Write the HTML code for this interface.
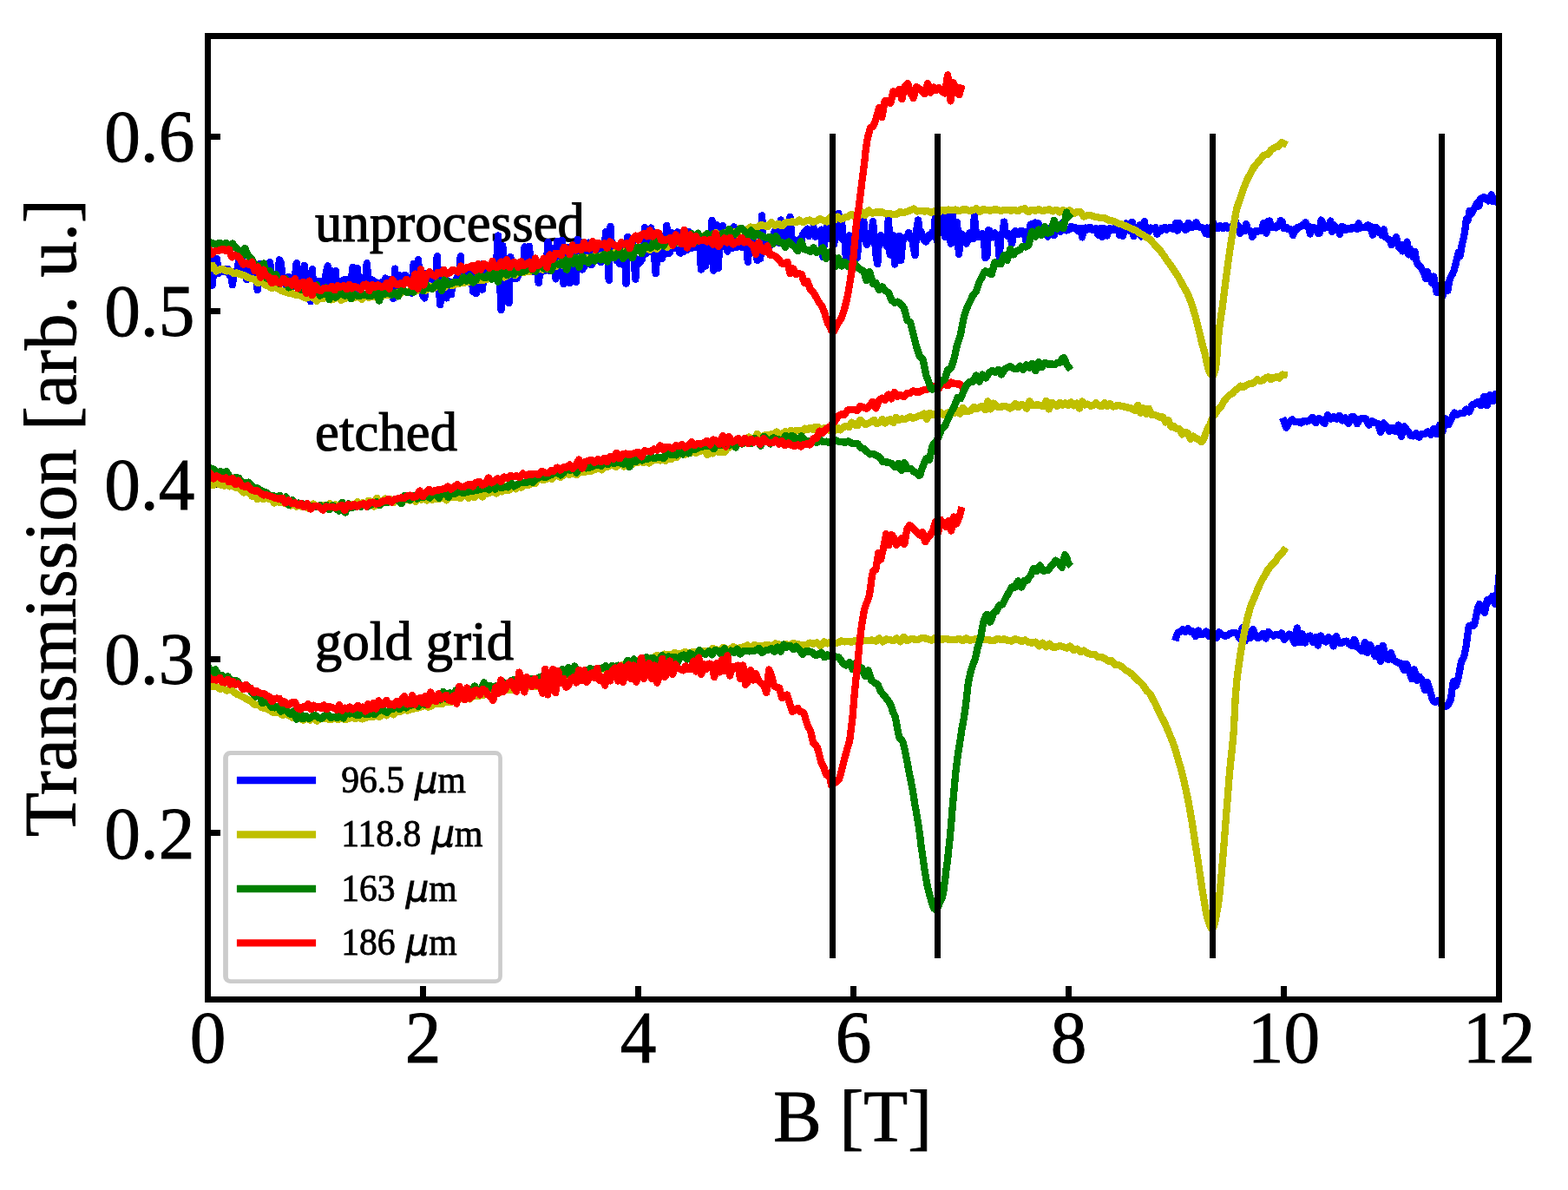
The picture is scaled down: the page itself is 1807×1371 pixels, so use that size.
<!DOCTYPE html>
<html lang="en"><head><meta charset="utf-8"><title>Transmission vs B</title>
<style>html,body{margin:0;padding:0;background:#fff}svg{display:block}text{font-family:"Liberation Serif","Times New Roman",Times,serif;fill:#000;stroke:#000;stroke-width:0.9px}.lg text{stroke-width:0.8px}.an text{stroke-width:1.2px;letter-spacing:0.2px}.mu{font-family:"DejaVu Sans","Liberation Sans",sans-serif;font-style:italic}</style></head><body>
<svg width="1807" height="1371" viewBox="0 0 1807 1371">
<rect width="1807" height="1371" fill="#fff"/>
<defs><clipPath id="ax"><rect x="239.5" y="41.5" width="1488.0" height="1110.0"/></clipPath></defs>
<g fill="#000" shape-rendering="crispEdges">
<rect x="236.0" y="1136" width="7" height="15.5"/>
<rect x="484.0" y="1136" width="7" height="15.5"/>
<rect x="732.0" y="1136" width="7" height="15.5"/>
<rect x="980.0" y="1136" width="7" height="15.5"/>
<rect x="1228.0" y="1136" width="7" height="15.5"/>
<rect x="1476.0" y="1136" width="7" height="15.5"/>
<rect x="1724.0" y="1136" width="7" height="15.5"/>
<rect x="239.5" y="956" width="14.5" height="7"/>
<rect x="239.5" y="756" width="14.5" height="7"/>
<rect x="239.5" y="555" width="14.5" height="7"/>
<rect x="239.5" y="355" width="14.5" height="7"/>
<rect x="239.5" y="154" width="14.5" height="7"/>
</g>
<g class="an" font-size="62.5">
<text transform="translate(363.0 278.0) scale(1 1.025)">unprocessed</text>
<text transform="translate(363.0 519.3) scale(1 1.025)">etched</text>
<text transform="translate(363.0 759.8) scale(1 1.025)">gold grid</text>
</g>
<g clip-path="url(#ax)" fill="none" stroke-width="8.3" stroke-linejoin="round" stroke-linecap="square" shape-rendering="crispEdges">
<path stroke="#0000ff" d="M1355.5 734.4 L1356.9 730.0 L1357.3 729.3 L1359.1 727.8 L1359.9 728.3 L1360.9 727.1 L1362.7 725.2 L1362.9 725.0 L1364.5 726.6 L1365.9 728.0 L1366.3 727.5 L1368.1 725.3 L1368.9 724.3 L1369.9 725.6 L1371.7 727.8 L1371.9 727.9 L1373.5 727.7 L1374.9 727.5 L1375.3 728.4 L1377.1 731.8 L1377.9 733.2 L1378.9 730.8 L1380.7 726.7 L1380.9 726.5 L1382.5 729.0 L1383.9 731.1 L1384.3 731.0 L1386.2 730.7 L1386.9 730.5 L1388.0 729.4 L1389.8 727.6 L1389.9 727.5 L1391.6 730.5 L1392.9 732.8 L1393.4 732.2 L1395.2 730.0 L1395.9 729.1 L1397.0 728.9 L1398.8 728.7 L1398.9 728.7 L1400.6 732.2 L1401.9 734.8 L1402.4 733.7 L1404.2 729.9 L1404.9 728.4 L1406.0 729.3 L1407.8 730.9 L1407.9 730.9 L1409.6 731.8 L1410.9 732.5 L1411.4 732.5 L1413.2 732.4 L1413.9 732.4 L1415.0 731.7 L1416.8 730.5 L1416.9 730.4 L1418.6 729.6 L1419.9 729.0 L1420.4 729.1 L1422.2 729.1 L1422.9 729.2 L1424.0 729.4 L1425.8 729.9 L1425.9 729.9 L1427.6 733.5 L1428.9 736.1 L1429.4 733.6 L1431.2 725.8 L1431.9 723.0 L1433.0 729.0 L1434.8 738.2 L1434.9 738.4 L1436.6 731.9 L1437.9 727.3 L1438.4 728.7 L1440.2 733.1 L1440.9 734.7 L1442.0 730.9 L1443.9 725.0 L1443.9 725.0 L1445.7 729.7 L1446.9 732.9 L1447.5 733.3 L1449.3 734.7 L1449.9 735.2 L1451.1 734.3 L1452.9 732.9 L1452.9 732.9 L1454.7 730.9 L1455.9 729.6 L1456.5 730.8 L1458.3 734.3 L1458.9 735.5 L1460.1 732.4 L1461.9 727.8 L1461.9 727.9 L1463.7 729.6 L1464.9 730.8 L1465.5 731.2 L1467.3 732.3 L1467.9 732.7 L1469.1 732.0 L1470.9 730.9 L1470.9 730.9 L1472.7 731.4 L1473.9 731.8 L1474.5 731.3 L1476.3 729.8 L1476.9 729.4 L1478.1 732.6 L1479.9 737.1 L1479.9 737.1 L1481.7 735.1 L1482.9 733.8 L1483.5 733.1 L1485.3 731.3 L1485.9 730.7 L1487.1 731.6 L1488.9 732.8 L1488.9 733.0 L1490.7 738.0 L1491.9 741.1 L1492.5 737.2 L1494.3 726.6 L1494.9 723.5 L1496.1 730.7 L1497.9 740.4 L1497.9 740.2 L1499.7 734.3 L1500.9 730.6 L1501.6 732.9 L1503.4 738.9 L1503.9 740.6 L1505.2 737.5 L1506.9 733.4 L1507.0 733.4 L1508.8 732.9 L1509.9 732.6 L1510.6 734.3 L1512.4 738.6 L1512.9 739.8 L1514.2 737.2 L1515.9 733.9 L1516.0 734.2 L1517.8 740.0 L1518.9 743.5 L1519.6 740.9 L1521.4 734.3 L1521.9 732.5 L1523.2 734.8 L1524.9 737.8 L1525.0 737.9 L1526.8 738.8 L1527.9 739.4 L1528.6 738.2 L1530.4 735.1 L1530.9 734.3 L1532.2 735.1 L1533.9 736.0 L1534.0 736.3 L1535.8 741.4 L1536.9 744.4 L1537.6 741.6 L1539.4 734.9 L1539.9 733.2 L1541.2 736.6 L1542.9 740.7 L1543.0 740.7 L1544.8 741.0 L1545.9 741.2 L1546.6 740.7 L1548.4 739.5 L1548.9 739.2 L1550.2 738.9 L1551.9 738.6 L1552.0 738.8 L1553.8 740.9 L1554.9 742.1 L1555.6 742.5 L1557.4 743.6 L1557.9 743.9 L1559.2 740.5 L1560.9 736.7 L1561.1 737.2 L1562.9 742.3 L1563.9 745.2 L1564.7 745.8 L1566.5 747.0 L1566.9 747.2 L1568.3 748.8 L1569.9 750.4 L1570.1 749.7 L1571.9 743.4 L1572.9 739.9 L1573.7 743.2 L1575.5 750.5 L1575.9 752.1 L1577.3 747.9 L1578.9 743.2 L1579.1 743.6 L1580.9 747.0 L1581.9 748.9 L1582.7 750.9 L1584.5 755.3 L1584.9 756.2 L1586.3 751.9 L1587.9 747.1 L1588.1 748.2 L1589.9 757.2 L1590.9 762.0 L1591.7 756.9 L1593.5 745.9 L1593.9 743.7 L1595.3 750.7 L1596.9 758.2 L1597.1 758.4 L1598.9 759.4 L1599.9 760.0 L1600.7 757.7 L1602.5 753.1 L1602.9 752.2 L1604.3 756.1 L1605.9 760.2 L1606.1 760.3 L1607.9 761.5 L1608.9 762.1 L1609.7 762.6 L1611.5 763.8 L1611.9 764.0 L1613.3 764.2 L1614.9 764.4 L1615.1 765.1 L1616.9 769.7 L1617.9 772.0 L1618.8 769.8 L1620.6 765.4 L1620.9 764.7 L1622.4 769.0 L1623.9 773.3 L1624.2 774.1 L1626.0 779.5 L1626.9 782.2 L1627.8 778.9 L1629.6 772.4 L1629.9 771.3 L1631.4 777.6 L1632.9 783.9 L1633.2 783.4 L1635.0 780.9 L1635.9 779.6 L1636.8 780.9 L1638.6 783.3 L1638.9 783.7 L1640.4 789.3 L1641.9 794.8 L1642.2 793.8 L1644.0 788.4 L1644.9 786.0 L1645.8 788.7 L1647.6 794.8 L1647.9 795.7 L1649.4 801.0 L1650.9 806.1 L1651.2 806.5 L1653.0 808.5 L1653.9 809.1 L1654.8 808.6 L1656.6 807.4 L1656.9 807.2 L1658.4 808.6 L1659.9 809.7 L1660.2 810.3 L1662.0 813.3 L1662.9 814.7 L1663.8 814.3 L1665.6 813.3 L1665.9 813.2 L1667.4 813.5 L1668.9 811.8 L1669.2 811.3 L1671.0 807.8 L1671.9 805.9 L1672.8 799.0 L1674.6 786.7 L1674.9 785.3 L1676.5 787.8 L1677.9 790.2 L1678.3 789.0 L1680.1 782.7 L1680.9 779.6 L1681.9 774.3 L1683.7 763.8 L1683.9 762.6 L1685.5 759.9 L1686.9 757.3 L1687.3 755.7 L1689.1 747.0 L1689.9 742.6 L1690.9 734.2 L1692.7 722.0 L1692.9 720.9 L1694.5 720.6 L1695.9 721.3 L1696.3 721.2 L1698.1 720.8 L1698.9 720.2 L1699.9 716.0 L1701.7 706.7 L1701.9 705.9 L1703.5 699.3 L1704.9 695.8 L1705.3 696.4 L1707.1 699.1 L1707.9 700.3 L1708.9 702.5 L1710.7 705.8 L1710.9 706.1 L1712.5 698.2 L1713.9 691.3 L1714.3 691.5 L1716.1 692.2 L1716.9 692.6 L1717.9 690.6 L1719.7 687.2 L1719.9 686.9 L1721.5 691.9 L1722.9 696.2 L1723.3 693.9 L1725.1 684.9 L1725.9 681.3 L1726.9 672.0 L1728.7 650.0"/>
<path stroke="#bfbf00" d="M239.5 789.6 L241.3 790.1 L241.4 790.2 L243.1 790.6 L244.9 791.0 L245.4 791.1 L246.7 791.1 L248.5 791.1 L249.4 791.1 L250.3 791.7 L252.1 792.9 L253.4 793.8 L253.9 793.7 L255.7 793.4 L257.4 793.0 L257.5 793.0 L259.3 794.2 L261.1 795.4 L261.4 795.6 L262.9 795.1 L264.7 794.6 L265.4 794.4 L266.5 795.1 L268.3 796.4 L269.4 797.3 L270.1 797.7 L271.9 798.9 L273.4 799.9 L273.7 800.0 L275.5 800.8 L277.3 801.5 L277.4 801.6 L279.1 802.5 L280.9 803.5 L281.4 803.8 L282.7 804.5 L284.5 805.6 L285.4 806.1 L286.3 806.4 L288.1 807.1 L289.4 807.6 L289.9 808.1 L291.7 809.9 L293.4 811.6 L293.5 811.6 L295.3 811.7 L297.1 811.8 L297.4 811.9 L298.9 813.0 L300.7 814.5 L301.4 815.1 L302.5 815.4 L304.3 815.9 L305.4 816.2 L306.1 816.3 L307.9 816.6 L309.4 816.8 L309.7 817.0 L311.5 818.7 L313.3 820.3 L313.4 820.5 L315.1 820.4 L316.9 820.4 L317.4 820.4 L318.7 820.5 L320.5 820.8 L321.4 820.9 L322.3 821.5 L324.1 822.8 L325.4 823.8 L325.9 823.7 L327.7 823.3 L329.4 822.8 L329.5 822.8 L331.3 823.6 L333.1 824.3 L333.4 824.4 L334.9 825.3 L336.7 826.4 L337.4 826.9 L338.5 826.9 L340.3 826.8 L341.4 826.8 L342.1 826.7 L343.9 826.6 L345.4 826.4 L345.7 826.6 L347.5 828.2 L349.3 829.7 L349.4 829.8 L351.1 828.4 L352.9 826.8 L353.4 826.3 L354.7 827.3 L356.5 828.8 L357.4 829.6 L358.3 828.9 L360.1 827.3 L361.4 826.1 L361.9 826.6 L363.7 828.7 L365.4 830.7 L365.5 830.6 L367.3 829.1 L369.1 827.7 L369.4 827.4 L370.9 827.5 L372.7 827.6 L373.4 827.6 L374.5 827.8 L376.3 828.1 L377.4 828.3 L378.1 828.4 L379.9 828.8 L381.4 829.2 L381.7 829.0 L383.5 827.8 L385.3 826.6 L385.4 826.5 L387.1 827.7 L388.9 828.9 L389.4 829.3 L390.7 828.6 L392.5 827.7 L393.4 827.2 L394.3 827.6 L396.1 828.4 L397.4 829.0 L397.9 828.9 L399.7 828.5 L401.4 828.1 L401.5 828.1 L403.3 827.3 L405.1 826.6 L405.4 826.4 L406.9 827.0 L408.7 827.7 L409.4 828.0 L410.5 827.5 L412.3 826.7 L413.4 826.1 L414.1 826.5 L415.9 827.5 L417.4 828.4 L417.7 828.3 L419.5 827.8 L421.3 827.2 L421.4 827.2 L423.1 826.6 L424.9 825.9 L425.4 825.7 L426.7 825.8 L428.5 825.9 L429.4 826.0 L430.3 825.8 L432.1 825.3 L433.4 824.9 L433.9 825.0 L435.7 825.5 L437.4 825.9 L437.5 825.9 L439.3 823.9 L441.1 821.9 L441.4 821.5 L442.9 822.5 L444.7 823.8 L445.4 824.3 L446.5 823.2 L448.3 821.1 L449.4 819.8 L450.1 820.4 L451.9 821.9 L453.4 823.3 L453.7 823.1 L455.5 821.5 L457.3 819.9 L457.4 819.7 L459.1 819.7 L460.9 819.6 L461.4 819.6 L462.7 819.1 L464.5 818.4 L465.4 818.0 L466.3 818.1 L468.1 818.4 L469.4 818.6 L469.9 818.5 L471.7 818.0 L473.4 817.5 L473.5 817.5 L475.3 816.9 L477.1 816.4 L477.4 816.3 L478.9 816.0 L480.7 815.7 L481.4 815.6 L482.5 815.3 L484.3 814.8 L485.4 814.5 L486.1 814.2 L487.9 813.3 L489.4 812.5 L489.7 812.6 L491.5 813.5 L493.3 814.5 L493.4 814.6 L495.1 814.0 L496.9 813.3 L497.4 813.1 L498.7 812.1 L500.5 810.8 L501.4 810.0 L502.3 810.3 L504.1 810.8 L505.4 811.2 L505.9 811.1 L507.7 811.1 L509.4 811.0 L509.5 811.0 L511.3 809.7 L513.1 808.5 L513.4 808.2 L514.9 808.4 L516.7 808.7 L517.4 808.8 L518.5 808.7 L520.3 808.6 L521.4 808.5 L522.1 808.1 L523.9 807.0 L525.4 806.0 L525.7 806.0 L527.5 805.5 L529.3 805.0 L529.4 804.9 L531.1 805.1 L532.9 805.3 L533.4 805.3 L534.7 804.8 L536.5 804.0 L537.4 803.6 L538.3 804.0 L540.1 804.8 L541.4 805.4 L541.9 805.0 L543.7 803.0 L545.4 801.1 L545.5 801.2 L547.3 801.7 L549.1 802.2 L549.4 802.3 L550.8 801.9 L552.6 801.5 L553.4 801.2 L554.4 801.1 L556.2 800.9 L557.4 800.7 L558.0 800.5 L559.8 800.0 L561.4 799.5 L561.6 799.4 L563.4 798.5 L565.2 797.6 L565.4 797.5 L567.0 798.1 L568.8 798.7 L569.4 798.9 L570.6 798.4 L572.4 797.6 L573.4 797.1 L574.2 797.2 L576.0 797.4 L577.4 797.5 L577.8 797.2 L579.6 795.8 L581.4 794.4 L581.4 794.4 L583.2 794.6 L585.0 794.8 L585.4 794.9 L586.8 795.0 L588.6 795.1 L589.4 795.2 L590.4 794.9 L592.2 794.5 L593.4 794.2 L594.0 794.0 L595.8 793.2 L597.4 792.6 L597.6 792.5 L599.4 791.8 L601.2 791.1 L601.4 791.0 L603.0 791.1 L604.8 791.2 L605.4 791.2 L606.6 791.0 L608.4 790.8 L609.4 790.7 L610.2 790.1 L612.0 788.8 L613.4 787.8 L613.8 788.1 L615.6 789.6 L617.4 791.0 L617.4 791.0 L619.2 788.1 L621.0 785.0 L621.4 784.3 L622.8 785.6 L624.6 787.2 L625.4 787.9 L626.4 786.5 L628.2 784.1 L629.4 782.5 L630.0 782.4 L631.8 782.2 L633.4 782.0 L633.6 782.1 L635.4 782.8 L637.2 783.6 L637.4 783.7 L639.0 782.9 L640.8 782.1 L641.4 781.8 L642.6 781.3 L644.4 780.6 L645.4 780.2 L646.2 779.9 L648.0 779.1 L649.4 778.4 L649.8 778.6 L651.6 779.2 L653.4 779.8 L653.4 779.8 L655.2 778.6 L657.0 777.5 L657.4 777.2 L658.8 777.4 L660.6 777.6 L661.4 777.7 L662.4 777.6 L664.2 777.3 L665.4 777.1 L666.0 776.9 L667.8 776.5 L669.4 776.2 L669.6 776.2 L671.4 775.9 L673.2 775.6 L673.4 775.6 L675.0 774.2 L676.8 772.7 L677.4 772.1 L678.6 773.2 L680.4 774.8 L681.4 775.7 L682.2 774.9 L684.0 773.1 L685.4 771.6 L685.8 771.8 L687.6 772.4 L689.4 773.0 L689.4 773.1 L691.2 771.9 L693.0 770.7 L693.4 770.4 L694.8 770.6 L696.6 770.8 L697.4 770.9 L698.4 770.7 L700.2 770.4 L701.4 770.2 L702.0 770.0 L703.8 769.3 L705.4 768.7 L705.6 768.7 L707.4 768.2 L709.2 767.8 L709.4 767.7 L711.0 767.9 L712.8 768.0 L713.4 768.0 L714.6 767.4 L716.4 766.4 L717.4 765.8 L718.2 765.8 L720.0 765.8 L721.4 765.8 L721.8 765.8 L723.6 765.7 L725.4 765.6 L725.4 765.6 L727.2 763.4 L729.0 761.2 L729.4 760.7 L730.8 762.3 L732.6 764.4 L733.4 765.4 L734.4 764.1 L736.2 761.8 L737.4 760.2 L738.0 760.0 L739.8 759.3 L741.4 758.7 L741.6 758.7 L743.4 759.0 L745.2 759.2 L745.4 759.3 L747.0 758.9 L748.8 758.5 L749.4 758.3 L750.6 758.0 L752.4 757.6 L753.4 757.3 L754.2 756.9 L756.0 755.8 L757.4 755.0 L757.8 755.2 L759.6 755.8 L761.4 756.6 L761.4 756.6 L763.2 755.2 L765.0 753.9 L765.4 753.6 L766.8 753.8 L768.6 754.2 L769.4 754.3 L770.4 754.5 L772.2 754.8 L773.4 754.9 L774.0 754.5 L775.8 753.2 L777.4 752.1 L777.6 752.2 L779.4 752.9 L781.2 753.6 L781.4 753.7 L783.0 753.5 L784.8 753.2 L785.4 753.1 L786.6 752.5 L788.4 751.6 L789.4 751.1 L790.2 751.4 L792.0 751.9 L793.4 752.4 L793.8 752.3 L795.6 751.9 L797.4 751.5 L797.4 751.4 L799.2 751.2 L801.0 750.8 L801.4 750.8 L802.8 750.9 L804.6 751.1 L805.4 751.2 L806.4 751.0 L808.2 750.7 L809.4 750.5 L810.0 750.4 L811.8 750.1 L813.4 749.8 L813.6 749.8 L815.4 750.5 L817.2 751.1 L817.4 751.2 L819.0 749.6 L820.8 747.8 L821.4 747.1 L822.6 747.5 L824.4 748.1 L825.4 748.5 L826.2 748.9 L828.0 749.9 L829.4 750.7 L829.8 750.3 L831.6 748.2 L833.4 746.1 L833.4 746.1 L835.2 746.8 L837.0 747.5 L837.4 747.7 L838.8 747.8 L840.6 747.8 L841.4 747.9 L842.4 747.2 L844.2 745.9 L845.4 745.1 L846.0 745.6 L847.8 747.1 L849.4 748.6 L849.6 748.5 L851.4 747.4 L853.2 746.4 L853.4 746.2 L855.0 745.9 L856.8 745.4 L857.4 745.3 L858.6 744.7 L860.4 743.9 L861.4 743.4 L862.2 744.1 L864.0 745.9 L865.4 747.2 L865.8 746.9 L867.6 745.0 L869.4 743.1 L869.4 743.1 L871.2 743.6 L873.0 744.2 L873.4 744.4 L874.8 744.5 L876.6 744.6 L877.4 744.6 L878.4 744.3 L880.2 743.8 L881.4 743.5 L882.0 743.4 L883.8 743.1 L885.4 742.9 L885.6 742.9 L887.4 744.0 L889.2 745.0 L889.4 745.2 L891.0 743.8 L892.8 742.1 L893.4 741.5 L894.6 741.8 L896.4 742.2 L897.4 742.5 L898.2 742.7 L900.0 743.4 L901.4 743.9 L901.8 743.7 L903.6 742.8 L905.4 741.9 L905.4 741.9 L907.2 743.0 L909.0 744.1 L909.4 744.3 L910.8 743.3 L912.6 742.0 L913.4 741.4 L914.4 741.5 L916.2 741.6 L917.4 741.7 L918.0 741.8 L919.8 742.3 L921.4 742.6 L921.6 742.6 L923.4 742.8 L925.2 742.9 L925.4 742.9 L927.0 742.9 L928.8 742.9 L929.4 742.9 L930.6 742.3 L932.4 741.2 L933.4 740.6 L934.2 740.8 L936.0 741.4 L937.4 741.8 L937.8 741.7 L939.6 741.0 L941.4 740.4 L941.4 740.4 L943.2 742.2 L945.0 743.9 L945.4 744.4 L946.8 742.7 L948.6 740.5 L949.4 739.4 L950.4 739.9 L952.2 740.8 L953.4 741.4 L954.0 741.1 L955.8 740.3 L957.4 739.6 L957.6 739.6 L959.4 740.3 L961.2 740.9 L961.4 741.0 L963.0 740.8 L964.8 740.5 L965.4 740.4 L966.6 739.9 L968.4 739.0 L969.4 738.5 L970.2 738.7 L972.0 739.1 L973.4 739.4 L973.8 739.3 L975.6 739.1 L977.4 739.0 L977.4 739.0 L979.2 739.3 L981.0 739.7 L981.4 739.8 L982.8 739.2 L984.6 738.4 L985.4 738.0 L986.4 738.0 L988.2 738.2 L989.4 738.3 L990.0 738.2 L991.8 737.9 L993.4 737.7 L993.6 737.7 L995.4 737.8 L997.2 738.0 L997.4 738.0 L999.0 737.9 L1000.8 737.7 L1001.4 737.7 L1002.6 737.7 L1004.4 737.6 L1005.4 737.6 L1006.2 737.8 L1008.0 738.3 L1009.4 738.6 L1009.8 738.4 L1011.6 736.9 L1013.4 735.4 L1013.4 735.3 L1015.2 737.1 L1017.0 738.9 L1017.4 739.4 L1018.8 738.4 L1020.6 737.1 L1021.4 736.4 L1022.4 736.6 L1024.2 736.8 L1025.4 737.0 L1026.0 737.2 L1027.8 737.7 L1029.4 738.1 L1029.6 738.0 L1031.4 736.9 L1033.2 735.7 L1033.4 735.5 L1035.0 737.0 L1036.8 738.8 L1037.4 739.4 L1038.6 737.8 L1040.4 735.3 L1041.4 733.8 L1042.2 734.6 L1044.0 736.5 L1045.4 738.1 L1045.8 737.9 L1047.6 737.1 L1049.4 736.3 L1049.4 736.3 L1051.2 736.3 L1053.0 736.4 L1053.4 736.4 L1054.8 736.6 L1056.6 736.9 L1057.4 737.1 L1058.4 736.7 L1060.2 735.9 L1061.4 735.3 L1062.0 735.3 L1063.8 735.3 L1065.4 735.3 L1065.6 735.3 L1067.4 735.7 L1069.2 736.2 L1069.4 736.2 L1071.0 736.7 L1072.8 737.4 L1073.4 737.6 L1074.6 736.9 L1076.4 735.8 L1077.4 735.1 L1078.2 735.1 L1080.0 734.9 L1081.4 734.8 L1081.8 735.0 L1083.6 736.0 L1085.4 736.9 L1085.4 737.0 L1087.2 736.5 L1089.0 736.1 L1089.4 736.0 L1090.8 736.2 L1092.6 736.5 L1093.4 736.6 L1094.4 736.8 L1096.2 737.0 L1097.4 737.2 L1098.0 737.2 L1099.8 737.0 L1101.4 736.9 L1101.6 736.9 L1103.4 736.4 L1105.2 735.9 L1105.4 735.9 L1107.0 736.8 L1108.8 737.9 L1109.4 738.3 L1110.6 737.5 L1112.4 736.2 L1113.4 735.4 L1114.2 735.9 L1116.0 737.0 L1117.4 737.8 L1117.8 737.8 L1119.6 737.4 L1121.4 737.0 L1121.4 737.0 L1123.2 736.5 L1125.0 736.1 L1125.4 735.9 L1126.8 736.7 L1128.6 737.7 L1129.4 738.2 L1130.4 737.8 L1132.2 737.1 L1133.4 736.6 L1134.0 736.7 L1135.8 736.8 L1137.4 737.0 L1137.6 737.0 L1139.4 737.3 L1141.2 737.6 L1141.4 737.7 L1143.0 737.8 L1144.8 738.0 L1145.4 738.1 L1146.6 737.4 L1148.4 736.4 L1149.4 735.8 L1150.2 736.0 L1152.0 736.5 L1153.4 736.9 L1153.8 736.9 L1155.6 736.6 L1157.4 736.3 L1157.4 736.2 L1159.2 737.0 L1161.0 737.7 L1161.4 738.0 L1162.8 738.1 L1164.6 738.4 L1165.4 738.6 L1166.4 738.0 L1168.2 736.9 L1169.4 736.2 L1169.9 736.3 L1171.7 736.8 L1173.4 737.4 L1173.5 737.4 L1175.3 738.2 L1177.1 738.9 L1177.4 739.0 L1178.9 738.4 L1180.7 737.8 L1181.4 737.5 L1182.5 738.2 L1184.3 739.3 L1185.4 739.9 L1186.1 740.0 L1187.9 740.4 L1189.4 740.7 L1189.7 740.6 L1191.5 740.1 L1193.3 739.6 L1193.4 739.6 L1195.1 741.6 L1196.9 743.8 L1197.4 744.4 L1198.7 743.1 L1200.5 741.4 L1201.4 740.6 L1202.3 741.7 L1204.1 743.8 L1205.4 745.4 L1205.9 744.9 L1207.7 743.3 L1209.4 741.7 L1209.5 741.8 L1211.3 743.7 L1213.1 745.5 L1213.4 745.8 L1214.9 745.7 L1216.7 745.5 L1217.4 745.4 L1218.5 745.0 L1220.3 744.5 L1221.4 744.1 L1222.1 744.3 L1223.9 744.8 L1225.4 745.2 L1225.7 745.3 L1227.5 746.0 L1229.3 746.7 L1229.4 746.8 L1231.1 745.8 L1232.9 744.9 L1233.4 744.6 L1234.7 746.1 L1236.5 748.2 L1237.4 749.3 L1238.3 748.9 L1240.1 748.1 L1241.4 747.6 L1241.9 748.1 L1243.7 749.7 L1245.4 751.3 L1245.5 751.3 L1247.3 750.5 L1249.1 749.8 L1249.4 749.6 L1250.9 750.9 L1252.7 752.3 L1253.4 752.8 L1254.5 753.1 L1256.3 753.6 L1257.4 753.9 L1258.1 753.9 L1259.9 753.9 L1261.4 753.9 L1261.7 754.1 L1263.5 755.5 L1265.3 756.9 L1265.4 756.9 L1267.1 757.0 L1268.9 757.1 L1269.4 757.1 L1270.7 757.7 L1272.5 758.5 L1273.4 758.9 L1274.3 759.6 L1276.1 760.8 L1277.4 761.7 L1277.9 761.6 L1279.7 761.4 L1281.4 761.3 L1281.5 761.4 L1283.3 763.5 L1285.1 765.6 L1285.4 765.9 L1286.9 765.9 L1288.7 766.1 L1289.4 766.2 L1290.5 766.8 L1292.3 767.9 L1293.4 768.6 L1294.1 769.2 L1295.9 770.9 L1297.4 772.3 L1297.7 772.4 L1299.5 773.3 L1301.3 774.3 L1301.4 774.4 L1303.1 775.7 L1304.9 777.0 L1305.4 777.4 L1306.7 778.9 L1308.5 781.1 L1309.4 782.2 L1310.3 782.9 L1312.1 784.3 L1313.4 785.4 L1313.9 785.9 L1315.7 787.7 L1317.4 789.4 L1317.5 789.5 L1319.3 792.3 L1321.1 795.1 L1321.4 795.6 L1322.9 797.0 L1324.7 798.8 L1325.4 799.6 L1326.5 801.6 L1328.3 805.0 L1329.4 807.2 L1330.1 808.4 L1331.9 811.9 L1333.4 815.1 L1333.7 815.8 L1335.5 819.9 L1337.3 823.7 L1337.4 823.9 L1339.1 827.0 L1340.9 830.4 L1341.4 831.3 L1342.7 834.1 L1344.5 838.2 L1345.4 840.3 L1346.3 842.4 L1348.1 846.7 L1349.4 850.0 L1349.9 851.1 L1351.7 855.6 L1353.4 860.1 L1353.5 860.4 L1355.3 866.4 L1357.1 872.8 L1357.4 874.0 L1358.9 878.9 L1360.7 885.0 L1361.4 887.5 L1362.5 891.8 L1364.3 899.4 L1365.4 904.3 L1366.1 907.2 L1367.9 915.5 L1369.4 923.1 L1369.7 924.6 L1371.5 934.5 L1373.3 944.8 L1373.4 945.5 L1375.1 956.2 L1376.9 968.1 L1377.4 971.6 L1378.7 979.7 L1380.5 991.2 L1381.4 997.3 L1382.3 1003.4 L1384.1 1015.8 L1385.4 1024.4 L1385.9 1027.4 L1387.7 1038.2 L1389.4 1048.4 L1389.5 1048.8 L1391.3 1057.3 L1393.1 1063.0 L1393.4 1063.7 L1394.9 1067.7 L1396.7 1070.5 L1397.4 1070.4 L1398.5 1068.3 L1400.3 1061.8 L1401.4 1056.2 L1402.1 1052.6 L1403.9 1042.4 L1405.4 1031.0 L1405.7 1028.4 L1407.5 1008.7 L1409.3 988.1 L1409.4 986.6 L1411.1 965.5 L1412.9 942.3 L1413.4 935.7 L1414.7 919.2 L1416.5 896.6 L1417.4 885.9 L1418.3 877.0 L1420.1 860.8 L1421.4 846.6 L1421.9 840.4 L1423.7 803.6 L1425.4 783.0 L1425.5 782.4 L1427.3 768.7 L1429.1 756.5 L1429.4 754.3 L1430.9 745.2 L1432.7 735.3 L1433.4 731.7 L1434.5 726.3 L1436.3 717.8 L1437.4 712.8 L1438.1 710.0 L1439.9 703.3 L1441.4 698.4 L1441.7 697.6 L1443.5 693.3 L1445.3 689.2 L1445.4 688.9 L1447.1 684.7 L1448.9 680.2 L1449.4 678.9 L1450.7 676.0 L1452.5 672.0 L1453.4 670.1 L1454.3 668.5 L1456.1 665.3 L1457.4 663.2 L1457.9 662.3 L1459.7 659.0 L1461.4 656.0 L1461.5 655.9 L1463.3 653.7 L1465.1 651.5 L1465.4 651.1 L1466.9 649.7 L1468.7 648.0 L1469.4 647.3 L1470.5 645.6 L1472.3 642.6 L1473.4 640.8 L1474.1 640.2 L1475.9 638.6 L1477.4 637.4 L1477.7 636.9 L1479.5 634.2"/>
<path stroke="#008000" d="M239.5 771.7 L240.9 769.6 L241.3 770.2 L243.1 773.5 L244.5 776.1 L244.9 775.6 L246.7 773.2 L248.1 771.3 L248.5 771.9 L250.3 775.0 L251.7 777.5 L252.1 777.5 L253.9 777.7 L255.3 777.8 L255.7 778.1 L257.5 779.8 L258.9 781.2 L259.3 781.0 L261.1 780.0 L262.5 779.2 L262.9 779.7 L264.7 782.3 L266.1 784.4 L266.5 784.4 L268.3 784.5 L269.7 784.6 L270.1 784.6 L271.9 784.5 L273.3 784.4 L273.7 785.0 L275.5 787.8 L276.9 790.1 L277.3 790.2 L279.1 790.7 L280.5 791.0 L280.9 790.8 L282.7 789.9 L284.1 789.1 L284.5 789.7 L286.3 792.5 L287.7 794.8 L288.1 795.2 L289.9 797.1 L291.3 798.7 L291.7 799.0 L293.5 801.1 L294.9 802.7 L295.3 802.3 L297.1 800.2 L298.5 798.5 L298.9 799.7 L300.7 805.6 L302.1 810.3 L302.5 810.1 L304.3 809.4 L305.7 808.7 L306.1 808.7 L307.9 808.5 L309.3 808.3 L309.7 809.0 L311.5 812.4 L312.9 815.0 L313.3 815.1 L315.1 815.3 L316.5 815.4 L316.9 815.3 L318.7 814.5 L320.1 813.8 L320.5 814.4 L322.3 817.3 L323.7 819.6 L324.1 819.4 L325.9 818.5 L327.3 817.7 L327.7 817.9 L329.5 818.6 L330.9 819.1 L331.3 819.5 L333.1 821.3 L334.5 822.7 L334.9 822.4 L336.7 820.8 L338.1 819.5 L338.5 820.4 L340.3 825.0 L341.7 828.6 L342.1 827.7 L343.9 823.6 L345.3 820.3 L345.7 821.2 L347.5 825.2 L348.9 828.3 L349.3 828.0 L351.1 826.3 L352.5 824.9 L352.9 825.2 L354.7 826.8 L356.1 828.0 L356.5 827.8 L358.3 826.5 L359.7 825.5 L360.1 825.3 L361.9 824.6 L363.3 824.0 L363.7 824.3 L365.5 825.7 L366.9 826.8 L367.3 826.9 L369.1 827.5 L370.5 827.9 L370.9 827.5 L372.7 825.8 L374.1 824.5 L374.5 824.4 L376.3 823.9 L377.7 823.4 L378.1 823.8 L379.9 825.6 L381.3 827.0 L381.7 826.8 L383.5 826.3 L384.9 825.8 L385.3 826.0 L387.1 826.6 L388.5 827.0 L388.9 826.4 L390.7 823.1 L392.1 820.5 L392.5 821.3 L394.3 824.8 L395.7 827.5 L396.1 826.8 L397.9 823.7 L399.3 821.2 L399.7 821.3 L401.5 822.0 L402.9 822.6 L403.3 822.5 L405.1 821.8 L406.5 821.3 L406.9 821.6 L408.7 822.7 L410.1 823.5 L410.5 823.6 L412.3 823.8 L413.7 823.9 L414.1 823.2 L415.9 819.8 L417.3 817.2 L417.7 817.9 L419.5 820.7 L420.9 822.9 L421.3 822.9 L423.1 822.9 L424.5 822.9 L424.9 822.2 L426.7 818.7 L428.1 816.1 L428.5 816.8 L430.3 820.4 L431.7 823.1 L432.1 822.8 L433.9 821.0 L435.3 819.7 L435.7 819.5 L437.5 818.6 L438.9 817.9 L439.3 818.0 L441.1 818.6 L442.5 819.1 L442.9 819.3 L444.7 820.2 L446.1 820.8 L446.5 820.4 L448.3 818.7 L449.7 817.3 L450.1 817.2 L451.9 816.9 L453.3 816.7 L453.7 816.3 L455.5 814.6 L456.9 813.3 L457.3 813.7 L459.1 815.7 L460.5 817.3 L460.9 816.8 L462.7 814.9 L464.1 813.4 L464.5 813.6 L466.3 814.7 L467.7 815.5 L468.1 815.2 L469.9 814.0 L471.3 813.1 L471.7 813.0 L473.5 812.5 L474.9 812.0 L475.3 811.7 L477.1 810.4 L478.5 809.3 L478.9 809.8 L480.7 812.2 L482.1 814.1 L482.5 813.6 L484.3 811.2 L485.7 809.3 L486.1 809.5 L488.0 810.7 L489.3 811.5 L489.8 810.9 L491.6 807.9 L492.9 805.6 L493.4 805.7 L495.2 806.0 L496.5 806.2 L497.0 806.3 L498.8 806.9 L500.1 807.3 L500.6 807.1 L502.4 806.1 L503.7 805.3 L504.2 805.4 L506.0 806.0 L507.3 806.4 L507.8 805.3 L509.6 800.5 L510.9 796.8 L511.4 797.8 L513.2 801.9 L514.5 805.1 L515.0 804.3 L516.8 800.9 L518.1 798.3 L518.6 798.6 L520.4 799.7 L521.7 800.6 L522.2 800.0 L524.0 797.4 L525.3 795.4 L525.8 795.8 L527.6 797.9 L528.9 799.5 L529.4 799.0 L531.2 796.9 L532.5 795.4 L533.0 795.3 L534.8 795.3 L536.1 795.2 L536.6 795.2 L538.4 795.1 L539.7 795.0 L540.2 795.1 L542.0 795.5 L543.3 795.8 L543.8 795.2 L545.6 792.5 L546.9 790.4 L547.4 791.0 L549.2 793.3 L550.5 795.1 L551.0 795.1 L552.8 795.3 L554.1 795.4 L554.6 794.4 L556.4 789.8 L557.7 786.3 L558.2 787.3 L560.0 791.9 L561.3 795.4 L561.8 794.7 L563.6 792.0 L564.9 789.9 L565.4 790.1 L567.2 791.3 L568.5 792.2 L569.0 791.9 L570.8 790.9 L572.1 790.1 L572.6 790.1 L574.4 790.2 L575.7 790.1 L576.2 789.6 L578.0 787.5 L579.3 785.9 L579.8 786.5 L581.6 788.9 L582.9 790.8 L583.4 790.3 L585.2 788.3 L586.5 786.8 L587.0 786.4 L588.8 784.9 L590.1 783.7 L590.6 783.6 L592.4 783.2 L593.7 782.9 L594.2 783.2 L596.0 784.6 L597.3 785.8 L597.8 785.4 L599.6 783.9 L600.9 782.8 L601.4 783.0 L603.2 783.4 L604.5 783.8 L605.0 783.6 L606.8 782.7 L608.1 782.1 L608.6 782.1 L610.4 782.5 L611.7 782.8 L612.2 782.7 L614.0 782.1 L615.3 781.7 L615.8 781.7 L617.6 781.8 L618.9 781.8 L619.4 781.6 L621.2 780.6 L622.5 779.8 L623.0 779.7 L624.8 779.2 L626.1 778.9 L626.6 778.8 L628.4 778.5 L629.7 778.4 L630.2 778.2 L632.0 777.4 L633.3 776.9 L633.8 776.4 L635.6 774.4 L636.9 772.9 L637.4 773.2 L639.2 774.3 L640.5 775.2 L641.0 775.7 L642.8 777.8 L644.1 779.5 L644.6 778.5 L646.4 774.4 L647.7 771.2 L648.2 772.0 L650.0 775.0 L651.3 777.2 L651.8 776.3 L653.6 772.2 L654.9 769.2 L655.4 770.8 L657.2 777.3 L658.5 782.3 L659.0 780.5 L660.8 773.2 L662.1 767.5 L662.6 768.5 L664.4 772.6 L665.7 775.6 L666.2 775.3 L668.0 773.9 L669.3 772.9 L669.8 773.0 L671.6 773.7 L672.9 774.1 L673.4 774.0 L675.2 773.4 L676.5 772.9 L677.0 772.6 L678.8 771.2 L680.1 770.1 L680.6 770.3 L682.4 771.0 L683.7 771.5 L684.2 771.8 L686.0 772.9 L687.3 773.7 L687.8 773.3 L689.6 771.8 L690.9 770.6 L691.4 770.5 L693.2 770.1 L694.5 769.8 L695.0 769.5 L696.8 768.2 L698.1 767.2 L698.6 767.8 L700.4 770.4 L701.7 772.3 L702.2 771.7 L704.0 769.0 L705.3 767.1 L705.8 767.2 L707.6 767.6 L708.9 767.8 L709.4 767.7 L711.2 767.1 L712.5 766.6 L713.0 766.8 L714.8 767.4 L716.1 767.8 L716.6 767.9 L718.4 768.2 L719.7 768.5 L720.2 767.6 L722.0 763.7 L723.3 760.8 L723.8 761.8 L725.6 765.9 L726.9 768.9 L727.4 767.7 L729.2 763.0 L730.5 759.5 L731.0 760.0 L732.8 762.0 L734.1 763.5 L734.6 763.4 L736.4 763.0 L737.7 762.8 L738.2 762.9 L740.0 763.5 L741.3 764.0 L741.8 763.1 L743.6 759.5 L744.9 756.9 L745.4 757.9 L747.2 762.0 L748.5 765.1 L749.0 764.2 L750.8 760.4 L752.1 757.7 L752.6 758.0 L754.4 759.2 L755.7 760.1 L756.2 760.4 L758.0 761.4 L759.3 762.1 L759.8 761.2 L761.6 757.6 L762.9 754.9 L763.4 756.2 L765.2 761.2 L766.5 765.0 L767.0 763.9 L768.8 759.6 L770.1 756.4 L770.6 756.5 L772.4 756.9 L773.7 757.2 L774.2 757.1 L776.0 757.1 L777.3 757.0 L777.8 757.8 L779.6 760.9 L780.9 763.2 L781.4 762.2 L783.2 758.6 L784.5 756.0 L785.0 755.8 L786.8 755.0 L788.1 754.5 L788.6 755.1 L790.4 757.6 L791.7 759.5 L792.2 758.6 L794.0 755.1 L795.3 752.5 L795.8 752.8 L797.6 754.0 L798.9 754.9 L799.4 755.1 L801.2 756.1 L802.5 756.8 L803.0 755.9 L804.8 752.0 L806.1 749.2 L806.6 749.7 L808.4 751.5 L809.7 752.8 L810.2 752.9 L812.0 753.4 L813.3 753.7 L813.8 753.3 L815.6 751.5 L816.9 750.2 L817.4 750.8 L819.2 752.9 L820.5 754.4 L821.0 753.7 L822.8 750.8 L824.1 748.8 L824.6 748.9 L826.4 749.6 L827.7 750.1 L828.2 750.5 L830.0 752.2 L831.3 753.5 L831.8 752.6 L833.6 749.3 L834.9 746.9 L835.4 747.9 L837.2 751.4 L838.5 754.0 L839.0 753.5 L840.8 751.3 L842.1 749.7 L842.6 750.0 L844.4 751.0 L845.7 751.8 L846.2 751.3 L848.0 749.1 L849.3 747.6 L849.8 748.4 L851.6 751.3 L852.9 753.5 L853.4 753.0 L855.2 751.3 L856.5 750.1 L857.0 750.1 L858.8 750.2 L860.1 750.2 L860.6 750.2 L862.4 750.3 L863.7 750.4 L864.2 750.3 L866.0 750.3 L867.3 750.2 L867.8 750.1 L869.6 749.6 L870.9 749.2 L871.4 748.9 L873.2 747.8 L874.5 747.0 L875.0 747.6 L876.8 750.2 L878.1 752.0 L878.6 751.7 L880.4 750.5 L881.7 749.6 L882.2 749.5 L884.0 749.1 L885.3 748.8 L885.8 748.5 L887.6 747.7 L888.9 747.2 L889.4 747.6 L891.2 749.4 L892.5 750.7 L893.0 750.0 L894.8 747.4 L896.1 745.5 L896.6 746.3 L898.4 749.0 L899.7 750.8 L900.2 749.6 L902.0 745.5 L903.3 742.5 L903.8 742.8 L905.6 744.2 L906.9 745.6 L907.4 745.3 L909.2 744.4 L910.5 744.0 L911.0 744.6 L912.8 746.7 L914.1 748.2 L914.6 747.8 L916.4 746.0 L917.7 744.6 L918.2 745.2 L920.0 747.2 L921.3 748.7 L921.8 749.4 L923.6 752.0 L924.9 753.8 L925.4 753.4 L927.2 751.6 L928.5 750.3 L929.0 750.3 L930.8 750.4 L932.1 750.4 L932.6 750.6 L934.4 751.0 L935.7 751.3 L936.2 751.8 L938.0 753.5 L939.3 754.7 L939.8 754.7 L941.6 754.5 L942.9 754.4 L943.4 754.0 L945.2 752.6 L946.5 751.6 L947.0 752.4 L948.8 755.3 L950.1 757.4 L950.6 757.0 L952.4 755.5 L953.7 754.3 L954.2 754.6 L956.0 755.6 L957.3 756.3 L957.8 756.3 L959.6 756.2 L960.9 756.1 L961.4 756.2 L963.2 756.5 L964.5 756.7 L965.0 756.9 L966.8 757.6 L968.1 759.3 L968.6 759.9 L970.4 762.6 L971.7 764.1 L972.2 764.9 L974.0 766.0 L975.3 766.5 L975.8 766.1 L977.6 764.5 L978.9 763.3 L979.4 764.4 L981.2 768.2 L982.5 771.0 L983.0 770.0 L984.9 766.3 L986.1 764.0 L986.7 764.5 L988.5 766.5 L989.7 768.1 L990.3 768.3 L992.1 769.3 L993.3 769.9 L993.9 771.3 L995.7 775.9 L996.9 779.2 L997.5 778.2 L999.3 774.6 L1000.5 772.1 L1001.1 773.7 L1002.9 779.4 L1004.1 783.6 L1004.7 784.0 L1006.5 785.6 L1007.7 786.8 L1008.3 787.0 L1010.1 787.6 L1011.3 788.2 L1011.9 789.3 L1013.7 793.6 L1014.9 796.8 L1015.5 797.3 L1017.3 799.4 L1018.5 800.8 L1019.1 801.5 L1020.9 803.8 L1022.1 805.4 L1022.7 806.1 L1024.5 808.5 L1025.7 810.5 L1026.3 811.9 L1028.1 817.0 L1029.3 821.2 L1029.9 821.6 L1031.7 826.1 L1032.9 831.6 L1033.5 835.4 L1035.3 845.0 L1036.5 849.9 L1037.1 850.4 L1038.9 852.1 L1040.1 854.0 L1040.7 855.5 L1042.5 862.7 L1043.7 869.2 L1044.3 871.8 L1046.1 881.2 L1047.3 888.4 L1047.9 890.8 L1049.7 899.6 L1050.9 905.7 L1051.5 908.8 L1053.3 920.0 L1054.5 928.2 L1055.1 931.0 L1056.9 941.0 L1058.1 948.6 L1058.7 952.0 L1060.5 965.4 L1061.7 975.7 L1062.3 979.5 L1064.1 992.0 L1065.3 1000.6 L1065.9 1004.1 L1067.7 1015.0 L1068.9 1021.8 L1069.5 1024.2 L1071.3 1031.3 L1072.5 1035.2 L1073.1 1037.1 L1074.9 1042.9 L1076.1 1046.2 L1076.7 1046.9 L1078.5 1048.4 L1079.7 1047.3 L1080.3 1046.4 L1082.1 1042.5 L1083.3 1038.9 L1083.9 1038.0 L1085.7 1034.2 L1086.9 1029.2 L1087.5 1025.6 L1089.3 1011.9 L1090.5 1001.8 L1091.1 997.9 L1092.9 982.8 L1094.1 971.0 L1094.7 965.8 L1096.5 945.0 L1097.7 929.8 L1098.3 923.6 L1100.1 903.6 L1101.3 890.0 L1101.9 885.1 L1103.7 871.1 L1104.9 863.1 L1105.5 859.6 L1107.3 847.9 L1108.5 839.6 L1109.1 836.7 L1110.9 826.7 L1112.1 818.7 L1112.7 814.5 L1114.5 798.5 L1115.7 787.8 L1116.3 784.5 L1118.1 776.0 L1119.3 771.5 L1119.9 769.6 L1121.7 764.4 L1122.9 761.7 L1123.5 759.8 L1125.3 752.5 L1126.5 746.4 L1127.1 744.8 L1128.9 738.9 L1130.1 734.4 L1130.7 731.4 L1132.5 720.7 L1133.7 715.0 L1134.3 713.5 L1136.1 709.4 L1137.3 707.7 L1137.9 708.9 L1139.7 713.3 L1140.9 716.7 L1141.5 715.8 L1143.3 712.1 L1144.5 707.2 L1145.1 706.6 L1146.9 704.6 L1148.1 704.6 L1148.7 703.4 L1150.5 699.7 L1151.7 697.1 L1152.3 697.1 L1154.1 696.9 L1155.3 696.2 L1155.9 695.2 L1157.7 691.6 L1158.9 689.0 L1159.5 688.0 L1161.3 684.8 L1162.5 682.8 L1163.1 681.8 L1164.9 678.6 L1166.1 676.5 L1166.7 676.5 L1168.5 676.7 L1169.7 676.7 L1170.3 675.4 L1172.1 671.4 L1173.3 669.3 L1173.9 670.0 L1175.7 673.5 L1176.9 676.5 L1177.5 675.6 L1179.3 672.0 L1180.5 668.9 L1181.1 669.8 L1182.9 669.2 L1184.1 668.3 L1184.7 667.0 L1186.5 664.5 L1187.7 663.0 L1188.3 661.7 L1190.1 657.5 L1191.3 654.8 L1191.9 655.2 L1193.7 656.6 L1194.9 657.9 L1195.5 656.8 L1197.3 653.6 L1198.5 651.5 L1199.1 652.4 L1200.9 655.5 L1202.1 657.7 L1202.7 657.6 L1204.5 657.3 L1205.7 657.0 L1206.3 657.1 L1208.1 656.7 L1209.3 654.9 L1209.9 654.2 L1211.7 651.8 L1212.9 650.9 L1213.5 649.8 L1215.3 647.4 L1216.5 645.7 L1217.1 646.0 L1218.9 647.3 L1220.1 648.1 L1220.7 649.1 L1222.5 652.2 L1223.7 653.9 L1224.3 651.8 L1226.1 644.4 L1227.3 639.2 L1227.9 640.0 L1229.7 643.7 L1230.9 648.5 L1231.5 649.2"/>
<path stroke="#ff0000" d="M239.5 781.0 L241.2 780.6 L241.3 780.7 L243.1 782.3 L244.2 783.2 L244.9 783.2 L246.7 783.1 L247.2 783.0 L248.5 783.3 L250.2 783.6 L250.3 783.5 L252.1 781.8 L253.2 780.7 L253.9 781.9 L255.7 785.1 L256.2 786.0 L257.5 786.2 L259.2 786.5 L259.3 786.3 L261.1 784.1 L262.2 782.7 L262.9 784.1 L264.7 787.6 L265.2 788.6 L266.5 787.0 L268.2 785.0 L268.3 785.1 L270.1 787.3 L271.2 788.6 L271.9 788.4 L273.7 787.7 L274.2 787.5 L275.5 788.5 L277.2 789.9 L277.3 790.0 L279.1 792.6 L280.2 794.2 L280.9 792.9 L282.7 789.6 L283.2 788.8 L284.5 791.2 L286.2 794.3 L286.3 794.3 L288.1 793.4 L289.2 792.9 L289.9 794.2 L291.7 797.3 L292.2 798.2 L293.5 797.1 L295.2 795.8 L295.3 795.9 L297.1 797.3 L298.2 798.2 L298.9 798.3 L300.7 798.7 L301.2 798.8 L302.5 798.9 L304.2 799.0 L304.3 799.1 L306.1 800.7 L307.2 801.6 L307.9 801.8 L309.7 802.3 L310.2 802.5 L311.5 805.0 L313.2 808.2 L313.3 808.0 L315.1 806.3 L316.2 805.2 L316.9 805.1 L318.7 804.7 L319.2 804.6 L320.5 804.7 L322.2 804.9 L322.3 805.2 L324.1 808.3 L325.2 810.1 L325.9 809.7 L327.7 808.8 L328.2 808.6 L329.5 810.2 L331.2 812.3 L331.3 812.2 L333.1 811.6 L334.2 811.2 L334.9 810.6 L336.7 809.3 L337.2 809.0 L338.5 809.1 L340.2 809.2 L340.3 809.5 L342.1 813.6 L343.2 816.1 L343.9 816.4 L345.7 817.2 L346.2 817.4 L347.5 816.1 L349.2 814.5 L349.4 814.5 L351.2 814.6 L352.2 814.7 L353.0 813.8 L354.8 811.7 L355.2 811.2 L356.6 813.9 L358.2 817.2 L358.4 816.9 L360.2 814.2 L361.2 812.6 L362.0 813.3 L363.8 815.1 L364.2 815.5 L365.6 814.7 L367.2 813.7 L367.4 813.8 L369.2 815.4 L370.2 816.3 L371.0 815.3 L372.8 812.9 L373.2 812.3 L374.6 814.4 L376.2 817.1 L376.4 816.9 L378.2 815.0 L379.2 813.9 L380.0 814.2 L381.8 814.9 L382.2 815.0 L383.6 815.5 L385.2 816.0 L385.4 816.1 L387.2 817.2 L388.2 817.9 L389.0 816.4 L390.8 812.9 L391.2 812.1 L392.6 815.1 L394.2 818.7 L394.4 818.5 L396.2 816.7 L397.2 815.6 L398.0 815.9 L399.8 816.4 L400.2 816.6 L401.6 815.7 L403.2 814.6 L403.4 814.8 L405.2 816.4 L406.2 817.4 L407.0 817.0 L408.8 816.1 L409.2 815.9 L410.6 814.4 L412.2 812.7 L412.4 812.9 L414.2 815.0 L415.2 816.1 L416.0 815.7 L417.8 814.8 L418.2 814.5 L419.6 816.8 L421.2 819.5 L421.4 819.0 L423.2 813.9 L424.2 811.0 L425.0 812.5 L426.8 816.0 L427.2 816.8 L428.6 813.6 L430.2 809.8 L430.4 810.2 L432.2 814.3 L433.2 816.6 L434.0 814.2 L435.8 808.7 L436.2 807.4 L437.6 809.4 L439.2 811.8 L439.4 811.8 L441.2 811.5 L442.2 811.4 L443.0 810.2 L444.8 807.5 L445.2 806.9 L446.6 809.2 L448.2 812.0 L448.4 811.9 L450.2 811.5 L451.2 811.3 L452.0 811.6 L453.8 812.4 L454.2 812.6 L455.6 810.5 L457.2 808.1 L457.4 808.3 L459.2 810.6 L460.2 811.9 L461.0 810.3 L462.8 806.5 L463.2 805.6 L464.6 804.1 L466.2 802.2 L466.4 802.8 L468.2 808.2 L469.2 811.4 L470.0 811.3 L471.8 811.1 L472.2 811.1 L473.6 806.4 L475.2 800.9 L475.4 801.6 L477.2 808.0 L478.2 811.7 L479.0 810.0 L480.8 806.3 L481.2 805.5 L482.6 804.9 L484.2 804.3 L484.4 804.7 L486.2 808.1 L487.2 810.1 L488.0 808.0 L489.8 803.1 L490.2 802.0 L491.6 806.6 L493.2 811.9 L493.4 810.9 L495.2 802.3 L496.2 797.5 L497.0 799.8 L498.8 805.1 L499.2 806.3 L500.6 807.2 L502.2 808.3 L502.4 807.7 L504.2 802.4 L505.2 799.4 L506.0 801.0 L507.8 804.6 L508.2 805.4 L509.6 804.2 L511.2 802.9 L511.4 802.8 L513.2 801.4 L514.2 800.7 L515.0 802.3 L516.8 805.9 L517.2 806.6 L518.6 807.1 L520.2 807.7 L520.4 807.2 L522.2 803.4 L523.2 801.3 L524.0 803.8 L525.8 809.4 L526.2 810.6 L527.6 801.1 L529.2 790.7 L529.4 791.3 L531.2 795.5 L532.2 797.8 L533.0 800.1 L534.8 805.3 L535.2 806.3 L536.6 799.7 L538.2 792.4 L538.4 793.3 L540.2 800.7 L541.2 804.7 L542.0 804.0 L543.8 802.5 L544.2 802.2 L545.6 798.9 L547.2 795.3 L547.4 795.3 L549.2 795.3 L550.2 795.4 L551.0 796.8 L552.8 799.9 L553.2 800.5 L554.6 797.3 L556.2 793.8 L556.4 794.0 L558.2 795.0 L559.2 795.5 L560.0 796.9 L561.8 800.0 L562.2 800.6 L563.6 801.3 L565.2 802.2 L565.5 802.5 L567.3 805.4 L568.2 806.9 L569.1 802.6 L570.9 793.4 L571.2 791.6 L572.7 795.2 L574.2 799.0 L574.5 797.7 L576.3 788.4 L577.2 783.4 L578.1 787.2 L579.9 795.3 L580.2 796.9 L581.7 794.8 L583.2 792.6 L583.5 792.1 L585.3 788.3 L586.2 786.4 L587.1 786.0 L588.9 785.3 L589.2 785.1 L590.7 788.6 L592.2 792.4 L592.5 792.8 L594.3 795.3 L595.2 796.7 L596.1 790.4 L597.9 777.1 L598.2 774.6 L599.7 778.6 L601.2 782.9 L601.5 784.1 L603.3 792.9 L604.2 797.4 L605.1 792.5 L606.9 782.1 L607.2 780.2 L608.7 783.2 L610.2 786.4 L610.5 786.8 L612.3 789.5 L613.2 791.0 L614.1 788.3 L615.9 782.8 L616.2 781.8 L617.7 786.1 L619.2 790.3 L619.5 789.9 L621.3 787.2 L622.2 785.7 L623.1 789.5 L624.9 797.3 L625.2 798.7 L626.7 785.0 L628.2 770.8 L628.5 773.5 L630.3 791.2 L631.2 800.4 L632.1 793.6 L633.9 779.7 L634.2 777.2 L635.7 774.1 L637.2 771.0 L637.5 773.6 L639.3 790.0 L640.2 798.3 L641.1 790.9 L642.9 775.8 L643.2 773.1 L644.7 779.9 L646.2 786.8 L646.5 786.3 L648.3 783.3 L649.2 781.8 L650.1 784.7 L651.9 790.5 L652.2 791.6 L653.7 790.8 L655.2 790.0 L655.5 789.3 L657.3 784.5 L658.2 782.1 L659.1 781.6 L660.9 780.4 L661.2 780.2 L662.7 783.4 L664.2 786.6 L664.5 785.1 L666.3 776.3 L667.2 771.8 L668.1 775.4 L669.9 782.6 L670.2 783.8 L671.7 778.0 L673.2 772.3 L673.5 773.6 L675.3 781.8 L676.2 786.0 L677.1 784.5 L678.9 781.6 L679.2 781.1 L680.7 778.3 L682.2 775.4 L682.5 776.0 L684.3 779.5 L685.2 781.2 L686.1 777.8 L687.9 770.9 L688.2 769.8 L689.7 776.9 L691.2 784.0 L691.5 783.6 L693.3 781.3 L694.2 780.2 L695.1 783.0 L696.9 788.8 L697.2 789.7 L698.7 782.9 L700.2 776.2 L700.5 777.0 L702.3 782.0 L703.2 784.4 L704.1 780.7 L705.9 773.4 L706.2 772.2 L707.7 770.9 L709.2 769.5 L709.5 771.1 L711.3 780.1 L712.2 784.5 L713.1 779.1 L714.9 768.6 L715.2 766.9 L716.7 776.5 L718.2 785.8 L718.5 784.1 L720.3 773.9 L721.2 768.9 L722.1 767.9 L723.9 766.0 L724.2 765.6 L725.7 774.1 L727.2 782.3 L727.5 780.6 L729.3 771.1 L730.2 766.5 L731.1 772.4 L732.9 784.0 L733.2 785.7 L734.7 779.6 L736.2 773.7 L736.5 772.0 L738.3 762.5 L739.2 757.9 L740.1 765.3 L741.9 779.7 L742.2 781.9 L743.7 775.0 L745.2 768.3 L745.5 767.9 L747.3 765.4 L748.2 764.2 L749.1 769.7 L750.9 780.4 L751.2 782.0 L752.7 774.0 L754.2 766.4 L754.5 768.6 L756.3 780.8 L757.2 786.7 L758.1 784.3 L759.9 779.7 L760.2 779.1 L761.7 768.7 L763.2 758.8 L763.5 761.2 L765.3 773.8 L766.2 779.8 L767.1 778.1 L768.9 774.8 L769.2 774.3 L770.7 767.7 L772.2 761.5 L772.5 763.3 L774.3 772.6 L775.2 777.1 L776.1 773.4 L777.9 766.4 L778.2 765.4 L779.7 767.7 L781.2 769.8 L781.5 769.9 L783.4 770.6 L784.2 770.9 L785.2 771.4 L787.0 772.2 L787.2 772.3 L788.8 769.8 L790.2 767.3 L790.6 767.7 L792.4 770.1 L793.2 771.1 L794.2 771.1 L796.0 771.0 L796.2 771.0 L797.8 766.1 L799.2 761.6 L799.6 763.0 L801.4 770.1 L802.2 773.5 L803.2 768.4 L805.0 758.9 L805.2 757.6 L806.8 767.7 L808.2 777.1 L808.6 775.6 L810.4 768.4 L811.2 765.0 L812.2 766.9 L814.0 770.4 L814.2 770.8 L815.8 767.6 L817.2 764.6 L817.6 764.7 L819.4 765.3 L820.2 765.6 L821.2 770.3 L823.0 779.1 L823.2 780.2 L824.8 771.6 L826.2 763.7 L826.6 765.0 L828.4 771.4 L829.2 774.4 L830.2 769.8 L832.0 761.1 L832.2 760.0 L833.8 766.9 L835.2 773.2 L835.6 771.0 L837.4 760.3 L838.2 755.3 L839.2 762.8 L841.0 776.7 L841.2 778.5 L842.8 772.8 L844.2 768.0 L844.6 767.9 L846.4 767.7 L847.2 767.7 L848.2 767.4 L850.0 766.7 L850.2 766.6 L851.8 774.8 L853.2 782.0 L853.6 780.1 L855.4 770.8 L856.2 766.5 L857.2 773.9 L859.0 787.4 L859.2 789.0 L860.8 786.8 L862.2 784.8 L862.6 783.1 L864.4 775.5 L865.2 772.1 L866.2 775.7 L868.0 782.6 L868.2 783.5 L869.8 779.7 L871.2 776.4 L871.6 777.5 L873.4 782.2 L874.2 784.1 L875.2 785.1 L877.0 787.0 L877.2 787.2 L878.8 788.3 L880.2 789.1 L880.6 790.4 L882.4 795.8 L883.2 798.1 L884.2 789.1 L886.0 773.3 L886.2 771.5 L887.8 775.2 L889.2 778.4 L889.6 780.0 L891.4 787.3 L892.2 790.5 L893.2 790.9 L895.0 791.7 L895.2 791.8 L896.8 792.1 L898.2 792.7 L898.6 794.2 L900.4 801.2 L901.2 804.3 L902.2 803.4 L904.0 802.1 L904.2 801.9 L905.8 801.1 L907.2 800.5 L907.6 801.9 L909.4 808.2 L910.2 811.0 L911.2 814.0 L913.0 819.3 L913.2 819.8 L914.8 818.7 L916.2 817.7 L916.6 817.5 L918.4 816.4 L919.2 815.8 L920.2 817.4 L922.0 820.0 L922.2 820.3 L923.8 820.3 L925.2 820.5 L925.6 820.9 L927.4 824.2 L928.2 827.5 L929.2 831.1 L931.0 836.8 L931.2 837.2 L932.8 839.9 L934.2 842.1 L934.6 844.2 L936.4 852.8 L937.2 856.1 L938.2 857.3 L940.0 858.4 L940.2 858.5 L941.8 861.3 L943.2 865.7 L943.6 867.3 L945.4 875.0 L946.2 877.8 L947.2 880.1 L949.0 883.2 L949.2 883.5 L950.8 888.7 L952.2 892.7 L952.6 892.4 L954.4 891.1 L955.2 890.6 L956.2 895.8 L958.0 904.5 L958.2 905.3 L959.8 903.6 L961.2 902.0 L961.6 902.1 L963.4 901.4 L964.2 900.2 L965.2 900.0 L967.0 897.6 L967.2 897.3 L968.8 891.6 L970.2 886.7 L970.6 884.9 L972.4 877.6 L973.2 874.2 L974.2 870.7 L976.0 863.8 L976.2 863.1 L977.8 858.2 L979.2 852.9 L979.6 849.8 L981.4 835.8 L982.2 829.3 L983.2 817.9 L985.0 796.0 L985.2 794.1 L986.8 779.1 L988.2 766.5 L988.6 761.6 L990.4 742.8 L991.2 735.7 L992.2 727.1 L994.0 714.0 L994.2 713.1 L995.8 703.9 L997.2 698.6 L997.6 697.4 L999.5 693.0 L1000.2 690.9 L1001.3 688.0 L1003.1 678.3 L1003.2 677.0 L1004.9 663.9 L1006.2 658.2 L1006.7 657.7 L1008.5 656.7 L1009.2 656.6 L1010.3 649.9 L1012.1 638.1 L1012.2 637.1 L1013.9 642.7 L1015.2 644.5 L1015.7 642.0 L1017.5 633.7 L1018.2 631.4 L1019.3 625.5 L1021.1 615.8 L1021.2 615.1 L1022.9 622.1 L1024.2 628.2 L1024.7 626.3 L1026.5 619.0 L1027.2 616.0 L1028.3 617.1 L1030.1 619.2 L1030.2 619.4 L1031.9 624.0 L1033.2 627.9 L1033.7 627.1 L1035.5 624.0 L1036.2 622.8 L1037.3 621.8 L1039.1 619.9 L1039.2 619.8 L1040.9 624.0 L1042.2 627.0 L1042.7 624.5 L1044.5 614.2 L1045.2 609.8 L1046.3 608.2 L1048.1 605.4 L1048.2 605.2 L1049.9 606.3 L1051.2 607.7 L1051.7 608.0 L1053.5 609.7 L1054.2 610.5 L1055.3 611.8 L1057.1 614.0 L1057.2 614.2 L1058.9 615.6 L1060.2 616.6 L1060.7 616.1 L1062.5 614.1 L1063.2 613.2 L1064.3 617.3 L1066.1 623.8 L1066.2 624.3 L1067.9 621.9 L1069.2 619.9 L1069.7 619.3 L1071.5 616.9 L1072.2 616.0 L1073.3 614.1 L1075.1 610.9 L1075.2 610.7 L1076.9 605.2 L1078.2 600.8 L1078.7 602.8 L1080.5 610.4 L1081.2 613.4 L1082.3 608.0 L1084.1 599.4 L1084.2 598.9 L1085.9 602.3 L1087.2 605.2 L1087.7 605.4 L1089.5 606.4 L1090.2 606.8 L1091.3 604.2 L1093.1 600.0 L1093.2 599.7 L1094.9 606.4 L1096.2 611.5 L1096.7 609.1 L1098.5 599.5 L1099.2 595.5 L1100.3 598.6 L1102.1 603.4 L1102.2 603.6 L1103.9 599.6 L1105.2 596.3 L1105.7 595.3 L1107.5 588.1"/>
<path stroke="#0000ff" d="M1479.5 485.2 L1481.3 489.9 L1482.4 492.7 L1483.1 491.3 L1484.9 487.7 L1485.8 486.0 L1486.7 485.3 L1488.5 483.9 L1489.2 483.4 L1490.3 484.3 L1492.1 485.8 L1492.6 486.2 L1493.9 486.0 L1495.8 485.8 L1496.0 485.8 L1497.6 486.5 L1499.4 487.3 L1499.4 487.4 L1501.2 486.1 L1502.8 484.9 L1503.0 484.9 L1504.8 485.3 L1506.2 485.5 L1506.6 485.3 L1508.4 484.5 L1509.6 484.0 L1510.2 483.4 L1512.0 481.6 L1513.0 480.8 L1513.8 482.2 L1515.6 485.5 L1516.4 487.0 L1517.4 485.5 L1519.2 482.8 L1519.8 482.0 L1521.0 482.8 L1522.8 483.9 L1523.2 484.1 L1524.7 486.0 L1526.5 487.8 L1526.6 487.9 L1528.3 483.2 L1530.0 478.3 L1530.1 478.4 L1531.9 480.7 L1533.4 482.8 L1533.7 482.5 L1535.5 481.0 L1536.8 480.1 L1537.3 480.4 L1539.1 481.9 L1540.2 482.7 L1540.9 481.9 L1542.7 479.8 L1543.6 478.8 L1544.5 480.4 L1546.3 483.4 L1547.0 484.6 L1548.1 483.5 L1549.9 481.8 L1550.4 481.4 L1551.7 484.0 L1553.5 487.4 L1553.8 487.8 L1555.4 484.5 L1557.2 480.5 L1557.2 480.4 L1559.0 480.4 L1560.6 480.4 L1560.8 480.8 L1562.6 485.0 L1564.0 488.3 L1564.4 487.6 L1566.2 484.6 L1567.4 482.7 L1568.0 482.6 L1569.8 482.3 L1570.8 482.3 L1571.6 482.3 L1573.4 482.4 L1574.2 482.5 L1575.2 484.7 L1577.0 488.6 L1577.6 489.8 L1578.8 488.0 L1580.6 485.4 L1581.0 484.9 L1582.4 485.8 L1584.3 486.9 L1584.4 487.0 L1586.1 487.5 L1587.8 488.0 L1587.9 488.2 L1589.7 493.5 L1591.2 497.9 L1591.5 497.1 L1593.3 491.5 L1594.6 487.5 L1595.1 488.1 L1596.9 490.2 L1598.0 491.5 L1598.7 492.7 L1600.5 495.5 L1601.4 496.9 L1602.3 495.8 L1604.1 493.6 L1604.8 492.8 L1605.9 494.2 L1607.7 496.5 L1608.2 497.1 L1609.5 494.1 L1611.3 490.2 L1611.6 489.6 L1613.2 495.6 L1615.0 502.6 L1615.0 502.8 L1616.8 496.9 L1618.4 491.5 L1618.6 491.7 L1620.4 494.0 L1621.8 495.9 L1622.2 496.5 L1624.0 499.2 L1625.2 501.5 L1625.8 501.7 L1627.6 502.2 L1628.6 502.4 L1629.4 501.8 L1631.2 499.8 L1632.0 498.9 L1633.0 500.4 L1634.8 503.0 L1635.4 503.8 L1636.6 502.4 L1638.4 500.2 L1638.8 499.8 L1640.2 499.8 L1642.0 499.6 L1642.2 499.6 L1643.9 498.4 L1645.6 497.3 L1645.7 497.3 L1647.5 499.4 L1649.0 501.2 L1649.3 500.6 L1651.1 496.6 L1652.4 493.7 L1652.9 494.7 L1654.7 498.2 L1655.8 500.3 L1656.5 498.1 L1658.3 492.2 L1659.2 489.3 L1660.1 491.3 L1661.9 495.2 L1662.6 496.7 L1663.7 492.0 L1665.5 484.5 L1666.0 482.5 L1667.3 485.3 L1669.1 488.7 L1669.4 489.1 L1670.9 486.1 L1672.8 482.4 L1672.8 482.3 L1674.6 478.4 L1676.2 475.6 L1676.4 475.7 L1678.2 476.8 L1679.6 477.8 L1680.0 477.6 L1681.8 476.6 L1683.0 475.9 L1683.6 476.0 L1685.4 476.1 L1686.4 476.0 L1687.2 475.0 L1689.0 472.6 L1689.8 471.4 L1690.8 472.3 L1692.6 474.0 L1693.2 474.6 L1694.4 471.6 L1696.2 467.4 L1696.6 466.5 L1698.0 466.0 L1699.8 465.4 L1700.0 465.4 L1701.6 464.0 L1703.4 462.8 L1703.5 462.9 L1705.3 465.2 L1706.8 467.3 L1707.1 466.4 L1708.9 460.9 L1710.2 456.7 L1710.7 458.3 L1712.5 463.9 L1713.6 467.3 L1714.3 464.8 L1716.1 458.2 L1717.0 454.8 L1717.9 456.8 L1719.7 460.8 L1720.4 462.3 L1721.5 459.5 L1723.3 454.9 L1723.8 453.7 L1725.1 454.0 L1726.9 454.3 L1727.2 454.3 L1728.7 454.5"/>
<path stroke="#bfbf00" d="M239.5 557.4 L241.3 555.7 L242.4 554.6 L243.1 555.6 L244.9 558.3 L245.6 559.3 L246.7 558.2 L248.5 556.3 L248.8 555.9 L250.3 556.9 L252.0 558.0 L252.1 558.0 L253.9 558.5 L255.2 558.9 L255.7 559.0 L257.5 559.4 L258.4 559.6 L259.3 558.5 L261.1 556.0 L261.6 555.3 L262.9 557.3 L264.7 560.2 L264.8 560.4 L266.5 560.2 L268.0 560.1 L268.3 560.3 L270.1 561.1 L271.2 561.7 L271.9 561.7 L273.7 561.9 L274.4 561.9 L275.5 562.8 L277.3 564.1 L277.6 564.4 L279.1 565.9 L280.8 567.6 L280.9 567.6 L282.7 566.8 L284.0 566.1 L284.5 566.1 L286.3 566.2 L287.2 566.2 L288.1 567.7 L289.9 570.8 L290.4 571.7 L291.7 570.3 L293.5 568.4 L293.6 568.3 L295.3 571.9 L296.8 575.3 L297.1 574.7 L298.9 571.0 L300.0 568.7 L300.7 570.0 L302.5 573.7 L303.2 575.2 L304.3 574.5 L306.1 573.4 L306.4 573.2 L307.9 573.9 L309.6 574.7 L309.7 574.7 L311.5 574.8 L312.8 574.8 L313.3 575.5 L315.1 578.2 L316.0 579.6 L316.9 578.7 L318.7 576.9 L319.2 576.4 L320.5 577.4 L322.3 578.9 L322.4 579.0 L324.1 578.1 L325.6 577.3 L325.9 577.5 L327.7 579.1 L328.8 580.1 L329.5 580.3 L331.3 580.9 L332.0 581.1 L333.1 581.6 L334.9 582.3 L335.2 582.5 L336.7 581.9 L338.4 581.3 L338.5 581.3 L340.3 582.7 L341.6 583.6 L342.1 583.3 L343.9 582.0 L344.8 581.3 L345.7 582.1 L347.5 583.7 L348.0 584.2 L349.3 583.0 L351.1 581.4 L351.2 581.3 L352.9 583.4 L354.4 585.4 L354.7 585.3 L356.5 584.8 L357.6 584.5 L358.3 583.6 L360.1 581.3 L360.8 580.4 L361.9 581.6 L363.7 583.9 L364.0 584.3 L365.5 583.6 L367.2 582.8 L367.3 582.8 L369.1 582.8 L370.4 582.8 L370.9 582.8 L372.7 582.4 L373.6 582.3 L374.5 583.1 L376.3 585.0 L376.8 585.6 L378.1 583.4 L379.9 580.4 L380.0 580.1 L381.7 582.3 L383.2 584.3 L383.5 584.1 L385.3 582.3 L386.4 581.2 L387.1 581.9 L388.9 584.0 L389.6 584.9 L390.7 583.5 L392.5 581.2 L392.8 580.8 L394.3 581.5 L396.0 582.5 L396.1 582.5 L397.9 582.2 L399.2 582.0 L399.7 582.0 L401.5 582.0 L402.4 582.0 L403.3 581.7 L405.1 581.0 L405.6 580.7 L406.9 581.4 L408.7 582.3 L408.8 582.4 L410.5 580.2 L412.0 578.1 L412.3 578.5 L414.1 581.4 L415.2 583.3 L415.9 582.5 L417.7 580.1 L418.4 579.1 L419.5 579.9 L421.3 581.2 L421.6 581.5 L423.1 579.4 L424.8 576.8 L424.9 576.8 L426.7 577.3 L428.0 577.7 L428.5 578.5 L430.3 581.8 L431.2 583.5 L432.1 580.9 L433.9 575.4 L434.4 573.7 L435.7 576.0 L437.5 579.5 L437.6 579.8 L439.3 578.9 L440.8 578.1 L441.1 577.9 L442.9 575.8 L444.0 574.4 L444.7 575.0 L446.5 576.7 L447.2 577.5 L448.3 576.8 L450.1 575.7 L450.4 575.5 L451.9 577.2 L453.6 579.2 L453.7 579.2 L455.5 577.7 L456.8 576.5 L457.3 576.1 L459.1 574.6 L460.0 573.8 L460.9 574.1 L462.7 574.6 L463.2 574.8 L464.5 575.4 L466.3 576.2 L466.4 576.3 L468.1 575.7 L469.6 575.0 L469.9 575.1 L471.7 576.0 L472.8 576.6 L473.5 575.9 L475.3 573.7 L476.0 572.8 L477.1 574.5 L478.9 577.4 L479.2 578.0 L480.7 575.9 L482.4 573.4 L482.5 573.4 L484.3 574.6 L485.6 575.6 L486.1 575.5 L487.9 575.1 L488.8 574.9 L489.7 575.3 L491.5 576.1 L492.0 576.4 L493.3 574.6 L495.1 572.1 L495.2 571.8 L496.9 573.8 L498.4 575.8 L498.7 575.6 L500.5 574.2 L501.6 573.3 L502.3 573.7 L504.1 574.8 L504.8 575.3 L505.9 574.7 L507.7 573.8 L508.0 573.7 L509.5 572.8 L511.2 571.8 L511.3 571.9 L513.1 574.4 L514.4 576.4 L514.9 575.8 L516.7 573.5 L517.6 572.2 L518.5 572.4 L520.3 572.8 L520.8 572.9 L522.1 572.8 L523.9 572.5 L524.0 572.5 L525.7 572.6 L527.2 572.6 L527.5 572.7 L529.3 573.5 L530.4 574.0 L531.1 573.5 L532.9 572.1 L533.6 571.5 L534.7 571.2 L536.5 570.8 L536.8 570.7 L538.3 572.2 L540.0 574.1 L540.1 574.1 L541.9 570.9 L543.2 568.4 L543.7 569.0 L545.5 571.7 L546.4 573.1 L547.3 572.0 L549.1 569.5 L549.6 568.7 L550.8 569.1 L552.6 569.7 L552.8 569.8 L554.4 571.2 L556.0 572.6 L556.2 572.2 L558.0 568.7 L559.2 566.4 L559.8 566.8 L561.6 568.0 L562.4 568.5 L563.4 568.0 L565.2 567.1 L565.6 566.9 L567.0 566.5 L568.8 565.9 L568.8 565.9 L570.6 567.3 L572.0 568.4 L572.4 568.0 L574.2 566.4 L575.2 565.5 L576.0 565.7 L577.8 566.2 L578.4 566.4 L579.6 564.2 L581.4 560.9 L581.6 560.5 L583.2 562.8 L584.8 565.1 L585.0 565.0 L586.8 564.5 L588.0 564.2 L588.6 563.3 L590.4 560.7 L591.2 559.6 L592.2 560.8 L594.0 562.9 L594.4 563.4 L595.8 561.9 L597.6 560.1 L597.6 560.1 L599.4 560.9 L600.8 561.6 L601.2 561.0 L603.0 558.3 L604.0 556.8 L604.8 557.4 L606.6 558.7 L607.2 559.1 L608.4 558.8 L610.2 558.5 L610.4 558.4 L612.0 556.2 L613.6 554.1 L613.8 554.3 L615.6 556.0 L616.8 557.2 L617.4 556.1 L619.2 553.1 L620.0 551.7 L621.0 551.9 L622.8 552.2 L623.2 552.3 L624.6 552.6 L626.4 552.9 L626.4 552.9 L628.2 552.5 L629.6 552.2 L630.0 551.5 L631.8 548.7 L632.8 547.1 L633.6 548.3 L635.4 551.0 L636.0 551.9 L637.2 550.4 L639.0 548.0 L639.2 547.8 L640.8 547.4 L642.4 547.0 L642.6 547.2 L644.4 548.8 L645.6 549.9 L646.2 549.5 L648.0 548.5 L648.8 548.1 L649.8 547.0 L651.6 545.1 L652.0 544.7 L653.4 545.6 L655.2 546.7 L655.2 546.7 L657.0 546.4 L658.4 546.2 L658.8 545.9 L660.6 544.3 L661.6 543.4 L662.4 544.4 L664.2 546.5 L664.8 547.2 L666.0 544.7 L667.8 540.9 L668.0 540.5 L669.6 542.4 L671.2 544.2 L671.4 544.2 L673.2 543.9 L674.4 543.7 L675.0 543.4 L676.8 542.3 L677.6 541.9 L678.6 542.2 L680.4 542.9 L680.8 543.0 L682.2 542.2 L684.0 541.1 L684.0 541.1 L685.8 540.8 L687.2 540.5 L687.6 540.2 L689.4 538.6 L690.4 537.8 L691.2 538.7 L693.0 540.8 L693.6 541.5 L694.8 539.8 L696.6 537.3 L696.8 537.0 L698.4 537.3 L700.0 537.6 L700.2 537.6 L702.0 536.8 L703.2 536.3 L703.8 536.1 L705.6 535.6 L706.4 535.3 L707.4 536.1 L709.2 537.6 L709.6 537.9 L711.0 537.0 L712.8 535.8 L712.8 535.8 L714.6 534.1 L716.0 532.7 L716.4 533.3 L718.2 536.0 L719.2 537.5 L720.0 536.0 L721.8 532.6 L722.4 531.5 L723.6 531.9 L725.4 532.5 L725.6 532.6 L727.2 533.9 L728.8 535.1 L729.0 535.0 L730.8 533.4 L732.0 532.3 L732.6 532.3 L734.4 532.5 L735.2 532.6 L736.2 532.3 L738.0 531.8 L738.4 531.7 L739.8 532.2 L741.6 532.9 L741.6 532.9 L743.4 531.6 L744.8 530.6 L745.2 530.9 L747.0 532.5 L748.0 533.4 L748.8 532.8 L750.6 531.5 L751.2 531.1 L752.4 530.6 L754.2 529.8 L754.4 529.7 L756.0 529.8 L757.6 529.8 L757.8 529.8 L759.6 530.2 L760.8 530.5 L761.4 530.3 L763.2 529.8 L764.0 529.6 L765.0 530.0 L766.8 530.6 L767.2 530.8 L768.6 528.3 L770.4 525.1 L770.4 525.1 L772.2 527.4 L773.6 529.3 L774.0 528.9 L775.8 527.3 L776.8 526.4 L777.6 526.4 L779.4 526.6 L780.0 526.7 L781.2 525.6 L783.0 524.0 L783.2 523.8 L784.8 523.4 L786.4 522.9 L786.6 523.0 L788.4 523.3 L789.6 523.5 L790.2 523.2 L792.0 522.2 L792.8 521.7 L793.8 521.8 L795.6 522.0 L796.0 522.0 L797.4 521.2 L799.2 520.1 L799.2 520.1 L801.0 521.1 L802.4 521.9 L802.8 521.7 L804.6 520.7 L805.6 520.2 L806.4 520.0 L808.2 519.5 L808.8 519.4 L810.0 518.6 L811.8 517.3 L812.0 517.1 L813.6 520.5 L815.2 524.0 L815.4 523.8 L817.2 521.0 L818.4 519.1 L819.0 519.7 L820.8 521.6 L821.6 522.5 L822.6 521.4 L824.4 519.4 L824.8 518.9 L826.2 519.9 L828.0 521.1 L828.0 521.1 L829.8 520.9 L831.2 520.5 L831.6 520.6 L833.4 521.1 L834.4 521.3 L835.2 520.3 L837.0 518.1 L837.6 517.3 L838.8 516.5 L840.6 515.3 L840.8 515.1 L842.4 514.3 L844.0 513.4 L844.2 513.5 L846.0 514.5 L847.2 515.2 L847.8 514.1 L849.6 510.7 L850.4 509.1 L851.4 508.8 L853.2 508.4 L853.6 508.3 L855.0 509.2 L856.8 510.4 L856.8 510.5 L858.6 510.4 L860.0 510.3 L860.4 509.5 L862.2 505.7 L863.2 503.5 L864.0 504.5 L865.8 506.8 L866.4 507.6 L867.6 507.3 L869.4 506.8 L869.6 506.7 L871.2 503.3 L872.8 499.8 L873.0 500.1 L874.8 504.2 L876.0 506.9 L876.6 506.2 L878.4 503.8 L879.2 502.7 L880.2 502.1 L882.0 501.0 L882.4 500.7 L883.8 501.1 L885.6 501.6 L885.6 501.7 L887.4 500.8 L888.8 500.2 L889.2 500.2 L891.0 500.4 L892.0 500.6 L892.8 499.9 L894.6 498.1 L895.2 497.5 L896.4 498.9 L898.2 500.9 L898.4 501.2 L900.0 500.3 L901.6 499.5 L901.8 499.4 L903.6 498.1 L904.8 497.3 L905.4 497.9 L907.2 499.9 L908.0 500.8 L909.0 499.3 L910.8 496.4 L911.2 495.7 L912.6 497.4 L914.4 499.5 L914.4 499.5 L916.2 497.6 L917.6 496.0 L918.0 496.0 L919.8 496.1 L920.8 496.0 L921.6 496.6 L923.4 497.8 L924.0 498.3 L925.2 496.6 L927.0 494.0 L927.2 493.7 L928.8 494.5 L930.4 495.3 L930.6 495.2 L932.4 493.9 L933.6 493.0 L934.2 493.3 L936.0 494.4 L936.8 494.9 L937.8 493.9 L939.6 492.1 L940.0 491.7 L941.4 491.9 L943.2 492.3 L943.2 492.4 L945.0 493.5 L946.4 494.5 L946.8 494.4 L948.6 493.8 L949.6 493.5 L950.4 493.5 L952.2 493.4 L952.8 493.3 L954.0 494.2 L955.8 495.7 L956.0 495.9 L957.6 495.5 L959.2 495.2 L959.4 495.2 L961.2 495.6 L962.4 495.9 L963.0 495.4 L964.8 493.9 L965.6 493.1 L966.6 493.8 L968.4 495.0 L968.8 495.3 L970.2 493.9 L972.0 492.0 L972.0 492.0 L973.8 491.4 L975.2 490.9 L975.6 491.0 L977.4 491.5 L978.4 491.9 L979.2 490.6 L981.0 487.7 L981.6 486.6 L982.8 487.6 L984.6 489.3 L984.8 489.6 L986.4 489.9 L988.0 490.3 L988.2 490.0 L990.0 486.4 L991.2 483.8 L991.8 484.4 L993.6 486.3 L994.4 487.3 L995.4 487.8 L997.2 488.7 L997.6 489.0 L999.0 488.4 L1000.8 487.6 L1000.8 487.6 L1002.6 486.7 L1004.0 486.0 L1004.4 485.7 L1006.2 484.6 L1007.2 483.9 L1008.0 484.8 L1009.8 487.2 L1010.4 488.1 L1011.6 487.6 L1013.4 486.9 L1013.6 486.8 L1015.2 484.9 L1016.8 483.0 L1017.0 483.2 L1018.8 485.7 L1020.0 487.5 L1020.6 486.9 L1022.4 485.1 L1023.2 484.2 L1024.2 483.9 L1026.0 483.4 L1026.4 483.3 L1027.8 484.8 L1029.6 486.9 L1029.6 486.9 L1031.4 483.6 L1032.8 480.8 L1033.2 481.1 L1035.0 483.0 L1036.0 484.1 L1036.8 483.7 L1038.6 482.6 L1039.2 482.3 L1040.4 482.6 L1042.2 483.1 L1042.4 483.2 L1044.0 482.4 L1045.6 481.6 L1045.8 481.5 L1047.6 480.7 L1048.8 480.1 L1049.4 480.4 L1051.2 481.3 L1052.0 481.7 L1053.0 481.4 L1054.8 480.8 L1055.2 480.7 L1056.6 480.2 L1058.4 479.4 L1058.4 479.4 L1060.2 479.0 L1061.6 478.7 L1062.0 478.5 L1063.8 477.2 L1064.8 476.5 L1065.6 477.9 L1067.4 481.5 L1068.0 482.8 L1069.2 480.3 L1071.0 476.4 L1071.2 475.9 L1072.8 476.8 L1074.4 477.8 L1074.6 477.8 L1076.4 477.5 L1077.6 477.3 L1078.2 477.2 L1080.0 476.8 L1080.8 476.6 L1081.8 476.2 L1083.6 475.4 L1084.0 475.2 L1085.4 476.4 L1087.2 478.0 L1087.2 478.0 L1089.0 477.2 L1090.4 476.5 L1090.8 476.4 L1092.6 475.6 L1093.6 475.1 L1094.4 475.0 L1096.2 474.6 L1096.8 474.5 L1098.0 475.0 L1099.8 475.8 L1100.0 475.9 L1101.6 474.4 L1103.2 472.8 L1103.4 472.9 L1105.2 475.2 L1106.4 476.7 L1107.0 475.6 L1108.8 471.6 L1109.6 469.7 L1110.6 470.9 L1112.4 473.2 L1112.8 473.8 L1114.2 473.8 L1116.0 473.9 L1116.0 473.9 L1117.8 473.2 L1119.2 472.6 L1119.6 472.3 L1121.4 470.1 L1122.4 468.7 L1123.2 469.3 L1125.0 470.6 L1125.6 471.0 L1126.8 470.5 L1128.6 469.6 L1128.8 469.5 L1130.4 468.6 L1132.0 467.7 L1132.2 467.8 L1134.0 470.3 L1135.2 472.1 L1135.8 470.5 L1137.6 465.0 L1138.4 462.3 L1139.4 464.9 L1141.2 470.0 L1141.6 471.4 L1143.0 468.5 L1144.8 464.7 L1144.8 464.6 L1146.6 466.4 L1148.0 468.0 L1148.4 468.1 L1150.2 468.8 L1151.2 469.2 L1152.0 469.0 L1153.8 468.6 L1154.4 468.5 L1155.6 468.3 L1157.4 468.0 L1157.6 468.0 L1159.2 468.3 L1160.8 468.6 L1161.0 468.7 L1162.8 469.8 L1164.0 470.6 L1164.6 470.3 L1166.4 469.2 L1167.2 468.6 L1168.2 467.6 L1169.9 465.6 L1170.4 465.1 L1171.7 466.8 L1173.5 469.1 L1173.6 469.3 L1175.3 467.5 L1176.8 466.0 L1177.1 466.1 L1178.9 466.5 L1180.0 466.7 L1180.7 467.6 L1182.5 469.8 L1183.2 470.7 L1184.3 467.7 L1186.1 462.9 L1186.4 462.2 L1187.9 464.4 L1189.6 466.8 L1189.7 466.8 L1191.5 466.7 L1192.8 466.7 L1193.3 466.6 L1195.1 466.5 L1196.0 466.4 L1196.9 466.6 L1198.7 467.0 L1199.2 467.1 L1200.5 467.6 L1202.3 468.3 L1202.4 468.3 L1204.1 464.9 L1205.6 461.9 L1205.9 462.8 L1207.7 468.2 L1208.8 471.4 L1209.5 469.7 L1211.3 465.3 L1212.0 463.7 L1213.1 464.4 L1214.9 465.6 L1215.2 465.8 L1216.7 466.8 L1218.4 467.9 L1218.5 467.7 L1220.3 465.4 L1221.6 463.7 L1222.1 464.2 L1223.9 465.9 L1224.8 466.7 L1225.7 466.1 L1227.5 464.8 L1228.0 464.4 L1229.3 465.4 L1231.1 466.8 L1231.2 466.8 L1232.9 465.0 L1234.4 463.4 L1234.7 463.8 L1236.5 466.1 L1237.6 467.5 L1238.3 466.8 L1240.1 465.1 L1240.8 464.5 L1241.9 466.6 L1243.7 469.9 L1244.0 470.5 L1245.5 466.8 L1247.2 462.6 L1247.3 462.7 L1249.1 464.9 L1250.4 466.5 L1250.9 466.3 L1252.7 465.9 L1253.6 465.6 L1254.5 466.2 L1256.3 467.3 L1256.8 467.6 L1258.1 467.4 L1259.9 467.1 L1260.0 467.1 L1261.7 465.6 L1263.2 464.3 L1263.5 464.6 L1265.3 466.3 L1266.4 467.3 L1267.1 467.5 L1268.9 467.9 L1269.6 468.1 L1270.7 466.7 L1272.5 464.5 L1272.8 464.1 L1274.3 465.9 L1276.0 467.9 L1276.1 467.8 L1277.9 466.1 L1279.2 464.9 L1279.7 465.5 L1281.5 467.5 L1282.4 468.5 L1283.3 468.3 L1285.1 467.9 L1285.6 467.8 L1286.9 467.4 L1288.7 466.7 L1288.8 466.7 L1290.5 467.3 L1292.0 467.8 L1292.3 467.9 L1294.1 468.2 L1295.2 468.4 L1295.9 468.6 L1297.7 469.1 L1298.4 469.3 L1299.5 469.5 L1301.3 469.8 L1301.6 469.8 L1303.1 470.4 L1304.8 471.1 L1304.9 471.1 L1306.7 472.3 L1308.0 473.1 L1308.5 472.1 L1310.3 468.5 L1311.2 466.7 L1312.1 469.2 L1313.9 474.3 L1314.4 475.7 L1315.7 473.5 L1317.5 470.5 L1317.6 470.3 L1319.3 473.7 L1320.8 476.8 L1321.1 476.2 L1322.9 472.8 L1324.0 470.7 L1324.7 472.3 L1326.5 476.5 L1327.2 478.2 L1328.3 478.1 L1330.1 478.0 L1330.4 478.0 L1331.9 478.4 L1333.6 478.9 L1333.7 478.9 L1335.5 479.9 L1336.8 480.6 L1337.3 480.5 L1339.1 480.4 L1340.0 480.3 L1340.9 482.0 L1342.7 485.5 L1343.2 486.5 L1344.5 485.6 L1346.3 484.3 L1346.4 484.2 L1348.1 488.2 L1349.6 491.7 L1349.9 491.7 L1351.7 491.4 L1352.8 491.2 L1353.5 491.9 L1355.3 493.6 L1356.0 494.2 L1357.1 494.2 L1358.9 494.1 L1359.2 494.1 L1360.7 497.1 L1362.4 500.5 L1362.5 500.4 L1364.3 499.3 L1365.6 498.5 L1366.1 498.5 L1367.9 498.6 L1368.8 498.7 L1369.7 500.7 L1371.5 504.6 L1372.0 505.8 L1373.3 504.5 L1375.1 502.7 L1375.2 502.6 L1376.9 503.8 L1378.4 504.8 L1378.7 505.0 L1380.5 506.0 L1381.6 506.5 L1382.3 507.2 L1384.1 508.7 L1384.8 509.3 L1385.9 508.0 L1387.7 504.5 L1388.0 503.3 L1389.5 499.2 L1391.2 495.0 L1391.3 494.9 L1393.1 491.5 L1394.4 489.3 L1394.9 487.9 L1396.7 483.0 L1397.6 480.5 L1398.5 479.3 L1400.3 476.9 L1400.8 476.2 L1402.1 474.3 L1403.9 471.7 L1404.0 471.5 L1405.7 469.8 L1407.2 468.4 L1407.5 467.8 L1409.3 464.2 L1410.4 462.0 L1411.1 461.2 L1412.9 459.2 L1413.6 458.5 L1414.7 457.4 L1416.5 455.5 L1416.8 455.2 L1418.3 454.3 L1420.0 453.3 L1420.1 453.2 L1421.9 451.2 L1423.2 449.9 L1423.7 449.5 L1425.5 448.3 L1426.4 447.7 L1427.3 446.8 L1429.1 445.1 L1429.6 444.6 L1430.9 445.2 L1432.7 446.2 L1432.8 446.2 L1434.5 445.1 L1436.0 444.0 L1436.3 443.9 L1438.1 442.9 L1439.2 442.3 L1439.9 442.3 L1441.7 442.3 L1442.4 442.3 L1443.5 441.6 L1445.3 440.6 L1445.6 440.4 L1447.1 439.0 L1448.8 437.2 L1448.9 437.3 L1450.7 438.3 L1452.0 439.1 L1452.5 438.9 L1454.3 438.4 L1455.2 438.1 L1456.1 437.4 L1457.9 436.0 L1458.4 435.6 L1459.7 435.0 L1461.5 434.2 L1461.6 434.2 L1463.3 435.8 L1464.8 437.2 L1465.1 437.0 L1466.9 435.7 L1468.0 434.8 L1468.7 434.7 L1470.5 434.5 L1471.2 434.4 L1472.3 434.9 L1474.1 435.6 L1474.4 435.8 L1475.9 433.9 L1477.6 431.6 L1477.7 431.6 L1479.5 431.7"/>
<path stroke="#008000" d="M239.5 539.9 L241.3 539.8 L243.1 539.6 L243.1 539.6 L244.9 540.2 L246.7 540.7 L246.7 540.8 L248.5 543.4 L250.3 545.9 L250.3 545.9 L252.1 544.5 L253.9 543.2 L253.9 543.2 L255.7 543.9 L257.5 544.7 L257.5 544.6 L259.3 543.8 L261.1 543.1 L261.1 543.1 L262.9 546.5 L264.7 549.9 L264.7 549.9 L266.5 550.7 L268.3 551.5 L268.3 551.5 L270.1 550.7 L271.9 550.0 L271.9 550.0 L273.7 550.5 L275.5 551.0 L275.5 551.1 L277.3 553.5 L279.1 555.9 L279.1 555.9 L280.9 556.0 L282.7 556.0 L282.7 556.0 L284.5 555.8 L286.3 555.6 L286.3 555.6 L288.1 557.6 L289.9 559.6 L289.9 559.7 L291.7 560.9 L293.5 562.1 L293.5 562.1 L295.3 562.3 L297.1 562.5 L297.1 562.5 L298.9 563.8 L300.7 565.0 L300.7 565.0 L302.5 565.8 L304.3 566.5 L304.3 566.5 L306.1 567.2 L307.9 567.9 L307.9 567.9 L309.7 569.7 L311.5 571.4 L311.5 571.4 L313.3 571.2 L315.1 571.0 L315.1 571.0 L316.9 572.5 L318.7 573.8 L318.7 573.8 L320.5 572.3 L322.3 570.8 L322.3 570.9 L324.1 573.7 L325.9 576.3 L325.9 576.3 L327.7 574.3 L329.5 572.4 L329.5 572.5 L331.3 577.2 L333.1 581.8 L333.1 581.7 L334.9 579.0 L336.7 576.2 L336.7 576.3 L338.5 578.1 L340.3 579.8 L340.3 579.8 L342.1 579.7 L343.9 579.6 L343.9 579.6 L345.7 579.8 L347.5 579.9 L347.5 579.9 L349.3 581.2 L351.1 582.4 L351.1 582.4 L352.9 582.2 L354.7 581.9 L354.7 581.9 L356.5 582.5 L358.3 583.0 L358.3 583.0 L360.1 583.4 L361.9 583.7 L361.9 583.8 L363.7 584.0 L365.5 584.2 L365.5 584.2 L367.3 583.2 L369.1 582.3 L369.1 582.3 L370.9 585.0 L372.7 587.5 L372.7 587.4 L374.5 584.7 L376.3 582.0 L376.3 582.1 L378.1 584.7 L379.9 587.3 L379.9 587.2 L381.7 584.7 L383.5 582.2 L383.5 582.3 L385.3 584.0 L387.1 585.6 L387.1 585.7 L388.9 587.2 L390.7 588.7 L390.7 588.6 L392.5 583.6 L394.3 578.7 L394.3 578.9 L396.1 584.8 L397.9 590.5 L397.9 590.3 L399.7 585.3 L401.5 580.5 L401.5 580.6 L403.3 582.9 L405.1 585.2 L405.1 585.1 L406.9 584.6 L408.7 584.0 L408.7 584.0 L410.5 583.3 L412.3 582.7 L412.3 582.7 L414.1 583.3 L415.9 583.8 L415.9 583.7 L417.7 582.0 L419.5 580.3 L419.5 580.4 L421.3 582.3 L423.1 584.1 L423.1 584.1 L424.9 583.0 L426.7 581.9 L426.7 581.9 L428.5 581.1 L430.3 580.3 L430.3 580.3 L432.1 579.3 L433.9 578.3 L433.9 578.3 L435.7 580.2 L437.5 582.0 L437.5 581.9 L439.3 580.2 L441.1 578.5 L441.1 578.5 L442.9 578.5 L444.7 578.5 L444.7 578.5 L446.5 578.5 L448.3 578.5 L448.3 578.5 L450.1 578.1 L451.9 577.8 L451.9 577.8 L453.7 576.5 L455.5 575.4 L455.5 575.4 L457.3 576.2 L459.1 576.9 L459.1 577.0 L460.9 578.6 L462.7 580.1 L462.7 579.9 L464.5 575.2 L466.3 570.8 L466.3 570.9 L468.1 573.2 L469.9 575.3 L469.9 575.3 L471.7 575.5 L473.5 575.7 L473.5 575.6 L475.3 573.6 L477.1 571.7 L477.1 571.7 L478.9 573.2 L480.7 574.7 L480.7 574.6 L482.5 573.8 L484.3 572.9 L484.3 572.9 L486.1 572.9 L487.9 573.0 L488.0 572.9 L489.8 571.5 L491.5 570.2 L491.6 570.3 L493.4 571.9 L495.1 573.5 L495.2 573.4 L497.0 571.8 L498.7 570.3 L498.8 570.3 L500.6 570.1 L502.3 569.9 L502.4 569.9 L504.2 571.9 L505.9 573.8 L506.0 573.7 L507.8 571.1 L509.5 568.6 L509.6 568.5 L511.4 568.1 L513.1 567.6 L513.2 567.8 L515.0 570.4 L516.7 573.0 L516.8 572.8 L518.6 570.3 L520.3 567.9 L520.4 567.9 L522.2 568.7 L523.9 569.3 L524.0 569.2 L525.8 567.5 L527.5 565.8 L527.6 565.9 L529.4 566.7 L531.1 567.4 L531.2 567.4 L533.0 567.7 L534.7 567.9 L534.8 567.8 L536.6 567.4 L538.3 566.9 L538.4 566.9 L540.2 566.5 L541.9 566.1 L542.0 566.1 L543.8 565.9 L545.5 565.7 L545.6 565.6 L547.4 565.2 L549.1 564.8 L549.2 564.8 L551.0 564.5 L552.7 564.2 L552.8 564.2 L554.6 563.4 L556.3 562.7 L556.4 562.7 L558.2 562.5 L559.9 562.4 L560.0 562.4 L561.8 563.4 L563.5 564.3 L563.6 564.2 L565.4 562.2 L567.1 560.5 L567.2 560.5 L569.0 562.1 L570.7 563.6 L570.8 563.5 L572.6 560.5 L574.3 557.7 L574.4 557.8 L576.2 560.2 L577.9 562.4 L578.0 562.4 L579.8 561.5 L581.5 560.7 L581.6 560.7 L583.4 561.1 L585.1 561.4 L585.2 561.2 L587.0 558.3 L588.7 555.6 L588.8 555.8 L590.6 558.2 L592.3 560.5 L592.4 560.4 L594.2 559.4 L595.9 558.4 L596.0 558.4 L597.8 557.1 L599.5 555.9 L599.6 556.0 L601.4 556.1 L603.1 556.2 L603.2 556.2 L605.0 556.2 L606.7 556.1 L606.8 556.1 L608.6 555.4 L610.3 554.7 L610.4 554.7 L612.2 555.3 L613.9 555.9 L614.0 555.8 L615.8 553.6 L617.5 551.6 L617.6 551.6 L619.4 551.0 L621.1 550.4 L621.2 550.4 L623.0 549.6 L624.7 548.8 L624.8 548.9 L626.6 549.6 L628.3 550.3 L628.4 550.3 L630.2 549.3 L631.9 548.4 L632.0 548.4 L633.8 547.6 L635.5 547.0 L635.6 546.9 L637.4 545.7 L639.1 544.5 L639.2 544.5 L641.0 544.4 L642.7 544.3 L642.8 544.4 L644.6 545.9 L646.3 547.4 L646.4 547.3 L648.2 545.8 L649.9 544.4 L650.0 544.2 L651.8 542.1 L653.5 540.2 L653.6 540.3 L655.4 541.1 L657.1 541.8 L657.2 541.7 L659.0 539.4 L660.7 537.2 L660.8 537.5 L662.6 541.2 L664.3 544.6 L664.4 544.5 L666.2 541.9 L667.9 539.4 L668.0 539.3 L669.8 537.5 L671.5 535.8 L671.6 535.9 L673.4 537.7 L675.1 539.4 L675.2 539.4 L677.0 539.0 L678.7 538.7 L678.8 538.7 L680.6 538.2 L682.3 537.8 L682.4 537.7 L684.2 536.8 L685.9 535.9 L686.0 535.9 L687.8 535.7 L689.5 535.4 L689.6 535.5 L691.4 536.2 L693.1 536.8 L693.2 536.7 L695.0 534.5 L696.7 532.5 L696.8 532.6 L698.6 533.9 L700.3 535.1 L700.4 535.0 L702.2 533.9 L703.9 532.9 L704.0 532.9 L705.8 533.4 L707.5 533.8 L707.6 533.8 L709.4 533.3 L711.1 532.9 L711.2 532.9 L713.0 532.9 L714.7 533.0 L714.8 533.1 L716.6 533.9 L718.3 534.6 L718.4 534.2 L720.2 529.3 L721.9 524.7 L722.0 525.1 L723.8 531.8 L725.5 538.0 L725.6 537.6 L727.4 531.4 L729.1 525.6 L729.2 525.9 L731.0 529.0 L732.7 532.0 L732.8 531.8 L734.6 529.9 L736.3 528.1 L736.4 528.1 L738.2 529.3 L739.9 530.5 L740.0 530.4 L741.8 529.7 L743.5 529.0 L743.6 529.0 L745.4 528.8 L747.1 528.6 L747.2 528.5 L749.0 527.5 L750.7 526.6 L750.8 526.7 L752.6 527.5 L754.3 528.2 L754.4 528.2 L756.2 527.4 L757.9 526.6 L758.0 526.6 L759.8 526.9 L761.5 527.1 L761.6 527.2 L763.4 527.6 L765.1 527.9 L765.2 527.7 L767.0 524.7 L768.7 522.0 L768.8 522.0 L770.6 522.9 L772.3 523.6 L772.4 523.7 L774.2 523.8 L775.9 523.9 L776.0 523.9 L777.8 524.2 L779.5 524.4 L779.6 524.1 L781.4 520.9 L783.1 518.0 L783.2 518.2 L785.0 521.0 L786.7 523.5 L786.8 523.1 L788.6 518.5 L790.3 514.2 L790.4 514.5 L792.2 518.6 L793.9 522.4 L794.0 522.1 L795.8 518.0 L797.5 514.3 L797.6 514.4 L799.4 516.2 L801.1 517.8 L801.2 517.7 L803.0 516.6 L804.7 515.7 L804.8 515.6 L806.6 515.4 L808.3 515.3 L808.4 515.2 L810.2 514.3 L811.9 513.4 L812.0 513.4 L813.8 513.5 L815.5 513.6 L815.6 513.5 L817.4 513.3 L819.1 513.1 L819.2 513.3 L821.0 515.2 L822.7 517.1 L822.8 516.8 L824.6 513.7 L826.3 510.8 L826.4 510.9 L828.2 512.1 L829.9 513.2 L830.0 513.1 L831.8 512.8 L833.5 512.5 L833.6 512.4 L835.4 511.2 L837.1 510.2 L837.2 510.3 L839.0 511.9 L840.7 513.4 L840.8 513.2 L842.6 510.7 L844.3 508.5 L844.4 508.8 L846.2 512.3 L847.9 515.6 L848.0 515.3 L849.8 511.4 L851.5 507.8 L851.6 507.9 L853.4 509.7 L855.1 511.3 L855.2 511.2 L857.0 510.3 L858.7 509.4 L858.8 509.4 L860.6 509.2 L862.3 509.1 L862.4 509.2 L864.2 510.2 L865.9 511.1 L866.0 510.9 L867.8 507.8 L869.5 505.0 L869.6 505.1 L871.4 506.3 L873.1 507.4 L873.2 507.6 L875.0 510.9 L876.7 513.8 L876.8 513.4 L878.6 507.9 L880.3 503.0 L880.4 503.1 L882.2 504.5 L883.9 505.8 L884.0 506.1 L885.8 508.9 L887.5 511.5 L887.6 511.2 L889.4 507.6 L891.1 504.3 L891.2 504.4 L893.0 505.1 L894.7 505.8 L894.8 505.8 L896.6 506.2 L898.3 506.6 L898.4 506.7 L900.2 507.3 L901.9 507.9 L902.0 507.6 L903.8 504.6 L905.5 501.9 L905.6 502.3 L907.4 506.2 L909.1 509.8 L909.2 509.5 L911.0 505.4 L912.7 501.7 L912.8 501.8 L914.6 503.2 L916.3 504.6 L916.4 504.8 L918.2 506.9 L919.9 508.9 L920.0 508.6 L921.8 505.2 L923.5 502.2 L923.6 502.4 L925.4 505.0 L927.1 507.3 L927.2 507.3 L929.0 507.6 L930.7 507.9 L930.8 508.0 L932.6 508.2 L934.3 508.4 L934.4 508.4 L936.2 508.0 L937.9 507.7 L938.0 507.8 L939.8 508.9 L941.5 509.9 L941.6 509.7 L943.4 508.0 L945.1 506.5 L945.2 506.6 L947.0 507.9 L948.7 509.1 L948.8 509.0 L950.6 508.8 L952.3 508.6 L952.4 508.7 L954.2 509.5 L955.9 510.2 L956.0 510.0 L957.8 508.3 L959.5 506.7 L959.6 506.7 L961.4 507.0 L963.1 507.2 L963.2 507.3 L965.0 508.0 L966.7 508.8 L966.8 508.8 L968.6 509.0 L970.3 509.2 L970.4 509.2 L972.2 509.5 L973.9 509.7 L974.0 509.6 L975.8 508.9 L977.5 508.3 L977.6 508.4 L979.4 509.5 L981.1 510.4 L981.2 510.5 L983.0 510.9 L984.7 511.2 L984.9 511.2 L986.7 511.0 L988.3 511.0 L988.5 511.2 L990.3 513.5 L991.9 515.6 L992.1 515.7 L993.9 516.4 L995.5 516.8 L995.7 517.0 L997.5 518.8 L999.1 520.4 L999.3 520.6 L1001.1 522.1 L1002.7 523.4 L1002.9 523.4 L1004.7 523.1 L1006.3 522.8 L1006.5 522.9 L1008.3 523.9 L1009.9 524.7 L1010.1 524.8 L1011.9 525.7 L1013.5 526.4 L1013.7 526.7 L1015.5 529.4 L1017.1 531.8 L1017.3 531.8 L1019.1 532.1 L1020.7 532.4 L1020.9 532.5 L1022.7 532.6 L1024.3 532.7 L1024.5 532.8 L1026.3 533.7 L1027.9 534.3 L1028.1 534.5 L1029.9 536.5 L1031.5 538.0 L1031.7 537.8 L1033.5 535.7 L1035.1 533.8 L1035.3 534.2 L1037.1 538.3 L1038.7 541.9 L1038.9 541.4 L1040.7 537.0 L1042.3 533.1 L1042.5 533.5 L1044.3 537.0 L1045.9 540.3 L1046.1 540.2 L1047.9 540.0 L1049.5 539.8 L1049.7 540.0 L1051.5 541.6 L1053.1 543.5 L1053.3 543.5 L1055.1 544.3 L1056.7 544.6 L1056.9 545.1 L1058.7 547.8 L1060.3 547.3 L1060.5 546.6 L1062.3 540.6 L1063.9 536.5 L1064.1 536.0 L1065.9 531.8 L1067.5 528.1 L1067.7 528.3 L1069.5 529.9 L1071.1 529.9 L1071.3 528.9 L1073.1 520.0 L1074.7 513.3 L1074.9 513.0 L1076.7 511.0 L1078.3 509.6 L1078.5 509.2 L1080.3 505.9 L1081.9 502.8 L1082.1 502.3 L1083.9 497.4 L1085.5 493.0 L1085.7 492.9 L1087.5 492.0 L1089.1 490.6 L1089.3 490.1 L1091.1 485.9 L1092.7 482.3 L1092.9 481.8 L1094.7 477.7 L1096.3 474.5 L1096.5 474.2 L1098.3 470.8 L1099.9 467.9 L1100.1 467.4 L1101.9 462.4 L1103.5 457.9 L1103.7 458.0 L1105.5 458.6 L1107.1 459.1 L1107.3 458.6 L1109.1 454.3 L1110.7 450.4 L1110.9 449.9 L1112.7 446.1 L1114.3 443.0 L1114.5 442.8 L1116.3 440.9 L1117.9 439.7 L1118.1 439.6 L1119.9 439.5 L1121.5 439.7 L1121.7 439.3 L1123.5 435.6 L1125.1 432.5 L1125.3 432.9 L1127.1 436.5 L1128.7 439.6 L1128.9 439.1 L1130.7 435.1 L1132.3 431.5 L1132.5 431.7 L1134.3 433.8 L1135.9 435.6 L1136.1 435.3 L1137.9 432.8 L1139.5 430.0 L1139.7 429.8 L1141.5 428.2 L1143.1 427.2 L1143.3 427.2 L1145.1 427.7 L1146.7 428.8 L1146.9 428.6 L1148.7 427.1 L1150.3 425.9 L1150.5 426.2 L1152.3 429.2 L1153.9 431.5 L1154.1 431.3 L1155.9 428.7 L1157.5 425.8 L1157.7 425.7 L1159.5 424.3 L1161.1 423.4 L1161.3 423.3 L1163.1 422.6 L1164.7 422.5 L1164.9 422.6 L1166.7 423.7 L1168.3 424.6 L1168.5 424.7 L1170.3 424.9 L1171.9 425.1 L1172.1 424.9 L1173.9 423.2 L1175.5 421.5 L1175.7 421.8 L1177.5 424.1 L1179.1 426.0 L1179.3 425.7 L1181.1 422.8 L1182.7 420.3 L1182.9 420.5 L1184.7 422.1 L1186.3 423.7 L1186.5 423.4 L1188.3 421.0 L1189.9 418.8 L1190.1 419.3 L1191.9 423.6 L1193.5 427.3 L1193.7 426.7 L1195.5 421.6 L1197.1 417.0 L1197.3 417.4 L1199.1 420.5 L1200.7 423.1 L1200.9 422.7 L1202.7 420.2 L1204.3 418.0 L1204.5 418.1 L1206.3 418.8 L1207.9 419.8 L1208.1 419.7 L1209.9 419.4 L1211.5 419.3 L1211.7 419.3 L1213.5 419.8 L1215.1 420.2 L1215.3 420.1 L1217.1 419.1 L1218.7 418.0 L1218.9 418.1 L1220.7 417.9 L1222.3 417.1 L1222.5 416.6 L1224.3 413.1 L1225.9 411.9 L1226.1 412.3 L1227.9 416.2 L1229.5 420.2 L1229.7 420.4 L1231.5 422.8"/>
<path stroke="#ff0000" d="M239.5 547.3 L241.3 546.1 L242.5 545.3 L243.1 546.4 L244.9 549.4 L246.1 551.5 L246.7 551.0 L248.5 549.4 L249.7 548.3 L250.3 548.7 L252.1 549.6 L253.3 550.3 L253.9 550.6 L255.7 551.6 L256.9 552.3 L257.5 552.0 L259.3 551.0 L260.5 550.4 L261.1 551.2 L262.9 553.7 L264.1 555.4 L264.7 554.7 L266.5 552.5 L267.7 551.0 L268.3 552.2 L270.1 555.9 L271.3 558.3 L271.9 557.5 L273.7 555.1 L274.9 553.6 L275.5 554.6 L277.3 557.6 L278.5 559.7 L279.1 559.8 L280.9 560.4 L282.1 560.8 L282.7 560.5 L284.5 559.8 L285.7 559.4 L286.3 560.2 L288.1 562.7 L289.3 564.3 L289.9 564.5 L291.7 565.1 L292.9 565.5 L293.5 565.5 L295.3 565.3 L296.5 565.2 L297.1 565.7 L298.9 567.1 L300.1 568.0 L300.7 568.4 L302.5 569.6 L303.7 570.4 L304.3 570.4 L306.1 570.3 L307.3 570.2 L307.9 570.4 L309.7 571.1 L310.9 571.6 L311.5 571.8 L313.3 572.3 L314.5 572.7 L315.1 573.0 L316.9 573.7 L318.1 574.3 L318.7 574.3 L320.5 574.5 L321.7 574.6 L322.3 574.5 L324.1 574.1 L325.3 573.9 L325.9 574.9 L327.7 577.6 L328.9 579.4 L329.5 578.9 L331.3 577.2 L332.5 576.2 L333.1 576.9 L334.9 578.9 L336.1 580.3 L336.7 580.1 L338.5 579.6 L339.7 579.2 L340.3 579.7 L342.1 581.2 L343.3 582.2 L343.9 581.9 L345.7 580.8 L346.9 580.1 L347.5 580.8 L349.3 582.7 L350.5 584.0 L351.1 583.3 L352.9 581.5 L354.1 580.3 L354.7 581.4 L356.6 584.5 L357.7 586.5 L358.4 585.9 L360.2 584.4 L361.3 583.4 L362.0 583.3 L363.8 583.0 L364.9 582.7 L365.6 583.1 L367.4 584.0 L368.5 584.6 L369.2 585.1 L371.0 586.6 L372.1 587.6 L372.8 586.9 L374.6 584.9 L375.7 583.6 L376.4 583.6 L378.2 583.8 L379.3 583.9 L380.0 583.9 L381.8 584.0 L382.9 584.0 L383.6 584.2 L385.4 584.7 L386.5 585.0 L387.2 584.7 L389.0 584.1 L390.1 583.7 L390.8 583.4 L392.6 582.7 L393.7 582.3 L394.4 583.3 L396.2 586.2 L397.3 588.0 L398.0 586.7 L399.8 583.2 L400.9 581.0 L401.6 581.5 L403.4 582.8 L404.5 583.6 L405.2 583.1 L407.0 581.9 L408.1 581.1 L408.8 581.6 L410.6 582.9 L411.7 583.7 L412.4 583.2 L414.2 581.9 L415.3 581.1 L416.0 580.9 L417.8 580.5 L418.9 580.3 L419.6 580.9 L421.4 582.6 L422.5 583.6 L423.2 582.7 L425.0 580.3 L426.1 578.8 L426.8 578.8 L428.6 578.7 L429.7 578.6 L430.4 579.0 L432.2 579.9 L433.3 580.5 L434.0 580.4 L435.8 580.1 L436.9 579.8 L437.6 579.4 L439.4 578.4 L440.5 577.7 L441.2 577.6 L443.0 577.3 L444.1 577.1 L444.8 576.8 L446.6 575.7 L447.7 575.0 L448.4 575.7 L450.2 577.4 L451.3 578.5 L452.0 577.9 L453.8 576.1 L454.9 575.0 L455.6 574.9 L457.4 574.6 L458.5 574.4 L459.2 574.2 L461.0 573.7 L462.1 573.4 L462.8 573.6 L464.6 574.0 L465.7 574.2 L466.4 573.7 L468.2 572.2 L469.3 571.3 L470.0 571.2 L471.8 570.8 L472.9 570.6 L473.6 571.1 L475.4 572.3 L476.5 573.0 L477.2 572.8 L479.0 572.0 L480.1 571.6 L480.8 570.4 L482.6 567.4 L483.7 565.5 L484.4 566.8 L486.2 570.1 L487.3 572.1 L488.0 571.2 L489.8 568.9 L490.9 567.4 L491.6 566.8 L493.4 565.1 L494.5 564.1 L495.2 564.7 L497.0 566.0 L498.1 566.9 L498.8 566.5 L500.6 565.4 L501.7 564.8 L502.4 564.7 L504.2 564.5 L505.3 564.5 L506.0 564.4 L507.8 564.1 L508.9 564.0 L509.6 563.7 L511.4 563.2 L512.5 562.9 L513.2 562.4 L515.0 561.3 L516.1 560.5 L516.8 561.2 L518.6 562.8 L519.7 563.7 L520.4 563.2 L522.2 561.8 L523.3 561.0 L524.0 560.4 L525.8 559.1 L526.9 558.2 L527.6 558.7 L529.4 559.8 L530.5 560.4 L531.2 560.6 L533.0 560.9 L534.1 561.1 L534.8 560.7 L536.6 559.8 L537.7 559.3 L538.4 559.0 L540.2 558.3 L541.3 557.9 L542.0 558.4 L543.8 559.7 L544.9 560.4 L545.6 559.5 L547.4 557.2 L548.5 555.9 L549.2 555.7 L551.0 555.1 L552.1 554.8 L552.8 555.6 L554.6 557.7 L555.7 558.9 L556.4 558.6 L558.2 557.7 L559.3 557.2 L560.0 555.8 L561.8 552.5 L562.9 550.4 L563.6 551.6 L565.4 554.6 L566.5 556.4 L567.2 555.8 L569.0 554.5 L570.1 553.7 L570.8 553.2 L572.6 552.1 L573.7 551.4 L574.4 552.1 L576.2 553.8 L577.3 554.9 L578.0 553.8 L579.8 551.2 L580.9 549.6 L581.6 549.9 L583.4 550.6 L584.5 551.1 L585.2 550.5 L587.1 549.0 L588.1 548.1 L588.9 548.3 L590.7 548.9 L591.7 549.3 L592.5 549.0 L594.3 548.5 L595.3 548.3 L596.1 548.6 L597.9 549.6 L598.9 550.2 L599.7 549.2 L601.5 547.0 L602.5 545.6 L603.3 546.1 L605.1 547.2 L606.1 547.8 L606.9 547.5 L608.7 546.8 L609.7 546.4 L610.5 546.4 L612.3 546.6 L613.3 546.7 L614.1 546.5 L615.9 546.1 L616.9 545.8 L617.7 546.0 L619.5 546.5 L620.5 546.9 L621.3 546.0 L623.1 543.9 L624.1 542.7 L624.9 543.1 L626.7 544.0 L627.7 544.5 L628.5 544.6 L630.3 545.0 L631.3 545.1 L632.1 544.6 L633.9 543.2 L634.9 542.3 L635.7 542.4 L637.5 542.5 L638.5 542.6 L639.3 541.7 L641.1 539.8 L642.1 538.6 L642.9 539.3 L644.7 540.8 L645.7 541.7 L646.5 541.0 L648.3 539.3 L649.3 538.3 L650.1 538.4 L651.9 538.6 L652.9 538.7 L653.7 538.0 L655.5 536.3 L656.5 535.4 L657.3 536.3 L659.1 538.6 L660.1 539.9 L660.9 539.0 L662.7 536.8 L663.7 535.5 L664.5 534.2 L666.3 531.2 L667.3 529.5 L668.1 531.6 L669.9 536.7 L670.9 539.6 L671.7 538.0 L673.5 534.2 L674.5 532.0 L675.3 531.7 L677.1 531.1 L678.1 530.7 L678.9 530.5 L680.7 529.9 L681.7 529.7 L682.5 530.4 L684.3 532.1 L685.3 533.0 L686.1 532.2 L687.9 530.3 L688.9 529.2 L689.7 529.8 L691.5 531.2 L692.5 532.0 L693.3 531.1 L695.1 529.0 L696.1 527.8 L696.9 528.7 L698.7 530.9 L699.7 532.1 L700.5 530.8 L702.3 527.8 L703.3 526.0 L704.1 526.7 L705.9 528.1 L706.9 528.9 L707.7 527.3 L709.5 523.7 L710.5 521.7 L711.3 523.1 L713.1 526.4 L714.1 528.3 L714.9 527.2 L716.7 524.6 L717.7 523.3 L718.5 523.1 L720.3 522.7 L721.3 522.5 L722.1 522.8 L723.9 523.6 L724.9 524.1 L725.7 523.8 L727.5 523.2 L728.5 522.9 L729.3 522.7 L731.1 522.2 L732.1 522.0 L732.9 521.7 L734.7 521.1 L735.7 520.8 L736.5 522.0 L738.3 524.8 L739.3 526.4 L740.1 524.8 L741.9 521.3 L742.9 519.3 L743.7 519.5 L745.5 519.8 L746.5 519.9 L747.3 520.0 L749.1 520.3 L750.1 520.5 L750.9 519.8 L752.7 518.2 L753.7 517.4 L754.5 517.7 L756.3 518.3 L757.3 518.7 L758.1 517.5 L759.9 514.7 L760.9 513.3 L761.7 514.3 L763.5 516.6 L764.5 517.9 L765.3 517.1 L767.1 515.6 L768.1 514.7 L768.9 514.9 L770.7 515.1 L771.7 515.3 L772.5 515.7 L774.3 516.5 L775.3 517.0 L776.1 516.1 L777.9 514.1 L778.9 513.1 L779.7 513.3 L781.5 514.0 L782.5 514.3 L783.3 513.8 L785.1 512.8 L786.1 512.2 L786.9 513.0 L788.7 514.8 L789.7 515.7 L790.5 515.1 L792.3 513.8 L793.3 513.1 L794.1 512.2 L795.9 510.1 L796.9 509.0 L797.7 509.9 L799.5 512.0 L800.5 513.1 L801.3 512.6 L803.1 511.5 L804.1 510.9 L804.9 511.1 L806.7 511.4 L807.7 511.6 L808.5 511.2 L810.3 510.5 L811.3 510.1 L812.1 509.6 L813.9 508.4 L814.9 507.8 L815.7 508.9 L817.6 511.3 L818.5 512.6 L819.4 511.2 L821.2 508.1 L822.1 506.5 L823.0 506.9 L824.8 507.7 L825.7 508.2 L826.6 509.1 L828.4 510.9 L829.3 511.9 L830.2 509.6 L832.0 504.6 L832.9 501.9 L833.8 504.9 L835.6 511.1 L836.5 514.5 L837.4 511.8 L839.2 506.0 L840.1 503.0 L841.0 504.5 L842.8 507.8 L843.7 509.5 L844.6 509.2 L846.4 508.4 L847.3 508.0 L848.2 507.3 L850.0 505.8 L850.9 505.0 L851.8 506.4 L853.6 509.3 L854.5 510.9 L855.4 509.4 L857.2 506.4 L858.1 504.8 L859.0 506.2 L860.8 509.3 L861.7 510.9 L862.6 509.6 L864.4 507.1 L865.3 505.7 L866.2 506.7 L868.0 508.7 L868.9 509.7 L869.8 509.1 L871.6 507.7 L872.5 506.9 L873.4 508.2 L875.2 510.7 L876.1 512.1 L877.0 510.4 L878.8 507.0 L879.7 505.2 L880.6 506.1 L882.4 508.0 L883.3 508.9 L884.2 509.3 L886.0 510.0 L886.9 510.4 L887.8 510.3 L889.6 510.1 L890.5 509.9 L891.4 509.3 L893.2 507.9 L894.1 507.2 L895.0 508.3 L896.8 510.5 L897.7 511.7 L898.6 510.8 L900.4 509.1 L901.3 508.2 L902.2 509.4 L904.0 511.9 L904.9 513.2 L905.8 512.5 L907.6 511.1 L908.5 510.3 L909.4 511.0 L911.2 512.4 L912.1 513.1 L913.0 513.3 L914.8 513.6 L915.7 513.8 L916.6 513.4 L918.4 512.7 L919.3 512.3 L920.2 512.8 L922.0 513.9 L922.9 514.5 L923.8 513.8 L925.6 512.5 L926.5 511.8 L927.4 511.7 L929.2 511.5 L930.1 511.2 L931.0 511.7 L932.8 512.4 L933.7 512.5 L934.6 510.8 L936.4 507.1 L937.3 505.3 L938.2 505.1 L940.0 505.1 L940.9 505.2 L941.8 503.0 L943.6 498.8 L944.5 496.6 L945.4 497.1 L947.2 498.2 L948.1 498.7 L949.0 497.6 L950.8 495.4 L951.7 494.3 L952.6 493.9 L954.4 493.1 L955.3 492.6 L956.2 491.7 L958.0 489.9 L958.9 488.9 L959.8 488.1 L961.6 486.1 L962.5 485.0 L963.4 483.4 L965.2 480.4 L966.1 479.2 L967.0 478.6 L968.8 477.6 L969.7 477.2 L970.6 477.3 L972.4 477.7 L973.3 477.9 L974.2 476.5 L976.0 473.8 L976.9 472.4 L977.8 472.3 L979.6 472.1 L980.5 472.0 L981.4 471.9 L983.2 471.8 L984.1 471.8 L985.0 472.1 L986.8 472.8 L987.7 473.2 L988.6 471.9 L990.4 469.3 L991.3 468.1 L992.2 468.4 L994.0 469.0 L994.9 469.3 L995.8 469.7 L997.6 470.4 L998.5 470.8 L999.4 469.9 L1001.2 468.3 L1002.1 467.4 L1003.0 466.3 L1004.8 463.9 L1005.7 462.8 L1006.6 464.8 L1008.4 468.6 L1009.3 470.4 L1010.2 468.2 L1012.0 463.7 L1012.9 461.5 L1013.8 460.8 L1015.6 459.3 L1016.5 458.6 L1017.4 459.2 L1019.2 460.5 L1020.1 461.1 L1021.0 459.3 L1022.8 456.1 L1023.7 454.5 L1024.6 455.7 L1026.4 458.2 L1027.3 459.5 L1028.2 457.4 L1030.0 453.6 L1030.9 451.8 L1031.8 453.1 L1033.6 455.6 L1034.5 456.8 L1035.4 456.4 L1037.2 455.6 L1038.1 455.2 L1039.0 455.7 L1040.8 456.8 L1041.7 457.3 L1042.6 456.4 L1044.4 454.3 L1045.3 453.2 L1046.2 453.2 L1048.1 453.0 L1048.9 453.0 L1049.9 452.2 L1051.7 450.9 L1052.5 450.3 L1053.5 450.6 L1055.3 451.3 L1056.1 451.7 L1057.1 451.6 L1058.9 451.5 L1059.7 451.5 L1060.7 451.0 L1062.5 450.1 L1063.3 449.7 L1064.3 449.5 L1066.1 449.0 L1066.9 448.8 L1067.9 448.6 L1069.7 448.4 L1070.5 448.3 L1071.5 447.5 L1073.3 446.2 L1074.1 445.6 L1075.1 445.3 L1076.9 444.8 L1077.7 444.5 L1078.7 445.5 L1080.5 447.3 L1081.3 448.2 L1082.3 446.9 L1084.1 444.5 L1084.9 443.4 L1085.9 443.2 L1087.7 442.9 L1088.5 442.8 L1089.5 443.2 L1091.3 444.0 L1092.1 444.3 L1093.1 443.3 L1094.9 441.4 L1095.7 440.5 L1096.7 440.9 L1098.5 441.5 L1099.3 441.8 L1100.3 441.9 L1102.1 442.2 L1102.9 442.5 L1103.9 442.1 L1105.7 442.3 L1106.5 442.7 L1107.5 444.1"/>
<path stroke="#008000" d="M1092.7 482.3 L1092.9 481.8 L1094.7 477.7 L1096.3 474.5 L1096.5 474.2 L1098.3 470.8 L1099.9 467.9 L1100.1 467.4 L1101.9 462.4 L1103.5 457.9 L1103.7 458.0 L1105.5 458.6 L1107.1 459.1 L1107.3 458.6 L1109.1 454.3 L1110.7 450.4 L1110.9 449.9 L1112.7 446.1 L1114.3 443.0 L1114.5 442.8 L1116.3 440.9 L1117.9 439.7 L1118.1 439.6 L1119.9 439.5 L1121.5 439.7 L1121.7 439.3 L1123.5 435.6 L1125.1 432.5 L1125.3 432.9 L1127.1 436.5 L1128.7 439.6 L1128.9 439.1 L1130.7 435.1 L1132.3 431.5 L1132.5 431.7 L1134.3 433.8 L1135.9 435.6 L1136.1 435.3 L1137.9 432.8 L1139.5 430.0 L1139.7 429.8 L1141.5 428.2 L1143.1 427.2 L1143.3 427.2 L1145.1 427.7 L1146.7 428.8 L1146.9 428.6 L1148.7 427.1 L1150.3 425.9 L1150.5 426.2 L1152.3 429.2 L1153.9 431.5 L1154.1 431.3 L1155.9 428.7 L1157.5 425.8 L1157.7 425.7 L1159.5 424.3 L1161.1 423.4 L1161.3 423.3 L1163.1 422.6 L1164.7 422.5 L1164.9 422.6 L1166.7 423.7 L1168.3 424.6 L1168.5 424.7 L1170.3 424.9 L1171.9 425.1 L1172.1 424.9 L1173.9 423.2 L1175.5 421.5 L1175.7 421.8 L1177.5 424.1 L1179.1 426.0 L1179.3 425.7 L1181.1 422.8 L1182.7 420.3 L1182.9 420.5 L1184.7 422.1 L1186.3 423.7 L1186.5 423.4 L1188.3 421.0 L1189.9 418.8 L1190.1 419.3 L1191.9 423.6 L1193.5 427.3 L1193.7 426.7 L1195.5 421.6 L1197.1 417.0 L1197.3 417.4 L1199.1 420.5 L1200.7 423.1 L1200.9 422.7 L1202.7 420.2 L1204.3 418.0 L1204.5 418.1 L1206.3 418.8 L1207.9 419.8 L1208.1 419.7 L1209.9 419.4 L1211.5 419.3 L1211.7 419.3 L1213.5 419.8 L1215.1 420.2 L1215.3 420.1 L1217.1 419.1 L1218.7 418.0 L1218.9 418.1 L1220.7 417.9 L1222.3 417.1 L1222.5 416.6 L1224.3 413.1 L1225.9 411.9 L1226.1 412.3 L1227.9 416.2 L1229.5 420.2 L1229.7 420.4 L1231.5 422.8"/>
<path stroke="#0000ff" d="M239.5 301.0 L240.9 311.5 L242.7 294.6 L244.5 328.7 L246.3 313.1 L248.1 308.1 L249.9 298.0 L251.7 315.1 L253.5 313.3 L255.3 310.4 L257.1 312.8 L258.9 309.9 L260.7 313.2 L262.5 309.7 L264.3 316.8 L266.1 316.3 L267.9 328.3 L269.7 312.9 L271.5 312.7 L273.3 313.6 L275.1 300.2 L276.9 307.3 L278.7 293.8 L280.5 316.0 L282.3 316.3 L284.1 322.3 L285.9 314.8 L287.7 310.2 L289.5 298.0 L291.3 300.7 L293.1 316.6 L294.9 313.1 L296.7 334.1 L298.5 304.1 L300.3 319.1 L302.1 321.4 L303.9 320.4 L305.7 323.5 L307.5 318.5 L309.3 317.1 L311.1 302.3 L312.9 318.5 L314.7 317.5 L316.5 318.3 L318.3 322.9 L320.1 317.6 L321.9 299.3 L323.7 302.4 L325.5 316.9 L327.3 320.3 L329.1 320.5 L330.9 335.6 L332.7 318.9 L334.5 334.5 L336.3 326.7 L338.1 324.4 L339.9 319.1 L341.7 303.2 L343.5 330.4 L345.3 326.8 L347.1 326.2 L348.9 329.2 L350.7 305.9 L352.5 339.8 L354.3 325.9 L356.1 327.8 L357.9 347.2 L359.7 310.2 L361.5 332.0 L363.3 329.7 L365.1 344.6 L366.9 323.8 L368.7 325.4 L370.5 324.2 L372.3 328.5 L374.1 333.1 L375.9 313.0 L377.7 306.3 L379.5 331.4 L381.3 311.9 L383.1 333.0 L384.9 326.3 L386.7 312.1 L388.5 334.7 L390.3 327.4 L392.1 324.8 L393.9 323.8 L395.7 322.6 L397.5 324.6 L399.3 322.0 L401.1 326.3 L402.9 327.2 L404.7 323.9 L406.5 307.9 L408.3 341.2 L410.1 326.2 L411.9 309.2 L413.7 332.1 L415.5 322.6 L417.3 323.7 L419.1 320.5 L420.9 326.2 L422.7 303.3 L424.5 322.0 L426.3 331.1 L428.1 322.3 L429.9 322.9 L431.7 324.5 L433.5 337.4 L435.3 326.5 L437.1 342.3 L438.9 325.5 L440.7 325.5 L442.5 337.1 L444.3 320.4 L446.1 324.0 L447.9 322.1 L449.7 322.3 L451.5 323.2 L453.3 343.9 L455.1 309.6 L456.9 336.9 L458.7 319.1 L460.5 317.2 L462.3 337.7 L464.1 324.9 L465.9 317.4 L467.7 317.4 L469.5 322.0 L471.3 323.4 L473.1 326.5 L474.9 337.7 L476.7 303.7 L478.5 322.0 L480.3 323.7 L482.1 299.2 L483.9 330.8 L485.7 318.7 L487.5 340.9 L489.3 343.5 L491.1 314.9 L492.9 317.7 L494.7 317.5 L496.5 321.4 L498.3 319.0 L500.1 324.1 L501.9 327.8 L503.7 295.1 L505.5 326.7 L507.3 351.3 L509.1 321.1 L510.9 318.2 L512.7 314.9 L514.5 343.5 L516.3 326.6 L518.1 324.5 L519.9 339.4 L521.7 325.3 L523.5 327.5 L525.3 324.7 L527.1 318.5 L528.9 317.3 L530.7 295.1 L532.5 321.4 L534.3 316.5 L536.1 314.2 L537.9 313.5 L539.7 310.5 L541.5 312.5 L543.3 313.3 L545.1 335.9 L546.9 323.9 L548.7 338.2 L550.5 321.1 L552.3 324.6 L554.1 304.6 L555.9 333.6 L557.7 313.3 L559.5 315.7 L561.3 311.7 L563.1 310.2 L564.9 309.2 L566.7 316.3 L568.5 314.2 L570.3 312.3 L572.1 303.4 L573.9 271.5 L575.7 315.3 L577.5 357.0 L579.3 283.3 L581.1 302.9 L582.9 346.5 L584.7 317.5 L586.5 349.2 L588.3 296.1 L590.1 309.3 L591.9 315.1 L593.7 321.1 L595.5 320.9 L597.3 316.6 L599.1 303.0 L600.9 307.5 L602.7 313.6 L604.5 284.4 L606.3 309.4 L608.1 299.3 L609.9 283.7 L611.7 306.3 L613.5 307.5 L615.3 313.1 L617.1 312.8 L618.9 304.9 L620.7 326.0 L622.5 311.7 L624.3 313.3 L626.1 311.1 L627.9 312.2 L629.7 305.5 L631.5 279.0 L633.3 312.2 L635.1 303.2 L636.9 301.7 L638.7 285.5 L640.5 321.4 L642.3 278.0 L644.1 306.8 L645.9 305.4 L647.7 276.9 L649.5 327.0 L651.3 322.5 L653.1 284.9 L654.9 324.2 L656.7 326.2 L658.5 301.6 L660.3 303.5 L662.1 299.2 L663.9 324.7 L665.7 275.8 L667.5 302.4 L669.3 299.5 L671.1 310.5 L672.9 307.6 L674.7 305.3 L676.5 303.9 L678.3 279.6 L680.1 300.0 L681.9 305.3 L683.7 297.7 L685.5 297.6 L687.3 294.7 L689.1 283.0 L690.9 300.8 L692.7 302.2 L694.5 289.6 L696.3 291.6 L698.1 266.8 L699.9 289.7 L701.7 322.8 L703.5 260.8 L705.3 293.6 L707.1 282.4 L708.9 296.4 L710.7 300.5 L712.5 286.3 L714.3 304.2 L716.1 294.1 L717.9 300.4 L719.7 288.3 L721.5 326.7 L723.3 273.0 L725.1 291.5 L726.9 289.8 L728.7 275.1 L730.5 295.4 L732.3 321.8 L734.1 298.8 L735.9 303.3 L737.7 301.7 L739.5 299.5 L741.3 293.6 L743.1 262.3 L744.9 291.9 L746.7 290.7 L748.5 272.5 L750.3 262.5 L752.1 287.6 L753.9 292.2 L755.7 315.2 L757.5 290.3 L759.3 291.1 L761.1 287.4 L762.9 298.1 L764.7 291.8 L766.5 284.6 L768.3 259.7 L770.1 292.2 L771.9 291.3 L773.7 268.2 L775.5 286.0 L777.3 283.6 L779.1 269.1 L780.9 267.4 L782.7 290.5 L784.5 291.5 L786.3 289.2 L788.1 289.7 L789.9 284.1 L791.7 287.8 L793.5 266.7 L795.3 285.7 L797.1 285.9 L798.9 283.4 L800.7 282.2 L802.5 285.1 L804.3 277.2 L806.1 275.2 L807.9 310.6 L809.7 281.0 L811.5 294.2 L813.3 306.5 L815.1 271.9 L816.9 286.5 L818.7 285.5 L820.5 254.0 L822.3 311.6 L824.1 289.0 L825.9 259.1 L827.7 308.9 L829.5 276.6 L831.3 280.1 L833.1 260.0 L834.9 284.4 L836.7 282.5 L838.5 289.6 L840.3 275.2 L842.1 275.1 L843.9 285.9 L845.7 261.4 L847.5 279.0 L849.3 284.8 L851.1 278.3 L852.9 276.9 L854.7 284.7 L856.5 281.6 L858.3 277.1 L860.1 282.9 L861.9 301.9 L863.7 277.5 L865.5 279.4 L867.3 278.3 L869.1 278.6 L870.9 285.3 L872.7 300.0 L874.5 279.2 L876.3 297.9 L878.1 248.4 L879.9 281.9 L881.7 277.3 L883.5 280.8 L885.3 277.3 L887.1 273.5 L888.9 282.3 L890.7 275.7 L892.5 267.1 L894.3 277.5 L896.1 279.4 L897.9 279.5 L899.7 253.5 L901.5 275.2 L903.3 257.6 L905.1 276.2 L906.9 271.1 L908.7 267.9 L910.5 250.0 L912.3 273.2 L914.1 276.7 L915.9 282.2 L917.7 280.0 L919.5 276.6 L921.3 280.0 L923.1 278.1 L924.9 270.9 L926.7 268.0 L928.5 266.3 L930.3 263.6 L932.1 272.2 L933.9 269.2 L935.7 268.5 L937.5 261.6 L939.3 272.6 L941.1 271.5 L942.9 272.0 L944.7 268.4 L946.5 264.6 L948.3 295.9 L950.1 276.9 L951.9 272.7 L953.7 257.6 L955.5 274.8 L957.3 272.5 L959.1 274.4 L960.9 281.9 L962.7 272.1 L964.5 273.2 L966.3 245.8 L968.1 273.5 L969.9 252.9 L971.7 276.3 L973.5 273.7 L975.3 305.8 L977.1 276.1 L978.9 271.3 L980.7 278.3 L982.5 274.5 L984.3 273.8 L986.1 296.5 L987.9 297.1 L989.7 273.7 L991.5 275.4 L993.3 271.2 L995.1 252.0 L996.9 271.1 L998.7 281.9 L1000.5 278.9 L1002.3 271.1 L1004.1 277.1 L1005.9 255.3 L1007.7 272.2 L1009.5 294.2 L1011.3 304.2 L1013.1 273.4 L1014.9 271.1 L1016.7 280.1 L1018.5 276.2 L1020.3 279.0 L1022.1 284.0 L1023.9 249.8 L1025.7 293.5 L1027.5 280.9 L1029.3 271.2 L1031.1 304.5 L1032.9 295.6 L1034.7 274.9 L1036.5 272.0 L1038.3 299.9 L1040.1 278.7 L1041.9 275.3 L1043.7 273.1 L1045.5 272.0 L1047.3 268.1 L1049.1 274.3 L1050.9 274.0 L1052.7 284.7 L1054.5 294.2 L1056.3 265.0 L1058.1 253.5 L1059.9 267.2 L1061.7 267.6 L1063.5 273.3 L1065.3 277.2 L1067.1 278.6 L1068.9 275.6 L1070.7 270.8 L1072.5 272.8 L1074.3 267.3 L1076.1 271.6 L1077.9 249.1 L1079.7 277.1 L1081.5 246.0 L1083.3 244.9 L1085.1 256.7 L1086.9 248.8 L1088.7 272.7 L1090.5 247.7 L1092.3 266.3 L1094.1 273.1 L1095.9 280.7 L1097.7 247.1 L1099.5 275.5 L1101.3 270.1 L1103.1 256.1 L1104.9 293.0 L1106.7 280.9 L1108.5 269.5 L1110.3 276.0 L1112.1 272.2 L1113.9 280.7 L1115.7 274.6 L1117.5 268.2 L1119.3 271.3 L1121.1 275.3 L1122.9 249.3 L1124.7 267.9 L1126.5 272.7 L1128.3 270.8 L1130.1 273.1 L1131.9 269.0 L1133.7 272.5 L1135.5 297.1 L1137.3 295.7 L1139.1 264.9 L1140.9 266.6 L1142.7 270.4 L1144.5 273.4 L1146.3 268.4 L1148.1 270.9 L1149.9 273.7 L1151.7 296.8 L1153.5 269.8 L1155.3 269.2 L1157.1 255.6 L1158.9 269.7 L1160.7 271.8 L1162.5 269.4 L1164.3 272.2 L1166.1 281.1 L1167.9 269.5 L1169.7 266.2 L1171.5 266.6 L1173.3 270.3 L1175.1 267.1 L1176.9 265.7 L1178.7 266.9 L1180.5 266.8 L1182.3 277.5 L1184.1 268.4 L1185.9 268.7 L1187.7 258.5 L1189.5 266.2 L1191.3 266.5 L1193.1 256.5 L1194.9 266.7 L1196.7 257.5 L1198.5 267.2 L1200.3 265.1 L1202.1 264.1 L1203.9 264.3 L1205.7 265.4 L1207.5 272.5 L1209.3 265.3 L1211.1 262.3 L1212.9 265.2 L1214.7 271.2 L1216.5 265.5 L1218.3 258.7 L1220.1 265.0 L1221.9 267.0 L1223.7 257.2 L1225.5 263.3 L1227.3 262.8 L1229.1 265.5 L1230.9 264.6 L1232.7 264.5 L1234.5 260.9 L1236.3 263.2 L1238.1 262.8 L1239.9 262.4 L1241.7 265.7 L1243.5 263.4 L1245.3 262.9 L1247.1 273.4 L1248.9 264.0 L1250.7 262.5 L1252.5 264.8 L1254.3 262.4 L1256.1 261.7 L1257.9 263.6 L1259.7 265.2 L1261.5 264.8 L1263.3 263.2 L1265.1 269.9 L1266.9 271.4 L1268.7 262.8 L1270.5 273.0 L1272.3 263.3 L1274.1 264.6 L1275.9 271.5 L1277.7 263.5 L1279.5 263.4 L1281.3 264.9 L1283.1 264.8 L1284.9 262.0 L1286.7 260.9 L1288.5 262.4 L1290.3 271.2 L1292.1 263.9 L1293.9 271.9 L1295.7 267.1 L1297.5 257.4 L1299.3 257.8 L1301.1 264.8 L1302.9 266.2 L1304.7 255.9 L1306.5 272.1 L1308.3 263.2 L1310.1 264.2 L1311.9 263.4 L1313.7 259.0 L1315.5 272.6 L1317.3 263.3 L1319.1 255.3 L1320.9 272.8 L1322.7 263.3 L1324.5 266.0 L1326.3 262.5 L1328.1 264.0 L1329.9 264.2 L1331.7 262.1 L1333.5 269.9 L1335.3 267.0 L1337.1 266.4 L1338.9 262.8 L1340.7 262.8 L1342.5 262.0 L1344.3 264.7 L1346.1 262.8 L1347.9 262.2 L1349.7 262.7 L1351.5 263.6 L1353.3 263.7 L1355.1 257.2 L1356.9 265.8 L1358.7 256.9 L1360.5 262.4 L1362.3 262.0 L1364.1 261.5 L1365.9 264.7 L1367.7 263.9 L1369.5 256.9 L1371.3 258.1 L1373.1 262.2 L1374.9 261.0 L1376.7 260.9 L1378.5 256.1 L1380.3 260.4 L1382.1 261.3 L1383.9 262.3 L1385.7 262.4 L1387.5 263.7 L1389.3 268.8 L1391.1 262.5 L1392.9 270.4 L1394.7 262.2 L1396.5 270.4 L1398.3 256.7 L1400.1 260.3 L1401.9 262.6 L1403.7 263.1 L1405.5 260.1 L1407.3 261.2 L1409.1 263.1 L1410.9 262.4 L1412.7 259.7 L1414.5 262.7 L1416.3 262.7 L1418.1 262.8 L1419.9 260.6 L1421.7 261.5 L1423.5 254.0 L1425.3 259.0 L1427.1 260.1 L1428.9 268.8 L1430.7 264.7 L1432.5 265.4 L1434.3 266.3 L1436.1 257.9 L1437.9 264.0 L1439.7 265.6 L1441.5 266.0 L1443.3 273.0 L1445.1 268.8 L1446.9 266.1 L1448.7 267.2 L1450.5 265.7 L1452.3 265.9 L1454.1 266.1 L1455.9 257.1 L1457.7 264.4 L1459.5 268.7 L1461.3 254.8 L1463.1 254.6 L1464.9 261.8 L1466.7 261.6 L1468.5 261.1 L1470.3 262.2 L1472.1 259.5 L1473.9 260.6 L1475.7 254.0 L1477.5 255.2 L1479.3 263.0 L1481.1 261.6 L1482.9 261.7 L1484.7 264.1 L1486.5 264.1 L1488.3 265.3 L1490.1 271.3 L1491.9 263.9 L1493.7 265.0 L1495.5 261.8 L1497.3 261.6 L1499.1 261.0 L1500.9 259.3 L1502.7 260.2 L1504.5 256.2 L1506.3 261.3 L1508.1 260.6 L1509.9 269.6 L1511.7 262.3 L1513.5 262.5 L1515.3 262.6 L1517.1 262.8 L1518.9 268.7 L1520.7 268.6 L1522.5 253.5 L1524.3 256.3 L1526.1 263.1 L1527.9 262.0 L1529.7 260.7 L1531.5 261.5 L1533.3 254.5 L1535.1 267.2 L1536.9 259.1 L1538.7 261.8 L1540.5 262.5 L1542.3 263.5 L1544.1 269.8 L1545.9 261.0 L1547.7 261.4 L1549.5 264.5 L1551.3 264.9 L1553.1 262.7 L1554.9 263.2 L1556.7 263.9 L1558.5 261.7 L1560.3 262.2 L1562.1 262.8 L1563.9 263.9 L1565.7 257.2 L1567.5 262.6 L1569.3 261.6 L1571.1 261.9 L1572.9 262.0 L1574.7 261.0 L1576.5 259.2 L1578.3 263.1 L1580.1 261.1 L1581.9 270.7 L1583.7 265.6 L1585.5 262.0 L1587.3 263.4 L1589.1 268.0 L1590.9 268.0 L1592.7 271.3 L1594.5 264.4 L1596.3 273.3 L1598.1 274.1 L1599.9 276.0 L1601.7 276.2 L1603.5 282.0 L1605.3 277.7 L1607.1 278.2 L1608.9 272.9 L1610.7 280.2 L1612.5 285.5 L1614.3 281.8 L1616.1 289.4 L1617.9 284.0 L1619.7 288.3 L1621.5 278.6 L1623.3 293.4 L1625.1 286.8 L1626.9 291.4 L1628.7 296.2 L1630.5 289.8 L1632.3 300.8 L1634.1 304.9 L1635.9 305.8 L1637.7 308.6 L1639.5 312.0 L1641.3 314.9 L1643.1 321.2 L1644.9 312.9 L1646.7 318.9 L1648.5 321.7 L1650.3 326.4 L1652.1 318.4 L1653.9 327.8 L1655.7 337.0 L1657.5 331.0 L1659.3 331.6 L1661.1 327.7 L1662.9 340.4 L1664.7 331.9 L1666.5 328.5 L1668.3 335.0 L1670.1 324.1 L1671.9 319.0 L1673.7 316.1 L1675.5 311.8 L1677.3 305.4 L1679.1 297.4 L1680.9 290.4 L1682.7 294.9 L1684.5 283.4 L1686.3 276.2 L1688.1 267.1 L1689.9 252.0 L1691.7 253.9 L1693.5 242.7 L1695.3 246.6 L1697.1 243.3 L1698.9 240.4 L1700.7 237.5 L1702.5 233.5 L1704.3 237.5 L1706.1 229.3 L1707.9 228.1 L1709.7 227.2 L1711.5 228.0 L1713.3 229.6 L1715.1 231.3 L1716.9 229.5 L1718.7 224.3 L1720.5 232.3 L1722.3 229.5 L1724.1 229.2 L1725.9 234.0 L1727.7 234.6 L1728.7 229.4"/>
<path stroke="#bfbf00" d="M239.5 308.1 L241.1 309.3 L241.3 309.1 L243.1 307.6 L244.9 306.0 L245.1 305.9 L246.7 308.6 L248.5 311.5 L249.1 312.4 L250.3 311.8 L252.1 310.9 L253.1 310.5 L253.9 310.4 L255.7 310.3 L257.1 310.2 L257.5 310.5 L259.3 311.5 L261.1 312.4 L261.1 312.4 L262.9 312.2 L264.7 312.0 L265.1 311.9 L266.5 313.0 L268.3 314.3 L269.1 314.9 L270.1 314.8 L271.9 314.5 L273.1 314.4 L273.7 314.7 L275.5 315.5 L277.1 316.3 L277.3 316.3 L279.1 316.6 L280.9 316.9 L281.1 316.9 L282.7 317.9 L284.5 319.1 L285.1 319.5 L286.3 319.9 L288.1 320.5 L289.1 320.8 L289.9 321.0 L291.7 321.5 L293.1 321.8 L293.5 322.3 L295.3 324.4 L297.1 326.3 L297.1 326.3 L298.9 325.2 L300.7 324.1 L301.1 323.9 L302.5 325.5 L304.3 327.4 L305.1 328.2 L306.1 328.5 L307.9 329.0 L309.1 329.4 L309.7 329.8 L311.5 330.9 L313.1 331.9 L313.3 331.9 L315.1 331.5 L316.9 331.0 L317.1 331.0 L318.7 331.9 L320.5 332.8 L321.1 333.1 L322.3 333.7 L324.1 334.7 L325.1 335.2 L325.9 335.4 L327.7 336.0 L329.1 336.4 L329.5 336.5 L331.3 337.2 L333.1 337.9 L333.1 337.9 L334.9 338.1 L336.7 338.3 L337.1 338.3 L338.5 338.9 L340.3 339.7 L341.1 340.0 L342.1 339.9 L343.9 339.9 L345.1 339.9 L345.7 340.2 L347.5 341.1 L349.1 341.9 L349.3 342.0 L351.1 342.7 L352.9 343.5 L353.1 343.6 L354.7 342.9 L356.5 342.2 L357.1 341.9 L358.3 342.3 L360.1 342.8 L361.1 343.0 L361.9 343.8 L363.7 345.4 L365.1 346.7 L365.5 346.3 L367.3 344.8 L369.1 343.3 L369.1 343.3 L370.9 343.5 L372.7 343.6 L373.1 343.7 L374.5 343.3 L376.3 342.8 L377.1 342.6 L378.1 343.3 L379.9 344.6 L381.1 345.4 L381.7 345.2 L383.5 344.8 L385.1 344.4 L385.3 344.2 L387.1 342.9 L388.9 341.6 L389.1 341.4 L390.7 343.2 L392.5 345.1 L393.1 345.7 L394.3 345.2 L396.1 344.5 L397.1 344.0 L397.9 343.7 L399.7 342.9 L401.1 342.3 L401.5 342.5 L403.3 343.4 L405.1 344.2 L405.1 344.2 L406.9 343.5 L408.7 342.7 L409.1 342.6 L410.5 342.3 L412.3 342.0 L413.1 341.9 L414.1 342.6 L415.9 343.9 L417.1 344.8 L417.7 344.1 L419.5 342.2 L421.1 340.5 L421.3 340.6 L423.1 341.6 L424.9 342.7 L425.1 342.8 L426.7 342.1 L428.5 341.3 L429.1 341.1 L430.3 341.5 L432.1 342.3 L433.1 342.6 L433.9 342.1 L435.7 340.8 L437.1 339.8 L437.5 339.9 L439.3 340.5 L441.1 341.0 L441.1 341.0 L442.9 340.2 L444.7 339.3 L445.1 339.1 L446.5 339.6 L448.3 340.1 L449.1 340.3 L450.1 339.7 L451.9 338.6 L453.1 337.9 L453.7 337.8 L455.5 337.4 L457.1 337.2 L457.3 337.2 L459.1 337.7 L460.9 338.2 L461.1 338.2 L462.7 336.9 L464.5 335.4 L465.1 334.9 L466.3 335.3 L468.1 336.0 L469.1 336.4 L469.9 336.1 L471.7 335.3 L473.1 334.7 L473.5 334.8 L475.3 335.3 L477.1 335.8 L477.1 335.8 L478.9 335.4 L480.7 335.0 L481.1 334.9 L482.5 333.0 L484.3 330.6 L485.1 329.5 L486.1 331.0 L487.9 333.6 L489.1 335.3 L489.7 335.0 L491.5 333.9 L493.1 332.9 L493.3 332.8 L495.1 331.6 L496.9 330.3 L497.1 330.2 L498.7 330.7 L500.5 331.2 L501.1 331.4 L502.3 330.9 L504.1 330.0 L505.1 329.6 L505.9 329.6 L507.7 329.6 L509.1 329.6 L509.5 329.7 L511.3 330.4 L513.1 331.0 L513.1 331.0 L514.9 329.1 L516.7 327.1 L517.1 326.7 L518.5 327.6 L520.3 328.8 L521.1 329.3 L522.1 328.8 L523.9 327.8 L525.1 327.2 L525.7 327.1 L527.5 326.9 L529.1 326.6 L529.3 326.6 L531.1 326.3 L532.9 326.0 L533.1 326.0 L534.7 325.7 L536.5 325.4 L537.1 325.3 L538.3 325.1 L540.1 325.0 L541.1 324.8 L541.9 324.9 L543.7 325.1 L545.1 325.3 L545.5 325.0 L547.3 323.9 L549.1 322.7 L549.1 322.7 L550.8 322.6 L552.6 322.4 L553.1 322.4 L554.4 322.5 L556.2 322.6 L557.1 322.6 L558.0 322.5 L559.8 322.2 L561.1 322.0 L561.6 321.7 L563.4 320.7 L565.1 319.8 L565.2 319.8 L567.0 319.9 L568.8 320.0 L569.1 320.0 L570.6 320.1 L572.4 320.2 L573.1 320.3 L574.2 319.0 L576.0 317.1 L577.1 316.1 L577.8 316.7 L579.6 318.2 L581.1 319.4 L581.4 319.2 L583.2 318.4 L585.0 317.5 L585.1 317.5 L586.8 315.9 L588.6 314.4 L589.1 314.0 L590.4 315.1 L592.2 316.6 L593.1 317.2 L594.0 316.4 L595.8 314.9 L597.1 313.9 L597.6 313.9 L599.4 313.8 L601.1 313.8 L601.2 313.8 L603.0 313.6 L604.8 313.5 L605.1 313.5 L606.6 313.1 L608.4 312.8 L609.1 312.7 L610.2 312.6 L612.0 312.4 L613.1 312.4 L613.8 312.0 L615.6 311.1 L617.1 310.5 L617.4 310.3 L619.2 309.7 L621.0 309.0 L621.1 309.0 L622.8 309.7 L624.6 310.4 L625.1 310.6 L626.4 309.6 L628.2 308.4 L629.1 307.9 L630.0 308.5 L631.8 309.5 L633.1 310.2 L633.6 309.3 L635.4 306.8 L637.1 304.5 L637.2 304.6 L639.0 305.6 L640.8 306.6 L641.1 306.7 L642.6 305.4 L644.4 303.9 L645.1 303.3 L646.2 304.1 L648.0 305.4 L649.1 306.1 L649.8 304.8 L651.6 301.9 L653.1 299.7 L653.4 300.0 L655.2 301.8 L657.0 303.6 L657.1 303.6 L658.8 302.2 L660.6 300.8 L661.1 300.5 L662.4 300.2 L664.2 299.9 L665.1 299.7 L666.0 298.9 L667.8 297.4 L669.1 296.4 L669.6 296.7 L671.4 297.5 L673.1 298.3 L673.2 298.3 L675.0 297.7 L676.8 297.1 L677.1 297.0 L678.6 296.7 L680.4 296.5 L681.1 296.4 L682.2 296.0 L684.0 295.6 L685.1 295.3 L685.8 295.3 L687.6 295.3 L689.1 295.4 L689.4 295.3 L691.2 294.9 L693.0 294.5 L693.1 294.5 L694.8 293.8 L696.6 293.1 L697.1 292.9 L698.4 293.1 L700.2 293.3 L701.1 293.5 L702.0 293.6 L703.8 293.9 L705.1 294.1 L705.6 293.5 L707.4 291.7 L709.1 290.1 L709.2 290.2 L711.0 291.3 L712.8 292.4 L713.1 292.6 L714.6 291.8 L716.4 290.9 L717.1 290.6 L718.2 290.5 L720.0 290.4 L721.1 290.3 L721.8 290.3 L723.6 290.3 L725.1 290.4 L725.4 290.2 L727.2 289.4 L729.0 288.6 L729.1 288.6 L730.8 288.6 L732.6 288.6 L733.1 288.6 L734.4 288.9 L736.2 289.4 L737.1 289.6 L738.0 288.8 L739.8 287.4 L741.1 286.4 L741.6 286.4 L743.4 286.4 L745.1 286.5 L745.2 286.5 L747.0 287.1 L748.8 287.6 L749.1 287.7 L750.6 286.6 L752.4 285.5 L753.1 285.0 L754.2 285.6 L756.0 286.5 L757.1 287.1 L757.8 286.2 L759.6 284.2 L761.1 282.6 L761.4 282.6 L763.2 282.6 L765.0 282.5 L765.1 282.5 L766.8 283.5 L768.6 284.5 L769.1 284.8 L770.4 283.8 L772.2 282.4 L773.1 281.8 L774.0 281.6 L775.8 281.1 L777.1 280.8 L777.6 280.7 L779.4 280.1 L781.1 279.5 L781.2 279.4 L783.0 278.8 L784.8 278.1 L785.1 278.0 L786.6 278.1 L788.4 278.3 L789.1 278.4 L790.2 278.0 L792.0 277.3 L793.1 276.9 L793.8 276.3 L795.6 274.7 L797.1 273.5 L797.4 273.6 L799.2 274.5 L801.0 275.4 L801.1 275.4 L802.8 274.6 L804.6 273.7 L805.1 273.5 L806.4 273.4 L808.2 273.3 L809.1 273.2 L810.0 272.5 L811.8 271.3 L813.1 270.4 L813.6 270.8 L815.4 272.1 L817.1 273.3 L817.2 273.2 L819.0 271.9 L820.8 270.6 L821.1 270.5 L822.6 269.6 L824.4 268.6 L825.1 268.2 L826.2 269.3 L828.0 270.9 L829.1 271.8 L829.8 271.3 L831.6 270.1 L833.1 269.1 L833.4 269.0 L835.2 268.5 L837.0 268.1 L837.1 268.1 L838.8 268.1 L840.6 268.1 L841.1 268.1 L842.4 267.8 L844.2 267.3 L845.1 267.1 L846.0 267.9 L847.8 269.3 L849.1 270.3 L849.6 269.3 L851.4 265.8 L853.1 262.7 L853.2 262.8 L855.0 264.3 L856.8 265.7 L857.1 265.9 L858.6 265.4 L860.4 264.8 L861.1 264.5 L862.2 263.6 L864.0 262.2 L865.1 261.4 L865.8 261.7 L867.6 262.3 L869.1 262.9 L869.4 262.8 L871.2 262.1 L873.0 261.5 L873.1 261.5 L874.8 260.4 L876.6 259.4 L877.1 259.1 L878.4 259.5 L880.2 260.0 L881.1 260.3 L882.0 260.4 L883.8 260.8 L885.1 261.0 L885.6 260.3 L887.4 258.2 L889.1 256.2 L889.2 256.3 L891.0 258.1 L892.8 259.9 L893.1 260.1 L894.6 259.2 L896.4 258.2 L897.1 257.8 L898.2 258.6 L900.0 259.7 L901.1 260.3 L901.8 259.7 L903.6 258.0 L905.1 256.6 L905.4 256.6 L907.2 256.3 L909.0 256.1 L909.1 256.1 L910.8 255.7 L912.6 255.4 L913.1 255.3 L914.4 255.7 L916.2 256.2 L917.1 256.4 L918.0 255.7 L919.8 254.4 L921.1 253.5 L921.6 253.8 L923.4 255.1 L925.1 256.2 L925.2 256.1 L927.0 255.4 L928.8 254.6 L929.1 254.5 L930.6 254.1 L932.4 253.6 L933.1 253.4 L934.2 254.1 L936.0 255.2 L937.1 255.9 L937.8 255.6 L939.6 255.0 L941.1 254.4 L941.4 254.2 L943.2 253.3 L945.0 252.3 L945.1 252.2 L946.8 253.0 L948.6 253.8 L949.1 254.0 L950.4 254.5 L952.2 255.1 L953.1 255.4 L954.0 254.1 L955.8 251.6 L957.1 249.8 L957.6 250.4 L959.4 252.4 L961.1 254.2 L961.2 254.0 L963.0 252.0 L964.8 250.0 L965.1 249.7 L966.6 250.7 L968.4 252.0 L969.1 252.5 L970.2 252.0 L972.0 251.3 L973.1 250.9 L973.8 250.7 L975.6 250.1 L977.1 249.7 L977.4 249.5 L979.2 248.2 L981.0 246.9 L981.1 246.9 L982.8 247.9 L984.6 249.0 L985.1 249.2 L986.4 249.5 L988.2 249.9 L989.1 250.0 L990.0 248.6 L991.8 245.9 L993.1 244.0 L993.6 244.5 L995.4 246.2 L997.1 247.8 L997.2 247.6 L999.0 245.1 L1000.8 242.7 L1001.1 242.3 L1002.6 243.5 L1004.4 245.0 L1005.1 245.6 L1006.2 245.3 L1008.0 244.9 L1009.1 244.6 L1009.8 244.6 L1011.6 244.5 L1013.1 244.4 L1013.4 244.4 L1015.2 244.5 L1017.0 244.5 L1017.1 244.5 L1018.8 245.3 L1020.6 246.2 L1021.1 246.4 L1022.4 246.3 L1024.2 246.1 L1025.1 245.9 L1026.0 246.2 L1027.8 246.6 L1029.1 246.9 L1029.6 247.0 L1031.4 247.2 L1033.1 247.2 L1033.2 247.1 L1035.0 245.7 L1036.8 244.3 L1037.1 244.0 L1038.6 244.4 L1040.4 244.8 L1041.1 244.9 L1042.2 244.6 L1044.0 244.2 L1045.1 243.9 L1045.8 243.6 L1047.6 242.8 L1049.1 242.3 L1049.4 242.1 L1051.2 241.3 L1053.0 240.6 L1053.1 240.6 L1054.8 241.8 L1056.6 243.1 L1057.1 243.5 L1058.4 243.2 L1060.2 242.8 L1061.1 242.7 L1062.0 242.9 L1063.8 243.3 L1065.1 243.6 L1065.6 243.5 L1067.4 243.3 L1069.1 243.0 L1069.2 243.0 L1071.0 243.9 L1072.8 244.8 L1073.1 244.9 L1074.6 244.2 L1076.4 243.4 L1077.1 243.0 L1078.2 243.8 L1080.0 245.1 L1081.1 245.9 L1081.8 245.2 L1083.6 243.4 L1085.1 241.9 L1085.4 242.0 L1087.2 242.4 L1089.0 242.8 L1089.1 242.8 L1090.8 242.3 L1092.6 241.8 L1093.1 241.6 L1094.4 241.8 L1096.2 242.1 L1097.1 242.2 L1098.0 242.0 L1099.8 241.7 L1101.1 241.5 L1101.6 241.7 L1103.4 242.5 L1105.1 243.3 L1105.2 243.2 L1107.0 242.5 L1108.8 241.7 L1109.1 241.6 L1110.6 241.5 L1112.4 241.3 L1113.1 241.3 L1114.2 241.8 L1116.0 242.6 L1117.1 243.1 L1117.8 242.9 L1119.6 242.5 L1121.1 242.2 L1121.4 242.1 L1123.2 241.3 L1125.0 240.5 L1125.1 240.4 L1126.8 241.9 L1128.6 243.5 L1129.1 243.9 L1130.4 242.9 L1132.2 241.6 L1133.1 241.0 L1134.0 241.3 L1135.8 241.8 L1137.1 242.3 L1137.6 242.3 L1139.4 242.4 L1141.1 242.6 L1141.2 242.6 L1143.0 242.1 L1144.8 241.6 L1145.1 241.6 L1146.6 241.5 L1148.4 241.5 L1149.1 241.5 L1150.2 241.9 L1152.0 242.6 L1153.1 243.1 L1153.8 242.9 L1155.6 242.4 L1157.1 242.1 L1157.4 242.0 L1159.2 241.9 L1161.0 241.8 L1161.1 241.7 L1162.8 242.1 L1164.6 242.6 L1165.1 242.7 L1166.4 242.4 L1168.2 242.0 L1169.1 241.8 L1169.9 242.1 L1171.7 242.8 L1173.1 243.3 L1173.5 243.0 L1175.3 241.9 L1177.1 240.9 L1177.1 240.9 L1178.9 240.7 L1180.7 240.5 L1181.1 240.4 L1182.5 241.8 L1184.3 243.6 L1185.1 244.2 L1186.1 243.6 L1187.9 242.4 L1189.1 241.7 L1189.7 241.9 L1191.5 242.3 L1193.1 242.7 L1193.3 242.6 L1195.1 241.9 L1196.9 241.1 L1197.1 241.1 L1198.7 241.9 L1200.5 242.8 L1201.1 243.0 L1202.3 242.8 L1204.1 242.4 L1205.1 242.3 L1205.9 242.0 L1207.7 241.5 L1209.1 241.1 L1209.5 241.3 L1211.3 242.4 L1213.1 243.4 L1213.1 243.4 L1214.9 242.6 L1216.7 241.9 L1217.1 241.8 L1218.5 242.8 L1220.3 244.0 L1221.1 244.5 L1222.1 243.9 L1223.9 242.9 L1225.1 242.3 L1225.7 242.6 L1227.5 243.1 L1229.1 243.6 L1229.3 243.5 L1231.1 242.9 L1232.9 242.4 L1233.1 242.4 L1234.7 244.0 L1236.5 245.8 L1237.1 246.3 L1238.3 245.6 L1240.1 244.7 L1241.1 244.3 L1241.9 244.2 L1243.7 244.1 L1245.1 244.1 L1245.5 244.8 L1247.3 247.2 L1249.1 249.6 L1249.1 249.6 L1250.9 248.9 L1252.7 248.1 L1253.1 248.0 L1254.5 248.0 L1256.3 248.1 L1257.1 248.1 L1258.1 248.5 L1259.9 249.1 L1261.1 249.5 L1261.7 249.6 L1263.5 249.9 L1265.1 250.2 L1265.3 250.3 L1267.1 250.8 L1268.9 251.2 L1269.1 251.3 L1270.7 251.2 L1272.5 251.1 L1273.1 251.1 L1274.3 251.8 L1276.1 252.9 L1277.1 253.4 L1277.9 253.6 L1279.7 253.8 L1281.1 254.1 L1281.5 254.3 L1283.3 254.9 L1285.1 255.6 L1285.1 255.6 L1286.9 256.5 L1288.7 257.4 L1289.1 257.5 L1290.5 257.9 L1292.3 258.4 L1293.1 258.5 L1294.1 259.0 L1295.9 259.9 L1297.1 260.4 L1297.7 260.6 L1299.5 261.3 L1301.1 261.9 L1301.3 262.1 L1303.1 263.0 L1304.9 264.0 L1305.1 264.0 L1306.7 264.6 L1308.5 265.3 L1309.1 265.5 L1310.3 266.4 L1312.1 267.6 L1313.1 268.3 L1313.9 268.8 L1315.7 269.8 L1317.1 270.5 L1317.5 270.8 L1319.3 272.1 L1321.1 273.4 L1321.1 273.5 L1322.9 274.3 L1324.7 275.3 L1325.1 275.5 L1326.5 277.1 L1328.3 279.2 L1329.1 280.1 L1330.1 281.2 L1331.9 283.2 L1333.1 284.6 L1333.7 285.3 L1335.5 287.1 L1337.1 288.8 L1337.3 289.1 L1339.1 291.6 L1340.9 294.0 L1341.1 294.2 L1342.7 296.7 L1344.5 299.5 L1345.1 300.3 L1346.3 301.9 L1348.1 304.2 L1349.1 305.4 L1349.9 306.7 L1351.7 309.5 L1353.1 311.6 L1353.5 312.2 L1355.3 314.8 L1357.1 317.3 L1357.1 317.5 L1358.9 320.8 L1360.7 324.2 L1361.1 324.8 L1362.5 327.4 L1364.3 330.6 L1365.1 331.9 L1366.1 333.7 L1367.9 337.0 L1369.1 339.3 L1369.7 340.9 L1371.5 345.4 L1373.1 349.8 L1373.3 350.6 L1375.1 356.1 L1376.9 362.1 L1377.1 362.5 L1378.7 368.9 L1380.5 375.9 L1381.1 378.0 L1382.3 383.2 L1384.1 390.8 L1385.1 394.8 L1385.9 397.8 L1387.7 404.1 L1389.1 409.3 L1389.5 411.7 L1391.3 420.5 L1393.1 427.1 L1393.1 427.2 L1394.9 430.5 L1396.7 432.4 L1397.1 432.5 L1398.5 432.0 L1400.3 426.7 L1401.1 423.7 L1402.1 413.9 L1403.9 389.8 L1405.1 378.7 L1405.7 373.8 L1407.5 361.8 L1409.1 351.5 L1409.3 349.4 L1411.1 334.9 L1412.9 320.4 L1413.1 319.2 L1414.7 307.0 L1416.5 293.9 L1417.1 290.1 L1418.3 281.7 L1420.1 270.1 L1421.1 264.4 L1421.9 258.8 L1423.7 248.3 L1425.1 241.2 L1425.5 239.6 L1427.3 234.2 L1429.1 229.7 L1429.1 229.5 L1430.9 223.8 L1432.7 218.4 L1433.1 217.4 L1434.5 213.7 L1436.3 209.4 L1437.1 207.6 L1438.1 205.5 L1439.9 202.0 L1441.1 200.0 L1441.7 198.7 L1443.5 195.3 L1445.1 192.6 L1445.3 192.2 L1447.1 190.0 L1448.9 188.0 L1449.1 187.8 L1450.7 185.7 L1452.5 183.5 L1453.1 182.9 L1454.3 181.5 L1456.1 179.6 L1457.1 178.7 L1457.9 178.5 L1459.7 178.1 L1461.1 177.9 L1461.5 177.3 L1463.3 175.0 L1465.1 172.7 L1465.1 172.6 L1466.9 171.4 L1468.7 170.1 L1469.1 169.8 L1470.5 169.4 L1472.3 169.0 L1473.1 169.0 L1474.1 167.6 L1475.9 165.4 L1477.1 164.1 L1477.7 164.3 L1479.5 165.2"/>
<path stroke="#008000" d="M239.5 278.6 L241.3 279.0 L242.7 279.4 L243.1 279.5 L244.9 280.2 L246.3 280.8 L246.7 280.8 L248.5 280.7 L249.9 280.7 L250.3 280.6 L252.1 280.2 L253.5 279.9 L253.9 280.3 L255.7 282.0 L257.1 283.2 L257.5 282.8 L259.3 281.0 L260.7 279.7 L261.1 280.6 L262.9 284.3 L264.3 287.2 L264.7 286.4 L266.5 283.0 L267.9 280.5 L268.3 281.0 L270.1 283.4 L271.5 285.2 L271.9 285.6 L273.7 287.3 L275.1 288.7 L275.5 289.5 L277.3 293.1 L278.7 295.9 L279.1 294.7 L280.9 289.7 L282.3 286.0 L282.7 287.0 L284.5 291.4 L285.9 294.9 L286.3 295.2 L288.1 296.6 L289.5 297.7 L289.9 298.4 L291.7 301.5 L293.1 303.8 L293.5 304.1 L295.3 305.4 L296.7 306.3 L297.1 306.3 L298.9 306.6 L300.3 306.8 L300.7 306.4 L302.5 304.8 L303.9 303.5 L304.3 305.6 L306.1 314.3 L307.5 320.9 L307.9 319.8 L309.7 315.3 L311.1 311.8 L311.5 313.3 L313.3 319.6 L314.7 324.3 L315.1 323.4 L316.9 319.4 L318.3 316.3 L318.7 317.6 L320.5 323.1 L321.9 327.2 L322.3 326.9 L324.1 325.4 L325.5 324.3 L325.9 324.0 L327.7 322.3 L329.1 321.1 L329.5 322.4 L331.3 327.5 L332.7 331.4 L333.1 331.2 L334.9 330.4 L336.3 329.7 L336.7 329.5 L338.5 328.5 L339.9 327.7 L340.3 328.1 L342.1 329.9 L343.5 331.2 L343.9 331.5 L345.7 332.8 L347.1 333.7 L347.5 333.1 L349.3 330.9 L350.7 329.2 L351.1 330.1 L352.9 333.8 L354.3 336.5 L354.7 336.3 L356.5 335.7 L357.9 335.1 L358.3 334.9 L360.1 333.9 L361.5 333.2 L361.9 332.6 L363.7 330.2 L365.1 328.4 L365.5 329.9 L367.3 336.0 L368.7 340.6 L369.1 340.4 L370.9 339.4 L372.3 338.7 L372.7 337.8 L374.5 334.2 L375.9 331.4 L376.3 333.1 L378.1 339.9 L379.5 345.1 L379.9 343.7 L381.7 337.9 L383.1 333.5 L383.5 334.7 L385.3 339.3 L386.7 342.8 L387.1 342.4 L388.9 340.6 L390.3 339.3 L390.7 339.1 L392.5 338.4 L393.9 337.8 L394.3 338.2 L396.1 339.7 L397.5 340.9 L397.9 340.6 L399.7 339.6 L401.1 338.7 L401.5 339.4 L403.3 342.0 L404.7 344.0 L405.1 343.4 L406.9 341.1 L408.3 339.4 L408.7 339.6 L410.5 340.3 L411.9 340.9 L412.3 340.8 L414.1 340.7 L415.5 340.6 L415.9 340.3 L417.7 339.3 L419.1 338.6 L419.5 338.8 L421.3 339.8 L422.7 340.5 L423.1 340.6 L424.9 341.0 L426.3 341.2 L426.7 341.1 L428.5 340.5 L429.9 340.1 L430.3 339.7 L432.1 337.9 L433.5 336.5 L433.9 337.8 L435.7 342.8 L437.1 346.6 L437.5 345.1 L439.3 339.1 L440.7 334.7 L441.1 335.2 L442.9 337.0 L444.3 338.4 L444.7 338.1 L446.5 336.8 L447.9 335.9 L448.3 336.4 L450.1 338.4 L451.5 339.8 L451.9 339.5 L453.7 338.3 L455.1 337.4 L455.5 337.9 L457.3 340.0 L458.7 341.5 L459.1 340.6 L460.9 336.9 L462.3 334.2 L462.7 334.3 L464.5 334.9 L465.9 335.2 L466.3 335.5 L468.1 336.5 L469.5 337.3 L469.9 337.0 L471.7 336.1 L473.1 335.4 L473.5 335.6 L475.3 336.2 L476.7 336.6 L477.1 335.9 L478.9 333.0 L480.3 330.9 L480.7 331.2 L482.5 332.0 L483.9 332.6 L484.3 332.9 L486.1 334.2 L487.5 335.1 L488.0 334.2 L489.8 330.5 L491.1 327.8 L491.6 328.4 L493.4 330.5 L494.7 332.1 L495.2 332.2 L497.0 332.5 L498.3 332.7 L498.8 332.1 L500.6 329.9 L501.9 328.3 L502.4 327.9 L504.2 326.5 L505.5 325.5 L506.0 326.7 L507.8 331.3 L509.1 334.7 L509.6 332.9 L511.4 326.2 L512.7 321.2 L513.2 322.1 L515.0 325.6 L516.3 328.2 L516.8 328.0 L518.6 327.3 L519.9 326.8 L520.4 326.6 L522.2 325.6 L523.5 325.0 L524.0 325.0 L525.8 325.1 L527.1 325.2 L527.6 325.2 L529.4 325.4 L530.7 325.5 L531.2 324.7 L533.0 321.5 L534.3 319.2 L534.8 319.8 L536.6 322.1 L537.9 323.7 L538.4 323.0 L540.2 320.4 L541.5 318.5 L542.0 319.4 L543.8 323.0 L545.1 325.6 L545.6 325.2 L547.4 323.6 L548.7 322.5 L549.2 321.5 L551.0 317.8 L552.3 315.1 L552.8 315.6 L554.6 317.5 L555.9 318.9 L556.4 319.1 L558.2 319.7 L559.5 320.2 L560.0 319.7 L561.8 317.6 L563.1 316.1 L563.6 316.8 L565.4 319.7 L566.7 321.8 L567.2 320.3 L569.0 314.7 L570.3 310.6 L570.8 312.5 L572.6 319.6 L573.9 324.8 L574.4 323.1 L576.2 316.9 L577.5 312.4 L578.0 312.6 L579.8 313.3 L581.1 313.7 L581.6 314.2 L583.4 315.8 L584.7 317.1 L585.2 316.7 L587.0 315.2 L588.3 314.2 L588.8 314.5 L590.6 315.6 L591.9 316.4 L592.4 315.3 L594.2 310.9 L595.5 307.7 L596.0 308.5 L597.8 311.6 L599.1 313.9 L599.6 313.8 L601.4 313.3 L602.7 312.9 L603.2 312.7 L605.0 312.1 L606.3 311.7 L606.8 310.8 L608.6 307.6 L609.9 305.3 L610.4 306.1 L612.2 309.0 L613.5 311.1 L614.0 311.3 L615.8 312.1 L617.1 312.6 L617.6 311.6 L619.4 308.0 L620.7 305.3 L621.2 305.5 L623.0 306.1 L624.3 306.5 L624.8 307.0 L626.6 308.8 L627.9 310.2 L628.4 308.6 L630.2 303.1 L631.5 299.0 L632.0 300.8 L633.8 307.1 L635.1 311.7 L635.6 310.6 L637.4 306.6 L638.7 303.7 L639.2 303.8 L641.0 304.2 L642.3 304.4 L642.8 304.5 L644.6 304.7 L645.9 304.9 L646.4 303.9 L648.2 300.6 L649.5 298.2 L650.0 299.9 L651.8 306.2 L653.1 310.7 L653.6 308.8 L655.4 301.7 L656.7 296.7 L657.2 297.7 L659.0 301.2 L660.3 303.7 L660.8 302.7 L662.6 299.2 L663.9 296.7 L664.4 298.3 L666.2 303.8 L667.5 307.9 L668.0 306.1 L669.8 299.6 L671.1 295.0 L671.6 295.8 L673.4 298.7 L674.7 300.8 L675.2 301.1 L677.0 302.1 L678.3 302.8 L678.8 301.8 L680.6 298.2 L681.9 295.7 L682.4 296.4 L684.2 298.8 L685.5 300.6 L686.0 299.9 L687.8 297.3 L689.1 295.5 L689.6 296.0 L691.4 298.0 L692.7 299.5 L693.2 298.5 L695.0 295.1 L696.3 292.7 L696.8 293.9 L698.6 298.4 L699.9 301.6 L700.4 300.2 L702.2 295.2 L703.5 291.6 L704.0 292.4 L705.8 295.2 L707.1 297.2 L707.6 296.7 L709.4 294.8 L710.7 293.5 L711.2 292.7 L713.0 290.1 L714.3 288.2 L714.8 289.6 L716.6 294.6 L717.9 298.2 L718.4 297.7 L720.2 295.9 L721.5 294.6 L722.0 293.1 L723.8 287.7 L725.1 283.9 L725.6 285.8 L727.4 292.5 L728.7 297.2 L729.2 295.6 L731.0 290.1 L732.3 286.1 L732.8 285.8 L734.6 285.0 L735.9 284.4 L736.4 285.5 L738.2 289.4 L739.5 292.2 L740.0 290.8 L741.8 286.1 L743.1 282.8 L743.6 283.1 L745.4 284.2 L746.7 285.0 L747.2 285.1 L749.0 285.4 L750.3 285.6 L750.8 284.4 L752.6 280.3 L753.9 277.4 L754.4 278.4 L756.2 281.9 L757.5 284.4 L758.0 283.6 L759.8 280.7 L761.1 278.7 L761.6 279.4 L763.4 281.8 L764.7 283.5 L765.2 282.3 L767.0 278.4 L768.3 275.6 L768.8 275.9 L770.6 276.8 L771.9 277.5 L772.4 277.3 L774.2 276.5 L775.5 276.0 L776.0 276.5 L777.8 278.2 L779.1 279.4 L779.6 279.0 L781.4 277.6 L782.7 276.6 L783.2 276.5 L785.0 276.2 L786.3 276.0 L786.8 275.1 L788.6 271.9 L789.9 269.6 L790.4 271.0 L792.2 275.6 L793.5 278.9 L794.0 277.4 L795.8 272.4 L797.1 268.9 L797.6 270.4 L799.4 275.6 L800.7 279.3 L801.2 277.7 L803.0 272.4 L804.3 268.6 L804.8 269.5 L806.6 272.6 L807.9 274.8 L808.4 274.5 L810.2 273.5 L811.5 272.7 L812.0 272.2 L813.8 270.3 L815.1 269.0 L815.6 270.4 L817.4 275.1 L818.7 278.4 L819.2 277.0 L821.0 272.4 L822.3 269.1 L822.8 269.5 L824.6 270.8 L825.9 271.7 L826.4 271.8 L828.2 272.3 L829.5 272.7 L830.0 272.0 L831.8 269.9 L833.1 268.3 L833.6 268.9 L835.4 271.0 L836.7 272.4 L837.2 271.1 L839.0 266.9 L840.3 264.0 L840.8 264.9 L842.6 267.7 L843.9 269.7 L844.4 269.7 L846.2 269.7 L847.5 269.8 L848.0 269.0 L849.8 266.5 L851.1 264.8 L851.6 264.5 L853.4 263.4 L854.7 262.8 L855.2 263.3 L857.0 265.0 L858.3 266.3 L858.8 267.1 L860.6 270.0 L861.9 272.0 L862.4 271.0 L864.2 267.8 L865.5 265.5 L866.0 266.6 L867.8 270.1 L869.1 272.5 L869.6 272.0 L871.4 270.1 L872.7 268.9 L873.2 269.2 L875.0 270.3 L876.3 271.0 L876.8 271.3 L878.6 272.1 L879.9 272.7 L880.4 272.9 L882.2 273.6 L883.5 274.1 L884.0 273.9 L885.8 273.3 L887.1 272.8 L887.6 274.0 L889.4 278.1 L890.7 280.9 L891.2 279.6 L893.0 275.1 L894.3 272.1 L894.8 273.1 L896.6 276.5 L897.9 278.9 L898.4 278.9 L900.2 279.1 L901.5 279.2 L902.0 280.0 L903.8 282.9 L905.1 284.9 L905.6 284.0 L907.4 280.8 L908.7 278.5 L909.2 279.0 L911.0 280.6 L912.3 281.6 L912.8 282.1 L914.6 283.6 L915.9 284.7 L916.4 285.4 L918.2 287.6 L919.5 289.1 L920.0 287.3 L921.8 281.7 L923.1 277.8 L923.6 279.2 L925.4 283.9 L926.7 287.1 L927.2 287.2 L929.0 287.7 L930.3 288.0 L930.8 288.3 L932.6 289.2 L933.9 289.8 L934.4 289.1 L936.2 286.9 L937.5 285.3 L938.0 286.2 L939.8 288.8 L941.1 290.7 L941.6 290.4 L943.4 289.4 L944.7 288.7 L945.2 288.2 L947.0 286.4 L948.3 285.3 L948.8 287.2 L950.6 293.5 L951.9 298.0 L952.4 296.7 L954.2 292.9 L955.5 290.6 L956.0 290.8 L957.8 291.6 L959.1 292.1 L959.6 294.5 L961.4 302.2 L962.7 307.2 L963.2 305.7 L965.0 300.7 L966.3 297.3 L966.8 298.8 L968.6 303.4 L969.9 306.5 L970.4 305.8 L972.2 303.5 L973.5 301.7 L974.0 302.5 L975.8 305.3 L977.1 307.2 L977.6 306.7 L979.4 305.0 L980.7 303.9 L981.2 303.7 L983.0 303.1 L984.3 302.7 L984.9 303.3 L986.7 305.9 L987.9 308.2 L988.5 308.5 L990.3 309.6 L991.5 310.5 L992.1 310.8 L993.9 311.6 L995.1 311.9 L995.7 313.7 L997.5 319.4 L998.7 323.3 L999.3 321.7 L1001.1 316.6 L1002.3 313.2 L1002.9 315.4 L1004.7 322.2 L1005.9 326.9 L1006.5 326.7 L1008.3 326.2 L1009.5 325.9 L1010.1 327.2 L1011.9 331.3 L1013.1 334.1 L1013.7 333.5 L1015.5 331.6 L1016.7 330.4 L1017.3 331.0 L1019.1 333.2 L1020.3 334.8 L1020.9 335.2 L1022.7 336.4 L1023.9 337.3 L1024.5 338.7 L1026.3 342.9 L1027.5 345.8 L1028.1 346.3 L1029.9 347.9 L1031.1 348.9 L1031.7 348.7 L1033.5 348.1 L1034.7 347.6 L1035.3 348.1 L1037.1 349.5 L1038.3 350.6 L1038.9 351.2 L1040.7 353.4 L1041.9 355.3 L1042.5 357.4 L1044.3 364.3 L1045.5 369.4 L1046.1 369.5 L1047.9 370.4 L1049.1 371.3 L1049.7 373.5 L1051.5 380.6 L1052.7 385.8 L1053.3 388.2 L1055.1 395.3 L1056.3 399.8 L1056.9 401.7 L1058.7 407.2 L1059.9 410.6 L1060.5 411.0 L1062.3 412.5 L1063.5 413.8 L1064.1 416.6 L1065.9 425.4 L1067.1 431.6 L1067.7 433.2 L1069.5 438.0 L1070.7 441.2 L1071.3 443.5 L1073.1 448.2 L1074.3 448.6 L1074.9 448.4 L1076.7 447.7 L1077.9 447.1 L1078.5 446.8 L1080.3 445.7 L1081.5 444.9 L1082.1 444.1 L1083.9 441.2 L1085.1 438.6 L1085.7 438.5 L1087.5 437.9 L1088.7 437.4 L1089.3 435.4 L1091.1 429.7 L1092.3 426.0 L1092.9 425.8 L1094.7 424.9 L1095.9 424.0 L1096.5 422.6 L1098.3 417.3 L1099.5 413.0 L1100.1 410.5 L1101.9 402.4 L1103.1 396.9 L1103.7 395.2 L1105.5 389.9 L1106.7 386.4 L1107.3 383.5 L1109.1 374.3 L1110.3 367.7 L1110.9 365.4 L1112.7 359.2 L1113.9 356.0 L1114.5 354.4 L1116.3 350.3 L1117.5 348.0 L1118.1 346.8 L1119.9 343.0 L1121.1 340.4 L1121.7 339.7 L1123.5 337.6 L1124.7 336.3 L1125.3 334.6 L1127.1 329.4 L1128.3 325.5 L1128.9 324.4 L1130.7 320.8 L1131.9 318.9 L1132.5 317.0 L1134.3 313.5 L1135.5 312.5 L1136.1 312.6 L1137.9 313.0 L1139.1 313.2 L1139.7 314.0 L1141.5 315.8 L1142.7 316.0 L1143.3 314.0 L1145.1 307.3 L1146.3 302.4 L1146.9 302.6 L1148.7 303.1 L1149.9 303.7 L1150.5 303.5 L1152.3 303.6 L1153.5 304.1 L1154.1 302.3 L1155.9 297.1 L1157.1 293.8 L1157.7 294.8 L1159.5 298.0 L1160.7 300.0 L1161.3 297.8 L1163.1 291.3 L1164.3 286.7 L1164.9 287.9 L1166.7 291.3 L1167.9 293.4 L1168.5 292.7 L1170.3 290.6 L1171.5 289.4 L1172.1 289.0 L1173.9 288.3 L1175.1 288.1 L1175.7 287.4 L1177.5 285.2 L1178.7 283.9 L1179.3 284.0 L1181.1 284.3 L1182.3 284.5 L1182.9 284.2 L1184.7 283.2 L1185.9 280.8 L1186.5 278.2 L1188.3 269.3 L1189.5 266.6 L1190.1 267.6 L1191.9 270.6 L1193.1 272.7 L1193.7 271.3 L1195.5 267.2 L1196.7 264.5 L1197.3 265.6 L1199.1 268.8 L1200.3 271.0 L1200.9 269.3 L1202.7 264.3 L1203.9 261.0 L1204.5 262.3 L1206.3 266.1 L1207.5 268.6 L1208.1 268.5 L1209.9 268.0 L1211.1 267.5 L1211.7 265.2 L1213.5 258.4 L1214.7 253.9 L1215.3 255.5 L1217.1 260.4 L1218.3 263.7 L1218.9 262.9 L1220.7 260.5 L1221.9 259.1 L1222.5 259.8 L1224.3 262.0 L1225.5 263.3 L1226.1 260.2 L1227.9 251.0 L1229.1 244.6 L1229.7 246.9 L1231.5 248.7"/>
<path stroke="#ff0000" d="M239.5 288.7 L240.8 286.7 L241.3 287.7 L243.1 291.0 L244.1 292.8 L244.9 292.0 L246.7 290.0 L247.4 289.3 L248.5 289.1 L250.3 288.9 L250.7 288.8 L252.1 288.5 L253.9 288.3 L254.0 288.3 L255.7 287.4 L257.3 286.8 L257.5 287.0 L259.3 288.1 L260.6 289.1 L261.1 288.8 L262.9 287.8 L263.9 287.4 L264.7 289.7 L266.5 294.6 L267.2 296.4 L268.3 295.5 L270.1 294.0 L270.5 293.7 L271.9 294.4 L273.7 295.1 L273.8 295.2 L275.5 297.2 L277.1 299.0 L277.3 299.4 L279.1 302.6 L280.4 304.8 L280.9 304.5 L282.7 303.5 L283.7 302.9 L284.5 303.4 L286.3 304.6 L287.0 305.0 L288.1 303.8 L289.9 302.0 L290.3 301.6 L291.7 306.3 L293.5 312.0 L293.6 312.2 L295.3 309.7 L296.9 307.4 L297.1 308.4 L298.9 315.0 L300.2 319.7 L300.7 318.2 L302.5 313.2 L303.5 310.6 L304.3 312.4 L306.1 316.3 L306.8 317.7 L307.9 318.3 L309.7 319.2 L310.1 319.4 L311.5 322.5 L313.3 326.2 L313.4 326.3 L315.1 323.5 L316.7 320.9 L316.9 321.3 L318.7 323.7 L320.0 325.3 L320.5 325.5 L322.3 326.3 L323.3 326.6 L324.1 325.1 L325.9 322.0 L326.6 320.9 L327.7 322.8 L329.5 325.8 L329.9 326.4 L331.3 325.4 L333.1 324.2 L333.2 324.1 L334.9 326.5 L336.5 328.6 L336.7 328.0 L338.5 323.9 L339.8 321.1 L340.3 323.0 L342.1 329.2 L343.1 332.4 L343.9 330.7 L345.7 327.3 L346.4 326.1 L347.5 325.7 L349.4 325.1 L349.7 325.0 L351.2 330.7 L353.0 337.8 L353.0 337.9 L354.8 330.2 L356.3 323.6 L356.6 325.0 L358.4 334.1 L359.6 340.3 L360.2 338.3 L362.0 332.0 L362.9 328.7 L363.8 329.9 L365.6 332.4 L366.2 333.2 L367.4 333.9 L369.2 335.0 L369.5 335.2 L371.0 333.9 L372.8 332.4 L372.8 332.4 L374.6 332.3 L376.1 332.2 L376.4 332.1 L378.2 332.1 L379.4 332.1 L380.0 331.7 L381.8 330.6 L382.7 330.0 L383.6 331.1 L385.4 333.5 L386.0 334.3 L387.2 332.5 L389.0 329.8 L389.3 329.3 L390.8 330.0 L392.6 330.8 L392.6 330.8 L394.4 329.9 L395.9 329.2 L396.2 329.5 L398.0 331.8 L399.2 333.3 L399.8 332.3 L401.6 329.3 L402.5 327.8 L403.4 329.0 L405.2 331.5 L405.8 332.3 L407.0 331.5 L408.8 330.4 L409.1 330.2 L410.6 330.6 L412.4 331.1 L412.4 331.1 L414.2 332.5 L415.7 333.7 L416.0 333.2 L417.8 330.3 L419.0 328.3 L419.6 328.1 L421.4 327.7 L422.3 327.5 L423.2 329.5 L425.0 333.7 L425.6 335.0 L426.8 332.4 L428.6 328.5 L428.9 327.9 L430.4 329.3 L432.2 330.9 L432.2 330.8 L434.0 329.5 L435.5 328.4 L435.8 328.6 L437.6 329.8 L438.8 330.5 L439.4 330.5 L441.2 330.4 L442.1 330.4 L443.0 329.3 L444.8 327.1 L445.4 326.4 L446.6 328.7 L448.4 332.1 L448.7 332.6 L450.2 327.8 L452.0 322.1 L452.0 322.1 L453.8 324.9 L455.3 327.1 L455.6 327.2 L457.4 327.9 L458.6 328.3 L459.2 327.9 L461.0 326.7 L461.9 326.1 L462.8 326.5 L464.6 327.4 L465.2 327.6 L466.4 325.5 L468.2 322.4 L468.5 322.0 L470.0 323.7 L471.8 325.8 L471.8 325.8 L473.6 328.3 L475.1 330.3 L475.4 328.9 L477.2 320.9 L478.4 315.6 L479.0 318.9 L480.8 328.3 L481.7 332.9 L482.6 326.5 L484.4 314.2 L485.0 310.3 L486.2 317.1 L488.0 327.0 L488.3 328.5 L489.8 323.0 L491.6 316.8 L491.6 316.7 L493.4 314.7 L494.9 313.2 L495.2 313.5 L497.0 315.3 L498.2 316.5 L498.8 316.9 L500.6 317.9 L501.5 318.4 L502.4 317.1 L504.2 314.6 L504.8 313.9 L506.0 314.4 L507.8 315.1 L508.1 315.2 L509.6 313.1 L511.4 310.8 L511.4 310.9 L513.2 313.5 L514.7 315.5 L515.0 315.4 L516.8 314.9 L518.0 314.5 L518.6 313.8 L520.4 311.7 L521.3 310.7 L522.2 311.0 L524.0 311.5 L524.6 311.7 L525.8 312.3 L527.6 313.3 L527.9 313.4 L529.4 310.1 L531.2 306.5 L531.2 306.6 L533.0 309.0 L534.5 310.9 L534.8 310.6 L536.6 309.2 L537.8 308.3 L538.4 308.2 L540.2 307.8 L541.1 307.7 L542.0 307.2 L543.8 306.4 L544.4 306.2 L545.6 308.3 L547.4 311.4 L547.7 311.8 L549.2 308.1 L551.0 304.0 L551.0 304.1 L552.8 307.8 L554.3 310.8 L554.6 310.0 L556.4 306.1 L557.6 303.7 L558.2 304.1 L560.0 305.1 L560.9 305.6 L561.8 306.5 L563.6 308.4 L564.2 308.9 L565.5 305.8 L567.3 301.5 L567.5 301.0 L569.1 304.2 L570.8 307.6 L570.9 307.6 L572.7 307.6 L574.1 307.6 L574.5 306.9 L576.3 303.6 L577.4 301.6 L578.1 302.6 L579.9 305.5 L580.7 306.8 L581.7 304.4 L583.5 300.0 L584.0 298.8 L585.3 302.5 L587.1 307.6 L587.3 308.3 L588.9 305.6 L590.6 302.6 L590.7 302.6 L592.5 302.6 L593.9 302.5 L594.3 303.1 L596.1 306.1 L597.2 307.9 L597.9 306.5 L599.7 302.9 L600.5 301.2 L601.5 302.7 L603.3 305.4 L603.8 306.2 L605.1 305.2 L606.9 303.8 L607.1 303.6 L608.7 302.7 L610.4 301.6 L610.5 301.8 L612.3 306.5 L613.7 310.2 L614.1 308.7 L615.9 301.9 L617.0 297.6 L617.7 299.4 L619.5 303.9 L620.3 306.0 L621.3 305.3 L623.1 303.9 L623.6 303.6 L624.9 301.2 L626.7 297.9 L626.9 297.6 L628.5 302.8 L630.2 308.4 L630.3 308.0 L632.1 300.1 L633.5 293.5 L633.9 294.2 L635.7 297.3 L636.8 299.1 L637.5 297.4 L639.3 293.4 L640.1 291.7 L641.1 292.0 L642.9 292.7 L643.4 292.9 L644.7 293.4 L646.5 294.1 L646.7 294.2 L648.3 289.6 L650.0 284.7 L650.1 284.8 L651.9 286.0 L653.3 286.9 L653.7 287.7 L655.5 291.0 L656.6 293.0 L657.3 290.8 L659.1 285.1 L659.9 282.6 L660.9 284.4 L662.7 287.5 L663.2 288.4 L664.5 286.9 L666.3 284.9 L666.5 284.7 L668.1 286.4 L669.8 288.2 L669.9 287.9 L671.7 283.1 L673.1 279.4 L673.5 280.2 L675.3 284.0 L676.4 286.3 L677.1 286.3 L678.9 286.4 L679.7 286.4 L680.7 283.8 L682.5 279.1 L683.0 277.9 L684.3 281.9 L686.1 287.3 L686.3 287.9 L687.9 283.8 L689.6 279.7 L689.7 279.8 L691.5 281.2 L692.9 282.3 L693.3 282.1 L695.1 281.0 L696.2 280.3 L696.9 281.5 L698.7 284.6 L699.5 285.9 L700.5 283.5 L702.3 279.3 L702.8 278.3 L704.1 279.6 L705.9 281.3 L706.1 281.5 L707.7 282.1 L709.4 282.8 L709.5 282.9 L711.3 284.0 L712.7 284.9 L713.1 284.2 L714.9 281.1 L716.0 279.3 L716.7 279.8 L718.5 281.0 L719.3 281.5 L720.3 281.1 L722.1 280.1 L722.6 279.9 L723.9 282.5 L725.7 285.9 L725.9 286.2 L727.5 280.8 L729.2 275.4 L729.3 275.2 L731.1 273.0 L732.5 271.5 L732.9 272.1 L734.7 275.0 L735.8 276.7 L736.5 275.3 L738.3 271.9 L739.1 270.4 L740.1 270.0 L741.9 269.2 L742.4 269.0 L743.7 270.4 L745.5 272.3 L745.7 272.5 L747.3 269.0 L749.0 265.6 L749.1 266.0 L750.9 269.7 L752.3 272.5 L752.7 271.9 L754.5 269.6 L755.6 268.6 L756.3 268.4 L758.1 268.3 L758.9 268.3 L759.9 271.0 L761.7 275.6 L762.2 276.7 L763.5 276.9 L765.3 276.7 L765.5 276.6 L767.1 276.7 L768.8 276.4 L768.9 276.3 L770.7 275.1 L772.1 274.2 L772.5 275.4 L774.3 280.0 L775.4 282.7 L776.1 279.8 L777.9 273.1 L778.7 270.4 L779.7 272.8 L781.5 276.8 L782.0 277.8 L783.4 279.2 L785.2 281.0 L785.3 281.2 L787.0 273.0 L788.6 265.0 L788.8 266.1 L790.6 277.3 L791.9 285.6 L792.4 283.4 L794.2 275.0 L795.2 270.3 L796.0 272.9 L797.8 278.9 L798.5 281.3 L799.6 278.3 L801.4 273.2 L801.8 272.0 L803.2 274.4 L805.0 277.4 L805.1 277.6 L806.8 277.4 L808.4 277.2 L808.6 277.1 L810.4 276.3 L811.7 275.7 L812.2 276.2 L814.0 277.7 L815.0 278.5 L815.8 277.9 L817.6 276.4 L818.3 275.8 L819.4 277.7 L821.2 280.8 L821.6 281.5 L823.0 276.1 L824.8 269.1 L824.9 268.7 L826.6 276.5 L828.2 283.9 L828.4 283.5 L830.2 280.1 L831.5 277.6 L832.0 277.1 L833.8 275.3 L834.8 274.3 L835.6 275.5 L837.4 278.4 L838.1 279.5 L839.2 277.6 L841.0 274.5 L841.4 273.8 L842.8 277.1 L844.6 281.3 L844.7 281.5 L846.4 280.0 L848.0 278.6 L848.2 278.6 L850.0 278.7 L851.3 278.7 L851.8 278.0 L853.6 275.3 L854.6 273.9 L855.4 275.2 L857.2 278.1 L857.9 279.3 L859.0 278.7 L860.8 277.8 L861.2 277.7 L862.6 278.8 L864.4 280.5 L864.5 280.6 L866.2 281.6 L867.8 282.7 L868.0 283.4 L869.8 289.0 L871.1 292.9 L871.6 290.9 L873.4 283.4 L874.4 279.2 L875.2 281.1 L877.0 285.2 L877.7 286.8 L878.8 287.9 L880.6 289.8 L881.0 290.2 L882.4 287.2 L884.2 283.4 L884.3 283.3 L886.0 288.6 L887.6 293.8 L887.8 293.8 L889.6 293.8 L890.9 294.0 L891.4 294.2 L893.2 295.1 L894.2 295.6 L895.0 296.4 L896.8 298.0 L897.5 298.6 L898.6 300.2 L900.4 302.7 L900.8 303.3 L902.2 303.7 L904.0 304.3 L904.1 304.3 L905.8 302.8 L907.4 301.7 L907.6 302.7 L909.4 310.2 L910.7 315.2 L911.2 314.2 L913.0 311.0 L914.0 309.4 L914.8 311.2 L916.6 314.8 L917.3 316.1 L918.4 315.7 L920.2 315.1 L920.6 315.0 L922.0 315.5 L923.8 316.3 L923.9 316.3 L925.6 321.7 L927.2 326.3 L927.4 326.0 L929.2 324.6 L930.5 324.0 L931.0 325.5 L932.8 330.4 L933.8 333.2 L934.6 334.0 L936.4 335.8 L937.1 336.4 L938.2 338.4 L940.0 341.3 L940.4 341.9 L941.8 344.7 L943.6 348.1 L943.7 348.3 L945.4 350.3 L947.0 352.4 L947.2 352.9 L949.0 357.1 L950.3 360.6 L950.8 362.4 L952.6 368.3 L953.6 371.4 L954.4 373.2 L956.2 376.3 L956.9 377.5 L958.0 380.6 L959.8 382.6 L960.2 382.7 L961.6 380.4 L963.4 376.7 L963.5 376.6 L965.2 373.6 L966.8 370.8 L967.0 370.6 L968.8 368.1 L970.1 365.7 L970.6 364.1 L972.4 358.2 L973.4 355.0 L974.2 351.8 L976.0 344.4 L976.7 341.6 L977.8 335.3 L979.6 324.3 L980.0 321.9 L981.4 313.0 L983.2 299.1 L983.3 298.8 L985.0 279.6 L986.6 261.5 L986.8 259.1 L988.6 244.8 L989.9 237.6 L990.4 233.0 L992.2 218.7 L993.2 210.6 L994.0 204.1 L995.8 190.2 L996.5 185.0 L997.6 173.4 L999.5 161.1 L999.8 159.3 L1001.3 153.4 L1003.1 147.4 L1003.1 147.3 L1004.9 145.9 L1006.4 145.6 L1006.7 144.8 L1008.5 139.9 L1009.7 136.7 L1010.3 134.4 L1012.1 127.5 L1013.0 123.9 L1013.9 126.7 L1015.7 132.9 L1016.3 135.3 L1017.5 128.8 L1019.3 118.3 L1019.6 116.4 L1021.1 116.1 L1022.9 115.8 L1022.9 115.7 L1024.7 117.4 L1026.2 119.0 L1026.5 117.7 L1028.3 110.1 L1029.5 105.2 L1030.1 105.6 L1031.9 106.8 L1032.8 107.4 L1033.7 106.2 L1035.5 103.8 L1036.1 103.1 L1037.3 107.0 L1039.1 113.2 L1039.4 114.3 L1040.9 107.6 L1042.7 99.7 L1042.7 99.7 L1044.5 97.6 L1046.0 95.9 L1046.3 96.9 L1048.1 103.0 L1049.3 107.1 L1049.9 108.2 L1051.7 111.5 L1052.6 113.2 L1053.5 109.7 L1055.3 102.6 L1055.9 100.3 L1057.1 100.9 L1058.9 101.8 L1059.2 102.0 L1060.7 103.2 L1062.5 104.6 L1062.5 104.6 L1064.3 106.6 L1065.8 108.2 L1066.1 107.1 L1067.9 100.4 L1069.1 95.9 L1069.7 97.8 L1071.5 103.7 L1072.4 106.7 L1073.3 105.0 L1075.1 101.6 L1075.7 100.5 L1076.9 101.8 L1078.7 103.7 L1079.0 104.0 L1080.5 102.7 L1082.3 101.2 L1082.3 101.2 L1084.1 103.5 L1085.6 105.4 L1085.9 105.6 L1087.7 106.8 L1088.9 107.6 L1089.5 103.6 L1091.3 92.0 L1092.2 86.3 L1093.1 94.6 L1094.9 111.0 L1095.5 116.4 L1096.7 108.7 L1098.5 97.2 L1098.8 95.4 L1100.3 98.5 L1102.1 102.1 L1102.1 102.1 L1103.9 105.9 L1105.4 109.1 L1105.7 108.0 L1107.5 101.7"/>
</g>
<g fill="#000" shape-rendering="crispEdges">
<rect x="956" y="154" width="7" height="950"/>
<rect x="1077" y="154" width="7" height="950"/>
<rect x="1394" y="154" width="7" height="950"/>
<rect x="1658" y="154" width="7" height="950"/>
</g>
<rect x="257.1" y="865.1" width="321.8" height="267.8" rx="8" ry="8" fill="#cccccc"/>
<rect x="262.9" y="869.9" width="311.3" height="258.3" rx="3.2" ry="3.2" fill="#ffffff"/>
<g stroke-width="8.3" stroke-linecap="butt">
<line x1="272.9" y1="899.0" x2="364.1" y2="899.0" stroke="#0000ff"/>
<line x1="272.9" y1="961.5" x2="364.1" y2="961.5" stroke="#bfbf00"/>
<line x1="272.9" y1="1024.0" x2="364.1" y2="1024.0" stroke="#008000"/>
<line x1="272.9" y1="1086.4" x2="364.1" y2="1086.4" stroke="#ff0000"/>
</g>
<g class="lg" font-size="41.67">
<text transform="translate(393.2 912.5) scale(1 1.04)" xml:space="preserve">96.5 <tspan class="mu" dx="1.6">μ</tspan>m</text>
<text transform="translate(393.2 975.0) scale(1 1.04)" xml:space="preserve">118.8 <tspan class="mu" dx="1.6">μ</tspan>m</text>
<text transform="translate(393.2 1037.5) scale(1 1.04)" xml:space="preserve">163 <tspan class="mu" dx="1.6">μ</tspan>m</text>
<text transform="translate(393.2 1099.9) scale(1 1.04)" xml:space="preserve">186 <tspan class="mu" dx="1.6">μ</tspan>m</text>
</g>
<rect x="239.5" y="41.5" width="1488.0" height="1110.0" fill="none" stroke="#000" stroke-width="7.0" shape-rendering="crispEdges"/>
<g font-size="83.33">
<text transform="translate(239.5 1224.2) scale(1 1.025)" text-anchor="middle">0</text>
<text transform="translate(487.5 1224.2) scale(1 1.025)" text-anchor="middle">2</text>
<text transform="translate(735.5 1224.2) scale(1 1.025)" text-anchor="middle">4</text>
<text transform="translate(983.5 1224.2) scale(1 1.025)" text-anchor="middle">6</text>
<text transform="translate(1231.5 1224.2) scale(1 1.025)" text-anchor="middle">8</text>
<text transform="translate(1479.5 1224.2) scale(1 1.025)" text-anchor="middle">10</text>
<text transform="translate(1727.5 1224.2) scale(1 1.025)" text-anchor="middle">12</text>
<text transform="translate(224.3 988.7) scale(1 1.025)" text-anchor="end">0.2</text>
<text transform="translate(224.3 788.1) scale(1 1.025)" text-anchor="end">0.3</text>
<text transform="translate(224.3 587.4) scale(1 1.025)" text-anchor="end">0.4</text>
<text transform="translate(224.3 386.8) scale(1 1.025)" text-anchor="end">0.5</text>
<text transform="translate(224.3 186.2) scale(1 1.025)" text-anchor="end">0.6</text>
<text transform="translate(982.6 1315.3) scale(1 1.025)" text-anchor="middle">B [T]</text>
<text transform="translate(86.5 596.6) rotate(-90) scale(1 1.025)" text-anchor="middle" letter-spacing="0.1">Transmission [arb. u.]</text>
</g>
</svg></body></html>
